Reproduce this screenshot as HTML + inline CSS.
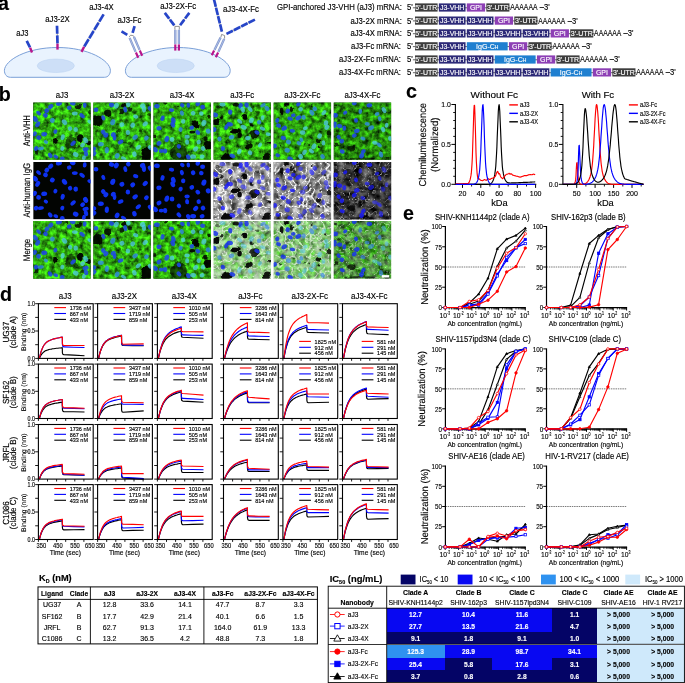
<!DOCTYPE html>
<html><head><meta charset="utf-8"><title>Figure</title>
<style>html,body{margin:0;padding:0;background:#fff}svg{display:block}text{font-family:"Liberation Sans",Arial,sans-serif;fill:#000;stroke:#000;stroke-width:.14px}.b{fill:var(--b);opacity:var(--ob)}.m{fill:var(--m);opacity:var(--om)}.c{fill:var(--c);opacity:var(--oc)}.nA{--b:#1030f0;--m:#1030f0;--c:#1030f0;--ob:1;--om:1;--oc:1}.nB{--b:#1818ff;--m:#2020ff;--c:#2828ff;--ob:.8;--om:.65;--oc:.55}.nC{--b:#1c48e8;--m:#3088e8;--c:#50cce8;--ob:.88;--om:.8;--oc:.75}.nD{--b:#1434ea;--m:#3a80ee;--c:#5ac8ee;--ob:.85;--om:.65;--oc:.55}</style></head>
<body>
<svg width="685" height="683" viewBox="0 0 685 683">
<defs><filter id="g0" x="0" y="0" width="100%" height="100%" color-interpolation-filters="sRGB"><feTurbulence type="fractalNoise" baseFrequency="0.2" numOctaves="3" seed="3"/><feColorMatrix type="matrix" values="0.419 0 0 0 -0.018  1.350 0 0 0 0.005  0.121 0 0 0 0.000  0 0 0 0 1"/></filter>
<filter id="g1" x="0" y="0" width="100%" height="100%" color-interpolation-filters="sRGB"><feTurbulence type="fractalNoise" baseFrequency="0.2" numOctaves="3" seed="10"/><feColorMatrix type="matrix" values="0.419 0 0 0 -0.025  1.350 0 0 0 -0.015  0.121 0 0 0 -0.001  0 0 0 0 1"/></filter>
<filter id="g2" x="0" y="0" width="100%" height="100%" color-interpolation-filters="sRGB"><feTurbulence type="fractalNoise" baseFrequency="0.2" numOctaves="3" seed="17"/><feColorMatrix type="matrix" values="0.419 0 0 0 -0.018  1.350 0 0 0 0.005  0.121 0 0 0 0.000  0 0 0 0 1"/></filter>
<filter id="g3" x="0" y="0" width="100%" height="100%" color-interpolation-filters="sRGB"><feTurbulence type="fractalNoise" baseFrequency="0.2" numOctaves="3" seed="24"/><feColorMatrix type="matrix" values="0.450 0 0 0 -0.040  1.450 0 0 0 -0.065  0.131 0 0 0 -0.006  0 0 0 0 1"/></filter>
<filter id="g4" x="0" y="0" width="100%" height="100%" color-interpolation-filters="sRGB"><feTurbulence type="fractalNoise" baseFrequency="0.2" numOctaves="3" seed="31"/><feColorMatrix type="matrix" values="0.403 0 0 0 -0.023  1.300 0 0 0 -0.010  0.117 0 0 0 -0.001  0 0 0 0 1"/></filter>
<filter id="g5" x="0" y="0" width="100%" height="100%" color-interpolation-filters="sRGB"><feTurbulence type="fractalNoise" baseFrequency="0.2" numOctaves="3" seed="38"/><feColorMatrix type="matrix" values="0.388 0 0 0 -0.043  1.250 0 0 0 -0.075  0.112 0 0 0 -0.007  0 0 0 0 1"/></filter>
<filter id="w3" x="0" y="0" width="100%" height="100%" color-interpolation-filters="sRGB"><feTurbulence type="fractalNoise" baseFrequency="0.13" numOctaves="3" seed="17" result="n1"/><feColorMatrix in="n1" type="matrix" values="1.300 0 0 0 -0.070  1.300 0 0 0 -0.070  1.300 0 0 0 -0.070  0 0 0 0 1" result="g1"/><feTurbulence type="turbulence" baseFrequency="0.13" numOctaves="2" seed="26" result="n2"/><feColorMatrix in="n2" type="matrix" values="-3.200 0 0 0 1.100  -3.200 0 0 0 1.100  -3.200 0 0 0 1.100  0 0 0 0 1" result="g2"/><feBlend in="g1" in2="g2" mode="lighten"/></filter>
<filter id="w4" x="0" y="0" width="100%" height="100%" color-interpolation-filters="sRGB"><feTurbulence type="fractalNoise" baseFrequency="0.13" numOctaves="3" seed="22" result="n1"/><feColorMatrix in="n1" type="matrix" values="1.100 0 0 0 -0.070  1.100 0 0 0 -0.070  1.100 0 0 0 -0.070  0 0 0 0 1" result="g1"/><feTurbulence type="turbulence" baseFrequency="0.14" numOctaves="2" seed="31" result="n2"/><feColorMatrix in="n2" type="matrix" values="-3.200 0 0 0 1.100  -3.200 0 0 0 1.100  -3.200 0 0 0 1.100  0 0 0 0 1" result="g2"/><feBlend in="g1" in2="g2" mode="lighten"/></filter>
<filter id="w5" x="0" y="0" width="100%" height="100%" color-interpolation-filters="sRGB"><feTurbulence type="fractalNoise" baseFrequency="0.13" numOctaves="3" seed="27" result="n1"/><feColorMatrix in="n1" type="matrix" values="0.800 0 0 0 -0.200  0.800 0 0 0 -0.200  0.800 0 0 0 -0.200  0 0 0 0 1" result="g1"/><feTurbulence type="turbulence" baseFrequency="0.16" numOctaves="2" seed="36" result="n2"/><feColorMatrix in="n2" type="matrix" values="-3.000 0 0 0 0.600  -3.000 0 0 0 0.600  -3.000 0 0 0 0.600  0 0 0 0 1" result="g2"/><feBlend in="g1" in2="g2" mode="lighten"/></filter>
<filter id="bl1" x="-10%" y="-10%" width="120%" height="120%"><feTurbulence type="fractalNoise" baseFrequency="0.09" numOctaves="2" seed="4" result="t"/><feDisplacementMap in="SourceGraphic" in2="t" scale="5" xChannelSelector="R" yChannelSelector="G"/><feGaussianBlur stdDeviation="0.6"/></filter>
<filter id="bl0" x="-10%" y="-10%" width="120%" height="120%"><feGaussianBlur stdDeviation="0.5"/></filter>
<clipPath id="cp00"><rect x="33.20" y="102.40" width="57.5" height="57.40"/></clipPath>
<clipPath id="cp01"><rect x="33.20" y="162.00" width="57.5" height="57.40"/></clipPath>
<clipPath id="cp02"><rect x="33.20" y="221.00" width="57.5" height="57.80"/></clipPath>
<clipPath id="cp10"><rect x="93.30" y="102.40" width="57.5" height="57.40"/></clipPath>
<clipPath id="cp11"><rect x="93.30" y="162.00" width="57.5" height="57.40"/></clipPath>
<clipPath id="cp12"><rect x="93.30" y="221.00" width="57.5" height="57.80"/></clipPath>
<clipPath id="cp20"><rect x="153.40" y="102.40" width="57.5" height="57.40"/></clipPath>
<clipPath id="cp21"><rect x="153.40" y="162.00" width="57.5" height="57.40"/></clipPath>
<clipPath id="cp22"><rect x="153.40" y="221.00" width="57.5" height="57.80"/></clipPath>
<clipPath id="cp30"><rect x="213.50" y="102.40" width="57.5" height="57.40"/></clipPath>
<clipPath id="cp31"><rect x="213.50" y="162.00" width="57.5" height="57.40"/></clipPath>
<clipPath id="cp32"><rect x="213.50" y="221.00" width="57.5" height="57.80"/></clipPath>
<clipPath id="cp40"><rect x="273.60" y="102.40" width="57.5" height="57.40"/></clipPath>
<clipPath id="cp41"><rect x="273.60" y="162.00" width="57.5" height="57.40"/></clipPath>
<clipPath id="cp42"><rect x="273.60" y="221.00" width="57.5" height="57.80"/></clipPath>
<clipPath id="cp50"><rect x="333.70" y="102.40" width="57.5" height="57.40"/></clipPath>
<clipPath id="cp51"><rect x="333.70" y="162.00" width="57.5" height="57.40"/></clipPath>
<clipPath id="cp52"><rect x="333.70" y="221.00" width="57.5" height="57.80"/></clipPath><g id="n0" filter="url(#bl0)"><ellipse cx="17.5" cy="4.2" rx="2.9" ry="2.2" class="b" transform="rotate(143 17.5 4.2)"/><ellipse cx="25.7" cy="1.2" rx="3.1" ry="2.2" class="b" transform="rotate(166 25.7 1.2)"/><ellipse cx="36.0" cy="5.5" rx="2.3" ry="2.1" class="b" transform="rotate(170 36.0 5.5)"/><ellipse cx="39.5" cy="0.8" rx="2.9" ry="2.3" class="b" transform="rotate(20 39.5 0.8)"/><ellipse cx="51.5" cy="2.9" rx="2.7" ry="1.9" class="b" transform="rotate(98 51.5 2.9)"/><ellipse cx="5.4" cy="10.7" rx="2.8" ry="1.8" class="b" transform="rotate(39 5.4 10.7)"/><ellipse cx="13.6" cy="8.1" rx="2.6" ry="2.3" class="b" transform="rotate(138 13.6 8.1)"/><ellipse cx="12.3" cy="12.9" rx="2.4" ry="2.3" class="b" transform="rotate(25 12.3 12.9)"/><ellipse cx="41.6" cy="11.1" rx="2.9" ry="1.9" class="c" transform="rotate(0 41.6 11.1)"/><ellipse cx="48.9" cy="13.3" rx="3.1" ry="1.9" class="b" transform="rotate(39 48.9 13.3)"/><ellipse cx="2.0" cy="16.7" rx="3.2" ry="2.3" class="b" transform="rotate(52 2.0 16.7)"/><ellipse cx="4.5" cy="21.9" rx="3.2" ry="2.1" class="b" transform="rotate(122 4.5 21.9)"/><ellipse cx="19.2" cy="18.0" rx="2.5" ry="2.4" class="m" transform="rotate(124 19.2 18.0)"/><ellipse cx="31.3" cy="19.8" rx="3.2" ry="2.3" class="c" transform="rotate(54 31.3 19.8)"/><ellipse cx="56.7" cy="19.3" rx="2.6" ry="1.9" class="c" transform="rotate(26 56.7 19.3)"/><ellipse cx="22.2" cy="29.2" rx="2.4" ry="2.0" class="b" transform="rotate(109 22.2 29.2)"/><ellipse cx="36.9" cy="26.2" rx="2.3" ry="2.2" class="c" transform="rotate(61 36.9 26.2)"/><ellipse cx="42.5" cy="27.1" rx="2.6" ry="2.3" class="c" transform="rotate(87 42.5 27.1)"/><ellipse cx="1.5" cy="31.4" rx="2.6" ry="2.1" class="b" transform="rotate(127 1.5 31.4)"/><ellipse cx="5.4" cy="35.3" rx="2.4" ry="2.4" class="b" transform="rotate(4 5.4 35.3)"/><ellipse cx="11.0" cy="31.8" rx="3.0" ry="2.3" class="b" transform="rotate(3 11.0 31.8)"/><ellipse cx="29.5" cy="34.8" rx="3.0" ry="2.0" class="c" transform="rotate(104 29.5 34.8)"/><ellipse cx="12.7" cy="39.6" rx="2.3" ry="1.8" class="m" transform="rotate(33 12.7 39.6)"/><ellipse cx="39.9" cy="40.9" rx="3.2" ry="1.9" class="b" transform="rotate(136 39.9 40.9)"/><ellipse cx="52.4" cy="37.9" rx="3.1" ry="2.4" class="c" transform="rotate(62 52.4 37.9)"/><ellipse cx="49.4" cy="42.6" rx="2.6" ry="2.1" class="c" transform="rotate(140 49.4 42.6)"/><ellipse cx="2.8" cy="46.1" rx="2.4" ry="2.2" class="b" transform="rotate(144 2.8 46.1)"/><ellipse cx="7.6" cy="46.1" rx="3.1" ry="1.8" class="m" transform="rotate(170 7.6 46.1)"/><ellipse cx="29.1" cy="46.1" rx="2.4" ry="2.0" class="c" transform="rotate(110 29.1 46.1)"/><ellipse cx="52.4" cy="46.9" rx="3.1" ry="2.0" class="b" transform="rotate(166 52.4 46.9)"/><ellipse cx="17.0" cy="52.9" rx="2.8" ry="2.0" class="b" transform="rotate(57 17.0 52.9)"/><ellipse cx="22.6" cy="54.2" rx="2.5" ry="1.8" class="b" transform="rotate(27 22.6 54.2)"/><ellipse cx="42.5" cy="52.1" rx="2.9" ry="2.4" class="c" transform="rotate(29 42.5 52.1)"/><ellipse cx="29.1" cy="56.4" rx="2.3" ry="2.4" class="b" transform="rotate(96 29.1 56.4)"/><ellipse cx="50.7" cy="55.5" rx="2.7" ry="1.9" class="c" transform="rotate(107 50.7 55.5)"/><ellipse cx="52.8" cy="51.2" rx="3.0" ry="2.1" class="b" transform="rotate(76 52.8 51.2)"/></g>
<g id="d0" filter="url(#bl1)"><ellipse cx="21.8" cy="39.2" rx="2.9" ry="3.3" opacity="0.95"/><ellipse cx="48.1" cy="35.7" rx="3.3" ry="3.9" opacity="0.95"/><ellipse cx="37.7" cy="40.0" rx="6.2" ry="7.2" opacity="0.55"/><ellipse cx="45.5" cy="4.2" rx="2.9" ry="2.6" opacity="0.8"/><ellipse cx="34.3" cy="1.7" rx="1.9" ry="1.6" opacity="0.7"/><ellipse cx="55.8" cy="40.0" rx="2.3" ry="2.9" opacity="0.9"/><ellipse cx="2.4" cy="50.4" rx="1.9" ry="1.9" opacity="0.7"/><ellipse cx="56.7" cy="9.8" rx="1.7" ry="2.3" opacity="0.7"/><ellipse cx="11.0" cy="21.9" rx="2.6" ry="1.9" opacity="0.3"/><ellipse cx="48.1" cy="51.2" rx="2.1" ry="2.1" opacity="0.5"/></g>
<g id="n1" filter="url(#bl0)"><ellipse cx="2.7" cy="7.3" rx="2.4" ry="2.3" class="b" transform="rotate(6 2.7 7.3)"/><ellipse cx="18.2" cy="2.5" rx="2.7" ry="2.3" class="b" transform="rotate(24 18.2 2.5)"/><ellipse cx="23.0" cy="3.4" rx="3.0" ry="2.4" class="c" transform="rotate(113 23.0 3.4)"/><ellipse cx="32.0" cy="7.1" rx="3.0" ry="1.9" class="b" transform="rotate(78 32.0 7.1)"/><ellipse cx="35.0" cy="2.1" rx="2.4" ry="2.3" class="c" transform="rotate(53 35.0 2.1)"/><ellipse cx="49.3" cy="3.4" rx="2.7" ry="2.4" class="c" transform="rotate(153 49.3 3.4)"/><ellipse cx="50.6" cy="6.8" rx="3.2" ry="2.1" class="c" transform="rotate(88 50.6 6.8)"/><ellipse cx="57.0" cy="6.4" rx="3.0" ry="2.1" class="b" transform="rotate(52 57.0 6.4)"/><ellipse cx="10.0" cy="15.4" rx="2.7" ry="1.9" class="b" transform="rotate(68 10.0 15.4)"/><ellipse cx="19.5" cy="19.8" rx="3.2" ry="2.4" class="m" transform="rotate(113 19.5 19.8)"/><ellipse cx="42.4" cy="14.2" rx="2.7" ry="2.0" class="c" transform="rotate(16 42.4 14.2)"/><ellipse cx="28.6" cy="22.3" rx="2.5" ry="2.3" class="c" transform="rotate(156 28.6 22.3)"/><ellipse cx="39.4" cy="22.8" rx="2.6" ry="2.3" class="c" transform="rotate(139 39.4 22.8)"/><ellipse cx="51.9" cy="21.5" rx="2.9" ry="2.2" class="c" transform="rotate(137 51.9 21.5)"/><ellipse cx="10.0" cy="29.7" rx="2.6" ry="2.2" class="b" transform="rotate(51 10.0 29.7)"/><ellipse cx="12.6" cy="32.7" rx="2.7" ry="2.3" class="b" transform="rotate(124 12.6 32.7)"/><ellipse cx="20.0" cy="32.3" rx="2.6" ry="2.4" class="b" transform="rotate(117 20.0 32.3)"/><ellipse cx="21.3" cy="35.3" rx="2.8" ry="1.8" class="b" transform="rotate(98 21.3 35.3)"/><ellipse cx="34.6" cy="30.1" rx="2.5" ry="2.2" class="c" transform="rotate(83 34.6 30.1)"/><ellipse cx="41.9" cy="34.8" rx="3.0" ry="2.2" class="m" transform="rotate(144 41.9 34.8)"/><ellipse cx="53.1" cy="35.7" rx="2.6" ry="2.2" class="m" transform="rotate(133 53.1 35.7)"/><ellipse cx="27.3" cy="39.6" rx="3.0" ry="2.0" class="b" transform="rotate(152 27.3 39.6)"/><ellipse cx="7.5" cy="41.7" rx="3.1" ry="2.2" class="m" transform="rotate(176 7.5 41.7)"/><ellipse cx="13.5" cy="47.8" rx="3.2" ry="2.1" class="m" transform="rotate(95 13.5 47.8)"/><ellipse cx="0.6" cy="46.5" rx="2.4" ry="2.3" class="b" transform="rotate(169 0.6 46.5)"/><ellipse cx="0.6" cy="51.2" rx="2.7" ry="2.2" class="b" transform="rotate(130 0.6 51.2)"/><ellipse cx="45.0" cy="44.8" rx="3.0" ry="1.9" class="c" transform="rotate(140 45.0 44.8)"/><ellipse cx="41.1" cy="51.7" rx="2.8" ry="2.2" class="c" transform="rotate(76 41.1 51.7)"/><ellipse cx="23.8" cy="53.4" rx="2.9" ry="2.3" class="m" transform="rotate(115 23.8 53.4)"/><ellipse cx="30.3" cy="56.0" rx="2.9" ry="1.8" class="c" transform="rotate(29 30.3 56.0)"/><ellipse cx="57.0" cy="45.2" rx="2.7" ry="2.2" class="c" transform="rotate(39 57.0 45.2)"/></g>
<g id="d1" filter="url(#bl1)"><ellipse cx="4.0" cy="19.3" rx="5.2" ry="6.2" opacity="0.92"/><ellipse cx="14.4" cy="10.7" rx="3.6" ry="3.3" opacity="0.85"/><ellipse cx="28.1" cy="9.0" rx="2.9" ry="2.7" opacity="0.8"/><ellipse cx="29.9" cy="2.5" rx="3.1" ry="2.5" opacity="0.9"/><ellipse cx="53.1" cy="51.2" rx="5.7" ry="6.7" opacity="0.95"/><ellipse cx="37.6" cy="6.4" rx="2.3" ry="1.9" opacity="0.7"/><ellipse cx="55.7" cy="12.4" rx="1.9" ry="1.9" opacity="0.6"/><ellipse cx="25.6" cy="27.9" rx="2.1" ry="1.7" opacity="0.5"/><ellipse cx="46.7" cy="27.9" rx="1.9" ry="1.7" opacity="0.5"/><ellipse cx="35.9" cy="40.9" rx="1.9" ry="1.7" opacity="0.5"/></g>
<g id="n2" filter="url(#bl0)"><ellipse cx="3.5" cy="3.8" rx="2.9" ry="2.2" class="b" transform="rotate(8 3.5 3.8)"/><ellipse cx="18.1" cy="7.7" rx="2.7" ry="1.9" class="b" transform="rotate(10 18.1 7.7)"/><ellipse cx="28.9" cy="2.9" rx="2.4" ry="2.0" class="b" transform="rotate(33 28.9 2.9)"/><ellipse cx="34.9" cy="2.9" rx="2.5" ry="1.8" class="b" transform="rotate(84 34.9 2.9)"/><ellipse cx="44.4" cy="1.2" rx="2.6" ry="2.2" class="b" transform="rotate(106 44.4 1.2)"/><ellipse cx="49.2" cy="4.7" rx="2.5" ry="2.3" class="b" transform="rotate(0 49.2 4.7)"/><ellipse cx="28.5" cy="10.7" rx="2.7" ry="2.0" class="m" transform="rotate(74 28.5 10.7)"/><ellipse cx="39.7" cy="10.7" rx="2.4" ry="2.3" class="c" transform="rotate(67 39.7 10.7)"/><ellipse cx="47.9" cy="11.1" rx="2.3" ry="2.2" class="c" transform="rotate(17 47.9 11.1)"/><ellipse cx="9.1" cy="15.9" rx="2.8" ry="2.0" class="b" transform="rotate(105 9.1 15.9)"/><ellipse cx="19.9" cy="18.0" rx="3.2" ry="2.3" class="b" transform="rotate(75 19.9 18.0)"/><ellipse cx="19.4" cy="22.3" rx="3.0" ry="2.2" class="b" transform="rotate(66 19.4 22.3)"/><ellipse cx="29.8" cy="18.9" rx="2.4" ry="2.2" class="c" transform="rotate(101 29.8 18.9)"/><ellipse cx="50.5" cy="20.6" rx="3.2" ry="2.4" class="c" transform="rotate(110 50.5 20.6)"/><ellipse cx="5.6" cy="25.8" rx="2.6" ry="2.3" class="b" transform="rotate(0 5.6 25.8)"/><ellipse cx="27.2" cy="27.1" rx="2.4" ry="2.1" class="m" transform="rotate(111 27.2 27.1)"/><ellipse cx="38.4" cy="25.4" rx="2.4" ry="2.2" class="b" transform="rotate(160 38.4 25.4)"/><ellipse cx="44.4" cy="30.1" rx="2.6" ry="2.1" class="b" transform="rotate(41 44.4 30.1)"/><ellipse cx="54.8" cy="28.8" rx="2.6" ry="2.4" class="m" transform="rotate(68 54.8 28.8)"/><ellipse cx="13.4" cy="36.6" rx="3.2" ry="2.3" class="b" transform="rotate(107 13.4 36.6)"/><ellipse cx="18.6" cy="37.0" rx="2.5" ry="2.4" class="c" transform="rotate(89 18.6 37.0)"/><ellipse cx="33.7" cy="34.4" rx="2.7" ry="2.0" class="c" transform="rotate(177 33.7 34.4)"/><ellipse cx="33.7" cy="39.6" rx="2.7" ry="2.0" class="c" transform="rotate(86 33.7 39.6)"/><ellipse cx="45.3" cy="39.6" rx="2.4" ry="2.2" class="c" transform="rotate(80 45.3 39.6)"/><ellipse cx="5.6" cy="40.9" rx="2.6" ry="2.3" class="b" transform="rotate(149 5.6 40.9)"/><ellipse cx="25.5" cy="43.9" rx="2.3" ry="2.1" class="b" transform="rotate(49 25.5 43.9)"/><ellipse cx="1.8" cy="47.3" rx="3.1" ry="2.3" class="b" transform="rotate(44 1.8 47.3)"/><ellipse cx="7.8" cy="48.6" rx="2.5" ry="1.9" class="b" transform="rotate(178 7.8 48.6)"/><ellipse cx="11.7" cy="48.6" rx="2.6" ry="2.2" class="b" transform="rotate(85 11.7 48.6)"/><ellipse cx="42.3" cy="46.5" rx="2.9" ry="2.2" class="c" transform="rotate(134 42.3 46.5)"/><ellipse cx="49.6" cy="46.1" rx="2.4" ry="2.3" class="c" transform="rotate(54 49.6 46.1)"/><ellipse cx="25.5" cy="52.9" rx="2.8" ry="2.0" class="b" transform="rotate(53 25.5 52.9)"/><ellipse cx="34.9" cy="54.7" rx="2.8" ry="2.1" class="b" transform="rotate(65 34.9 54.7)"/><ellipse cx="39.7" cy="54.2" rx="3.0" ry="2.2" class="c" transform="rotate(7 39.7 54.2)"/><ellipse cx="48.7" cy="54.2" rx="2.5" ry="2.1" class="c" transform="rotate(165 48.7 54.2)"/></g>
<g id="d2" filter="url(#bl1)"><ellipse cx="42.3" cy="21.9" rx="2.7" ry="4.1" opacity="0.95"/><ellipse cx="38.4" cy="29.7" rx="2.5" ry="1.7" opacity="0.9"/><ellipse cx="25.5" cy="50.4" rx="9.3" ry="8.8" opacity="0.62"/><ellipse cx="54.8" cy="42.6" rx="3.9" ry="5.2" opacity="0.95"/><ellipse cx="53.0" cy="35.7" rx="2.3" ry="1.9" opacity="0.85"/><ellipse cx="0.5" cy="34.0" rx="1.4" ry="1.9" opacity="0.8"/><ellipse cx="11.7" cy="1.2" rx="1.9" ry="1.2" opacity="0.8"/><ellipse cx="23.7" cy="4.7" rx="1.4" ry="1.4" opacity="0.7"/><ellipse cx="55.6" cy="15.0" rx="1.7" ry="2.3" opacity="0.8"/><ellipse cx="34.1" cy="55.5" rx="3.1" ry="2.6" opacity="0.5"/></g>
<g id="n3" filter="url(#bl0)"><ellipse cx="9.0" cy="2.1" rx="3.1" ry="2.1" class="c" transform="rotate(3 9.0 2.1)"/><ellipse cx="27.1" cy="3.4" rx="3.0" ry="2.1" class="b" transform="rotate(104 27.1 3.4)"/><ellipse cx="33.1" cy="2.5" rx="2.9" ry="2.2" class="b" transform="rotate(87 33.1 2.5)"/><ellipse cx="29.2" cy="7.3" rx="3.1" ry="2.0" class="c" transform="rotate(71 29.2 7.3)"/><ellipse cx="36.6" cy="6.8" rx="3.1" ry="1.9" class="c" transform="rotate(53 36.6 6.8)"/><ellipse cx="49.5" cy="2.9" rx="3.0" ry="1.8" class="m" transform="rotate(151 49.5 2.9)"/><ellipse cx="53.4" cy="6.0" rx="2.9" ry="2.1" class="m" transform="rotate(52 53.4 6.0)"/><ellipse cx="1.7" cy="12.4" rx="3.0" ry="2.3" class="b" transform="rotate(26 1.7 12.4)"/><ellipse cx="16.7" cy="9.8" rx="2.7" ry="2.1" class="b" transform="rotate(90 16.7 9.8)"/><ellipse cx="49.1" cy="15.4" rx="2.6" ry="1.9" class="c" transform="rotate(105 49.1 15.4)"/><ellipse cx="26.2" cy="18.9" rx="3.0" ry="1.8" class="c" transform="rotate(41 26.2 18.9)"/><ellipse cx="37.9" cy="18.0" rx="3.0" ry="2.3" class="c" transform="rotate(119 37.9 18.0)"/><ellipse cx="45.6" cy="19.8" rx="2.3" ry="2.2" class="m" transform="rotate(176 45.6 19.8)"/><ellipse cx="16.3" cy="21.9" rx="3.2" ry="2.2" class="b" transform="rotate(9 16.3 21.9)"/><ellipse cx="12.9" cy="24.5" rx="3.1" ry="1.9" class="b" transform="rotate(116 12.9 24.5)"/><ellipse cx="30.1" cy="24.9" rx="3.2" ry="2.2" class="c" transform="rotate(24 30.1 24.9)"/><ellipse cx="0.4" cy="27.1" rx="2.6" ry="2.4" class="b" transform="rotate(27 0.4 27.1)"/><ellipse cx="43.5" cy="30.1" rx="2.8" ry="2.0" class="b" transform="rotate(29 43.5 30.1)"/><ellipse cx="49.1" cy="26.2" rx="2.9" ry="1.8" class="c" transform="rotate(19 49.1 26.2)"/><ellipse cx="54.7" cy="31.8" rx="2.6" ry="1.8" class="c" transform="rotate(10 54.7 31.8)"/><ellipse cx="18.0" cy="34.8" rx="2.8" ry="2.2" class="m" transform="rotate(158 18.0 34.8)"/><ellipse cx="6.0" cy="36.6" rx="2.4" ry="2.1" class="m" transform="rotate(57 6.0 36.6)"/><ellipse cx="34.4" cy="35.7" rx="2.8" ry="2.1" class="c" transform="rotate(169 34.4 35.7)"/><ellipse cx="46.5" cy="42.6" rx="2.6" ry="1.8" class="c" transform="rotate(126 46.5 42.6)"/><ellipse cx="9.4" cy="46.1" rx="2.4" ry="2.2" class="b" transform="rotate(91 9.4 46.1)"/><ellipse cx="25.8" cy="49.1" rx="3.1" ry="2.1" class="c" transform="rotate(112 25.8 49.1)"/><ellipse cx="36.6" cy="50.4" rx="2.5" ry="2.1" class="c" transform="rotate(46 36.6 50.4)"/><ellipse cx="18.9" cy="53.4" rx="3.0" ry="2.1" class="b" transform="rotate(24 18.9 53.4)"/></g>
<g id="d3" filter="url(#bl1)"><ellipse cx="31.0" cy="14.6" rx="3.1" ry="2.9" opacity="0.97"/><ellipse cx="2.9" cy="20.2" rx="3.9" ry="3.7" opacity="0.95"/><ellipse cx="21.5" cy="27.9" rx="5.7" ry="2.3" opacity="0.97"/><ellipse cx="27.1" cy="33.1" rx="2.3" ry="3.5" opacity="0.95"/><ellipse cx="40.9" cy="31.4" rx="5.2" ry="4.1" opacity="0.8"/><ellipse cx="8.1" cy="14.6" rx="1.9" ry="1.9" opacity="0.8"/><ellipse cx="35.7" cy="44.3" rx="3.5" ry="2.7" opacity="0.9"/><ellipse cx="13.3" cy="54.7" rx="5.0" ry="3.5" opacity="0.95"/><ellipse cx="56.4" cy="40.0" rx="1.7" ry="1.4" opacity="0.85"/><ellipse cx="52.9" cy="54.7" rx="3.5" ry="3.1" opacity="0.9"/><ellipse cx="21.9" cy="2.9" rx="2.9" ry="2.5" opacity="0.85"/><ellipse cx="38.7" cy="22.3" rx="1.4" ry="1.7" opacity="0.85"/><ellipse cx="4.7" cy="4.7" rx="2.1" ry="1.7" opacity="0.5"/><ellipse cx="44.3" cy="9.8" rx="1.9" ry="1.4" opacity="0.5"/></g>
<g id="n4" filter="url(#bl0)"><ellipse cx="24.8" cy="1.7" rx="2.5" ry="2.0" class="b" transform="rotate(133 24.8 1.7)"/><ellipse cx="14.1" cy="8.6" rx="2.5" ry="2.2" class="b" transform="rotate(118 14.1 8.6)"/><ellipse cx="27.0" cy="6.8" rx="2.4" ry="2.2" class="c" transform="rotate(16 27.0 6.8)"/><ellipse cx="41.2" cy="6.4" rx="2.4" ry="2.2" class="m" transform="rotate(43 41.2 6.4)"/><ellipse cx="38.2" cy="10.3" rx="3.1" ry="2.1" class="m" transform="rotate(58 38.2 10.3)"/><ellipse cx="50.3" cy="10.3" rx="3.0" ry="1.8" class="c" transform="rotate(131 50.3 10.3)"/><ellipse cx="19.7" cy="12.9" rx="2.3" ry="1.9" class="b" transform="rotate(171 19.7 12.9)"/><ellipse cx="16.6" cy="16.3" rx="2.9" ry="1.9" class="b" transform="rotate(21 16.6 16.3)"/><ellipse cx="24.8" cy="15.4" rx="3.2" ry="2.2" class="b" transform="rotate(148 24.8 15.4)"/><ellipse cx="30.0" cy="15.0" rx="2.4" ry="2.2" class="m" transform="rotate(64 30.0 15.0)"/><ellipse cx="3.7" cy="18.0" rx="2.5" ry="2.0" class="b" transform="rotate(110 3.7 18.0)"/><ellipse cx="5.0" cy="23.2" rx="2.6" ry="2.0" class="b" transform="rotate(25 5.0 23.2)"/><ellipse cx="10.6" cy="25.8" rx="3.0" ry="2.2" class="b" transform="rotate(145 10.6 25.8)"/><ellipse cx="52.4" cy="20.6" rx="2.7" ry="2.3" class="c" transform="rotate(93 52.4 20.6)"/><ellipse cx="53.3" cy="24.9" rx="2.8" ry="2.1" class="c" transform="rotate(133 53.3 24.9)"/><ellipse cx="18.8" cy="28.4" rx="2.7" ry="1.9" class="b" transform="rotate(6 18.8 28.4)"/><ellipse cx="31.7" cy="25.8" rx="2.5" ry="1.8" class="c" transform="rotate(160 31.7 25.8)"/><ellipse cx="29.1" cy="30.1" rx="2.7" ry="2.3" class="c" transform="rotate(0 29.1 30.1)"/><ellipse cx="46.0" cy="33.6" rx="2.7" ry="2.3" class="c" transform="rotate(112 46.0 33.6)"/><ellipse cx="9.7" cy="35.7" rx="2.7" ry="2.1" class="b" transform="rotate(18 9.7 35.7)"/><ellipse cx="27.8" cy="37.4" rx="2.4" ry="1.9" class="m" transform="rotate(67 27.8 37.4)"/><ellipse cx="14.9" cy="39.6" rx="2.6" ry="2.3" class="m" transform="rotate(27 14.9 39.6)"/><ellipse cx="25.3" cy="40.9" rx="2.5" ry="2.0" class="m" transform="rotate(29 25.3 40.9)"/><ellipse cx="49.8" cy="40.4" rx="2.6" ry="1.9" class="c" transform="rotate(87 49.8 40.4)"/><ellipse cx="1.1" cy="43.5" rx="2.3" ry="2.4" class="b" transform="rotate(66 1.1 43.5)"/><ellipse cx="40.3" cy="43.9" rx="3.1" ry="2.2" class="c" transform="rotate(121 40.3 43.9)"/><ellipse cx="13.6" cy="47.8" rx="2.7" ry="2.4" class="m" transform="rotate(21 13.6 47.8)"/><ellipse cx="30.9" cy="49.9" rx="2.9" ry="2.0" class="c" transform="rotate(121 30.9 49.9)"/><ellipse cx="37.8" cy="48.6" rx="3.0" ry="1.9" class="c" transform="rotate(36 37.8 48.6)"/><ellipse cx="4.1" cy="52.9" rx="2.3" ry="1.9" class="b" transform="rotate(14 4.1 52.9)"/><ellipse cx="27.0" cy="54.2" rx="2.7" ry="2.4" class="c" transform="rotate(66 27.0 54.2)"/><ellipse cx="49.0" cy="54.2" rx="2.6" ry="2.1" class="m" transform="rotate(51 49.0 54.2)"/><ellipse cx="16.6" cy="56.4" rx="3.0" ry="2.2" class="b" transform="rotate(29 16.6 56.4)"/></g>
<g id="d4" filter="url(#bl1)"><ellipse cx="12.3" cy="2.1" rx="2.9" ry="2.1" opacity="0.95"/><ellipse cx="8.0" cy="9.0" rx="1.9" ry="3.7" opacity="0.9"/><ellipse cx="17.9" cy="7.3" rx="1.7" ry="2.3" opacity="0.85"/><ellipse cx="46.0" cy="38.3" rx="2.7" ry="2.3" opacity="0.85"/><ellipse cx="55.4" cy="30.5" rx="2.3" ry="2.7" opacity="0.8"/><ellipse cx="51.1" cy="14.2" rx="1.4" ry="1.2" opacity="0.8"/><ellipse cx="45.5" cy="44.3" rx="1.4" ry="1.2" opacity="0.85"/><ellipse cx="39.1" cy="2.9" rx="1.0" ry="1.0" opacity="0.8"/><ellipse cx="6.3" cy="44.3" rx="1.0" ry="1.0" opacity="0.7"/><ellipse cx="35.6" cy="42.6" rx="1.0" ry="1.0" opacity="0.7"/><ellipse cx="30.4" cy="41.7" rx="1.0" ry="0.8" opacity="0.7"/><ellipse cx="46.8" cy="28.8" rx="1.0" ry="1.0" opacity="0.7"/></g>
<g id="n5" filter="url(#bl0)"><ellipse cx="20.6" cy="0.8" rx="2.5" ry="2.2" class="b" transform="rotate(169 20.6 0.8)"/><ellipse cx="35.6" cy="2.9" rx="2.9" ry="2.1" class="b" transform="rotate(176 35.6 2.9)"/><ellipse cx="11.5" cy="10.3" rx="2.3" ry="1.8" class="b" transform="rotate(140 11.5 10.3)"/><ellipse cx="26.6" cy="9.0" rx="2.7" ry="1.8" class="m" transform="rotate(99 26.6 9.0)"/><ellipse cx="50.3" cy="7.7" rx="3.2" ry="2.1" class="c" transform="rotate(63 50.3 7.7)"/><ellipse cx="43.4" cy="11.6" rx="2.4" ry="1.8" class="m" transform="rotate(162 43.4 11.6)"/><ellipse cx="1.6" cy="12.9" rx="2.7" ry="2.4" class="b" transform="rotate(10 1.6 12.9)"/><ellipse cx="46.0" cy="16.3" rx="2.5" ry="1.8" class="m" transform="rotate(72 46.0 16.3)"/><ellipse cx="22.3" cy="18.0" rx="2.4" ry="2.0" class="b" transform="rotate(73 22.3 18.0)"/><ellipse cx="33.5" cy="21.5" rx="2.6" ry="1.8" class="m" transform="rotate(7 33.5 21.5)"/><ellipse cx="1.2" cy="22.3" rx="3.2" ry="1.9" class="b" transform="rotate(92 1.2 22.3)"/><ellipse cx="5.9" cy="23.6" rx="2.7" ry="2.1" class="b" transform="rotate(15 5.9 23.6)"/><ellipse cx="10.6" cy="25.8" rx="2.6" ry="1.9" class="b" transform="rotate(98 10.6 25.8)"/><ellipse cx="37.4" cy="25.4" rx="3.1" ry="2.2" class="m" transform="rotate(154 37.4 25.4)"/><ellipse cx="52.9" cy="22.8" rx="2.5" ry="1.8" class="c" transform="rotate(97 52.9 22.8)"/><ellipse cx="49.4" cy="27.1" rx="2.7" ry="2.1" class="c" transform="rotate(68 49.4 27.1)"/><ellipse cx="23.1" cy="28.4" rx="2.9" ry="2.2" class="b" transform="rotate(164 23.1 28.4)"/><ellipse cx="20.6" cy="33.1" rx="2.6" ry="2.1" class="b" transform="rotate(149 20.6 33.1)"/><ellipse cx="5.0" cy="34.8" rx="2.5" ry="1.9" class="b" transform="rotate(56 5.0 34.8)"/><ellipse cx="8.1" cy="38.7" rx="2.4" ry="2.3" class="b" transform="rotate(147 8.1 38.7)"/><ellipse cx="29.2" cy="36.1" rx="2.6" ry="1.9" class="m" transform="rotate(15 29.2 36.1)"/><ellipse cx="56.3" cy="36.1" rx="2.5" ry="1.9" class="c" transform="rotate(77 56.3 36.1)"/><ellipse cx="41.2" cy="40.4" rx="2.8" ry="1.9" class="c" transform="rotate(11 41.2 40.4)"/><ellipse cx="45.6" cy="42.6" rx="2.9" ry="1.8" class="m" transform="rotate(36 45.6 42.6)"/><ellipse cx="8.5" cy="49.1" rx="2.6" ry="2.0" class="b" transform="rotate(18 8.5 49.1)"/><ellipse cx="29.6" cy="49.1" rx="2.7" ry="2.0" class="b" transform="rotate(135 29.6 49.1)"/><ellipse cx="27.9" cy="53.4" rx="2.8" ry="2.3" class="b" transform="rotate(118 27.9 53.4)"/><ellipse cx="47.3" cy="52.1" rx="3.0" ry="2.1" class="m" transform="rotate(80 47.3 52.1)"/></g>
<g id="d5" filter="url(#bl1)"><ellipse cx="17.5" cy="45.2" rx="4.1" ry="2.9" opacity="0.7"/><ellipse cx="2.5" cy="42.6" rx="2.3" ry="2.3" opacity="0.75"/><ellipse cx="2.9" cy="2.9" rx="1.7" ry="1.0" opacity="0.7"/><ellipse cx="26.2" cy="56.4" rx="15.5" ry="1.4" opacity="0.6"/><ellipse cx="5.5" cy="19.3" rx="1.9" ry="1.4" opacity="0.6"/><ellipse cx="52.0" cy="9.8" rx="1.2" ry="1.0" opacity="0.6"/><ellipse cx="46.9" cy="48.6" rx="1.2" ry="1.0" opacity="0.7"/><ellipse cx="53.7" cy="55.5" rx="2.1" ry="1.2" opacity="0.7"/></g></defs>
<rect width="685" height="683" fill="#fff"/>
<text x="-1.90" y="9.50" font-size="19.7" font-weight="bold">a</text>
<path d="M10.4,77.3 C6.8,77.3 4.4,74.5 4.4,70.3 C4.9,60.3 26.4,47.5 57.4,47.5 C88.4,47.5 109.9,60.3 110.4,70.3 C110.4,74.5 108.0,77.3 104.4,77.3 Z" fill="#e9f3fe" stroke="#7ba0d8" stroke-width="1.0"/>
<ellipse cx="55.8" cy="65.8" rx="18.6" ry="6.8" fill="#cddff7" stroke="#b9d0f1" stroke-width="0.5"/>
<path d="M131.4,77.3 C127.8,77.3 125.4,74.5 125.4,70.3 C125.9,60.3 147.4,47.5 177.8,47.5 C208.2,47.5 229.7,60.3 230.2,70.3 C230.2,74.5 227.8,77.3 224.2,77.3 Z" fill="#e9f3fe" stroke="#7ba0d8" stroke-width="1.0"/>
<ellipse cx="175.7" cy="65.8" rx="18.6" ry="6.8" fill="#cddff7" stroke="#b9d0f1" stroke-width="0.5"/>
<line x1="32.00" y1="52.50" x2="30.10" y2="47.60" stroke="#b8168c" stroke-width="2.4" stroke-linecap="butt"/>
<line x1="30.00" y1="47.40" x2="26.70" y2="40.80" stroke="#2645c8" stroke-width="2.7" stroke-linecap="butt"/>
<line x1="57.50" y1="49.60" x2="57.50" y2="43.60" stroke="#b8168c" stroke-width="2.4" stroke-linecap="butt"/>
<line x1="57.50" y1="43.40" x2="57.00" y2="25.80" stroke="#8c8468" stroke-width="0.7" stroke-linecap="butt"/>
<line x1="57.50" y1="43.40" x2="57.27" y2="35.40" stroke="#2645c8" stroke-width="2.7" stroke-linecap="butt"/>
<line x1="57.23" y1="33.80" x2="57.00" y2="25.80" stroke="#2645c8" stroke-width="2.7" stroke-linecap="butt"/>
<line x1="81.50" y1="51.90" x2="84.10" y2="46.80" stroke="#b8168c" stroke-width="2.4" stroke-linecap="butt"/>
<line x1="84.30" y1="46.50" x2="103.60" y2="14.40" stroke="#8c8468" stroke-width="0.7" stroke-linecap="butt"/>
<line x1="84.30" y1="46.50" x2="88.62" y2="39.31" stroke="#2645c8" stroke-width="2.7" stroke-linecap="butt"/>
<line x1="89.29" y1="38.20" x2="93.62" y2="31.01" stroke="#2645c8" stroke-width="2.7" stroke-linecap="butt"/>
<line x1="94.28" y1="29.89" x2="98.61" y2="22.70" stroke="#2645c8" stroke-width="2.7" stroke-linecap="butt"/>
<line x1="99.28" y1="21.59" x2="103.60" y2="14.40" stroke="#2645c8" stroke-width="2.7" stroke-linecap="butt"/>
<line x1="129.60" y1="37.90" x2="135.60" y2="51.90" stroke="#8196cc" stroke-width="2.3" stroke-linecap="butt"/>
<line x1="129.60" y1="37.90" x2="135.60" y2="51.90" stroke="#a9bbe4" stroke-width="1.0" stroke-linecap="butt"/>
<line x1="133.90" y1="36.80" x2="139.60" y2="49.90" stroke="#8196cc" stroke-width="2.3" stroke-linecap="butt"/>
<line x1="133.90" y1="36.80" x2="139.60" y2="49.90" stroke="#a9bbe4" stroke-width="1.0" stroke-linecap="butt"/>
<line x1="135.90" y1="52.50" x2="138.30" y2="57.80" stroke="#b8168c" stroke-width="2.2" stroke-linecap="butt"/>
<line x1="139.80" y1="50.50" x2="142.20" y2="55.80" stroke="#b8168c" stroke-width="2.2" stroke-linecap="butt"/>
<path d="M129.2,36.9 L130.6,35.2 L132.9,35.6 L134.0,36.4" fill="none" stroke="#777" stroke-width="0.8"/>
<line x1="127.30" y1="34.90" x2="121.50" y2="31.40" stroke="#2645c8" stroke-width="2.7" stroke-linecap="butt"/>
<line x1="132.60" y1="32.90" x2="134.60" y2="26.20" stroke="#2645c8" stroke-width="2.7" stroke-linecap="butt"/>
<line x1="175.30" y1="29.80" x2="175.30" y2="44.10" stroke="#8196cc" stroke-width="2.3" stroke-linecap="butt"/>
<line x1="175.30" y1="29.80" x2="175.30" y2="44.10" stroke="#a9bbe4" stroke-width="1.0" stroke-linecap="butt"/>
<line x1="178.90" y1="29.80" x2="178.90" y2="44.10" stroke="#8196cc" stroke-width="2.3" stroke-linecap="butt"/>
<line x1="178.90" y1="29.80" x2="178.90" y2="44.10" stroke="#a9bbe4" stroke-width="1.0" stroke-linecap="butt"/>
<line x1="175.30" y1="44.40" x2="175.30" y2="50.60" stroke="#b8168c" stroke-width="2.2" stroke-linecap="butt"/>
<line x1="178.90" y1="44.40" x2="178.90" y2="50.60" stroke="#b8168c" stroke-width="2.2" stroke-linecap="butt"/>
<path d="M174.9,29.6 L174.9,26.4 L179.3,26.4 L179.3,29.6" fill="none" stroke="#777" stroke-width="0.8"/>
<line x1="174.30" y1="25.40" x2="164.80" y2="12.90" stroke="#8c8468" stroke-width="0.7" stroke-linecap="butt"/>
<line x1="174.30" y1="25.40" x2="169.94" y2="19.67" stroke="#2645c8" stroke-width="2.7" stroke-linecap="butt"/>
<line x1="169.16" y1="18.63" x2="164.80" y2="12.90" stroke="#2645c8" stroke-width="2.7" stroke-linecap="butt"/>
<line x1="180.10" y1="25.20" x2="189.30" y2="12.90" stroke="#8c8468" stroke-width="0.7" stroke-linecap="butt"/>
<line x1="180.10" y1="25.20" x2="184.31" y2="19.57" stroke="#2645c8" stroke-width="2.7" stroke-linecap="butt"/>
<line x1="185.09" y1="18.53" x2="189.30" y2="12.90" stroke="#2645c8" stroke-width="2.7" stroke-linecap="butt"/>
<line x1="220.60" y1="37.60" x2="214.40" y2="49.90" stroke="#8196cc" stroke-width="2.3" stroke-linecap="butt"/>
<line x1="220.60" y1="37.60" x2="214.40" y2="49.90" stroke="#a9bbe4" stroke-width="1.0" stroke-linecap="butt"/>
<line x1="224.20" y1="38.90" x2="218.40" y2="51.90" stroke="#8196cc" stroke-width="2.3" stroke-linecap="butt"/>
<line x1="224.20" y1="38.90" x2="218.40" y2="51.90" stroke="#a9bbe4" stroke-width="1.0" stroke-linecap="butt"/>
<line x1="214.10" y1="50.50" x2="211.80" y2="55.20" stroke="#b8168c" stroke-width="2.2" stroke-linecap="butt"/>
<line x1="218.10" y1="52.50" x2="215.80" y2="57.20" stroke="#b8168c" stroke-width="2.2" stroke-linecap="butt"/>
<path d="M220.9,37.2 L221.6,34.4 L224.6,35.6 L224.6,38.6" fill="none" stroke="#777" stroke-width="0.8"/>
<line x1="221.90" y1="31.60" x2="214.00" y2="-0.50" stroke="#8c8468" stroke-width="0.7" stroke-linecap="butt"/>
<line x1="221.90" y1="31.60" x2="220.12" y2="24.38" stroke="#2645c8" stroke-width="2.7" stroke-linecap="butt"/>
<line x1="219.86" y1="23.31" x2="218.08" y2="16.08" stroke="#2645c8" stroke-width="2.7" stroke-linecap="butt"/>
<line x1="217.82" y1="15.02" x2="216.04" y2="7.79" stroke="#2645c8" stroke-width="2.7" stroke-linecap="butt"/>
<line x1="215.78" y1="6.72" x2="214.00" y2="-0.50" stroke="#2645c8" stroke-width="2.7" stroke-linecap="butt"/>
<line x1="226.50" y1="33.90" x2="254.90" y2="19.60" stroke="#8c8468" stroke-width="0.7" stroke-linecap="butt"/>
<line x1="226.50" y1="33.90" x2="232.86" y2="30.70" stroke="#2645c8" stroke-width="2.7" stroke-linecap="butt"/>
<line x1="233.85" y1="30.20" x2="240.21" y2="27.00" stroke="#2645c8" stroke-width="2.7" stroke-linecap="butt"/>
<line x1="241.19" y1="26.50" x2="247.55" y2="23.30" stroke="#2645c8" stroke-width="2.7" stroke-linecap="butt"/>
<line x1="248.54" y1="22.80" x2="254.90" y2="19.60" stroke="#2645c8" stroke-width="2.7" stroke-linecap="butt"/>
<text x="16.30" y="35.67" font-size="8.3" textLength="12.10" lengthAdjust="spacingAndGlyphs">aJ3</text>
<text x="45.20" y="21.77" font-size="8.3" textLength="24.60" lengthAdjust="spacingAndGlyphs">aJ3-2X</text>
<text x="89.20" y="10.47" font-size="8.3" textLength="24.40" lengthAdjust="spacingAndGlyphs">aJ3-4X</text>
<text x="117.50" y="23.07" font-size="8.3" textLength="23.90" lengthAdjust="spacingAndGlyphs">aJ3-Fc</text>
<text x="160.30" y="9.27" font-size="8.3" textLength="35.90" lengthAdjust="spacingAndGlyphs">aJ3-2X-Fc</text>
<text x="223.00" y="12.47" font-size="8.3" textLength="36.00" lengthAdjust="spacingAndGlyphs">aJ3-4X-Fc</text>
<text x="277.00" y="10.47" font-size="8.3" textLength="124.80" lengthAdjust="spacingAndGlyphs">GPI-anchored J3-VHH (aJ3) mRNA:</text>
<text x="406.90" y="10.47" font-size="8.3" textLength="5.80" lengthAdjust="spacingAndGlyphs">5'</text>
<line x1="412.90" y1="7.80" x2="510.45" y2="7.80" stroke="#222" stroke-width="0.7"/>
<rect x="415.00" y="3.40" width="22.60" height="8.20" fill="#3d3d3d"/>
<text x="426.30" y="10.22" font-size="7.6" textLength="21.92" lengthAdjust="spacingAndGlyphs" fill="#fff" text-anchor="middle" style="fill:#fff;stroke:#fff">5'-UTR</text>
<rect x="438.85" y="3.40" width="26.70" height="8.20" fill="#2d2a78"/>
<text x="452.20" y="10.22" font-size="7.6" textLength="24.48" lengthAdjust="spacingAndGlyphs" fill="#fff" text-anchor="middle" style="fill:#fff;stroke:#fff">J3-VHH</text>
<rect x="466.80" y="3.40" width="18.30" height="8.20" fill="#8d3fb5"/>
<text x="475.95" y="10.22" font-size="7.6" textLength="12.04" lengthAdjust="spacingAndGlyphs" fill="#fff" text-anchor="middle" style="fill:#fff;stroke:#fff">GPI</text>
<rect x="486.35" y="3.40" width="23.10" height="8.20" fill="#3d3d3d"/>
<text x="497.90" y="10.22" font-size="7.6" textLength="21.92" lengthAdjust="spacingAndGlyphs" fill="#fff" text-anchor="middle" style="fill:#fff;stroke:#fff">3'-UTR</text>
<text x="510.25" y="10.47" font-size="8.3" textLength="27.20" lengthAdjust="spacingAndGlyphs">AAAAAA</text>
<text x="539.75" y="10.47" font-size="8.3" textLength="9.90" lengthAdjust="spacingAndGlyphs">–3'</text>
<text x="350.40" y="23.57" font-size="8.3" textLength="51.40" lengthAdjust="spacingAndGlyphs">aJ3-2X mRNA:</text>
<text x="406.90" y="23.57" font-size="8.3" textLength="5.80" lengthAdjust="spacingAndGlyphs">5'</text>
<line x1="412.90" y1="20.90" x2="538.40" y2="20.90" stroke="#222" stroke-width="0.7"/>
<rect x="415.00" y="16.50" width="22.60" height="8.20" fill="#3d3d3d"/>
<text x="426.30" y="23.32" font-size="7.6" textLength="21.92" lengthAdjust="spacingAndGlyphs" fill="#fff" text-anchor="middle" style="fill:#fff;stroke:#fff">5'-UTR</text>
<rect x="438.85" y="16.50" width="26.70" height="8.20" fill="#2d2a78"/>
<text x="452.20" y="23.32" font-size="7.6" textLength="24.48" lengthAdjust="spacingAndGlyphs" fill="#fff" text-anchor="middle" style="fill:#fff;stroke:#fff">J3-VHH</text>
<rect x="466.80" y="16.50" width="26.70" height="8.20" fill="#2d2a78"/>
<text x="480.15" y="23.32" font-size="7.6" textLength="24.48" lengthAdjust="spacingAndGlyphs" fill="#fff" text-anchor="middle" style="fill:#fff;stroke:#fff">J3-VHH</text>
<rect x="494.75" y="16.50" width="18.30" height="8.20" fill="#8d3fb5"/>
<text x="503.90" y="23.32" font-size="7.6" textLength="12.04" lengthAdjust="spacingAndGlyphs" fill="#fff" text-anchor="middle" style="fill:#fff;stroke:#fff">GPI</text>
<rect x="514.30" y="16.50" width="23.10" height="8.20" fill="#3d3d3d"/>
<text x="525.85" y="23.32" font-size="7.6" textLength="21.92" lengthAdjust="spacingAndGlyphs" fill="#fff" text-anchor="middle" style="fill:#fff;stroke:#fff">3'-UTR</text>
<text x="538.20" y="23.57" font-size="8.3" textLength="27.20" lengthAdjust="spacingAndGlyphs">AAAAAA</text>
<text x="567.70" y="23.57" font-size="8.3" textLength="9.90" lengthAdjust="spacingAndGlyphs">–3'</text>
<text x="350.40" y="36.37" font-size="8.3" textLength="51.40" lengthAdjust="spacingAndGlyphs">aJ3-4X mRNA:</text>
<text x="406.90" y="36.37" font-size="8.3" textLength="5.80" lengthAdjust="spacingAndGlyphs">5'</text>
<line x1="412.90" y1="33.70" x2="594.30" y2="33.70" stroke="#222" stroke-width="0.7"/>
<rect x="415.00" y="29.30" width="22.60" height="8.20" fill="#3d3d3d"/>
<text x="426.30" y="36.12" font-size="7.6" textLength="21.92" lengthAdjust="spacingAndGlyphs" fill="#fff" text-anchor="middle" style="fill:#fff;stroke:#fff">5'-UTR</text>
<rect x="438.85" y="29.30" width="26.70" height="8.20" fill="#2d2a78"/>
<text x="452.20" y="36.12" font-size="7.6" textLength="24.48" lengthAdjust="spacingAndGlyphs" fill="#fff" text-anchor="middle" style="fill:#fff;stroke:#fff">J3-VHH</text>
<rect x="466.80" y="29.30" width="26.70" height="8.20" fill="#2d2a78"/>
<text x="480.15" y="36.12" font-size="7.6" textLength="24.48" lengthAdjust="spacingAndGlyphs" fill="#fff" text-anchor="middle" style="fill:#fff;stroke:#fff">J3-VHH</text>
<rect x="494.75" y="29.30" width="26.70" height="8.20" fill="#2d2a78"/>
<text x="508.10" y="36.12" font-size="7.6" textLength="24.48" lengthAdjust="spacingAndGlyphs" fill="#fff" text-anchor="middle" style="fill:#fff;stroke:#fff">J3-VHH</text>
<rect x="522.70" y="29.30" width="26.70" height="8.20" fill="#2d2a78"/>
<text x="536.05" y="36.12" font-size="7.6" textLength="24.48" lengthAdjust="spacingAndGlyphs" fill="#fff" text-anchor="middle" style="fill:#fff;stroke:#fff">J3-VHH</text>
<rect x="550.65" y="29.30" width="18.30" height="8.20" fill="#8d3fb5"/>
<text x="559.80" y="36.12" font-size="7.6" textLength="12.04" lengthAdjust="spacingAndGlyphs" fill="#fff" text-anchor="middle" style="fill:#fff;stroke:#fff">GPI</text>
<rect x="570.20" y="29.30" width="23.10" height="8.20" fill="#3d3d3d"/>
<text x="581.75" y="36.12" font-size="7.6" textLength="21.92" lengthAdjust="spacingAndGlyphs" fill="#fff" text-anchor="middle" style="fill:#fff;stroke:#fff">3'-UTR</text>
<text x="594.10" y="36.37" font-size="8.3" textLength="27.20" lengthAdjust="spacingAndGlyphs">AAAAAA</text>
<text x="623.60" y="36.37" font-size="8.3" textLength="9.90" lengthAdjust="spacingAndGlyphs">–3'</text>
<text x="350.90" y="49.27" font-size="8.3" textLength="50.00" lengthAdjust="spacingAndGlyphs">aJ3-Fc mRNA:</text>
<text x="406.90" y="49.27" font-size="8.3" textLength="5.80" lengthAdjust="spacingAndGlyphs">5'</text>
<line x1="412.90" y1="46.60" x2="552.60" y2="46.60" stroke="#222" stroke-width="0.7"/>
<rect x="415.00" y="42.20" width="22.60" height="8.20" fill="#3d3d3d"/>
<text x="426.30" y="49.02" font-size="7.6" textLength="21.92" lengthAdjust="spacingAndGlyphs" fill="#fff" text-anchor="middle" style="fill:#fff;stroke:#fff">5'-UTR</text>
<rect x="438.85" y="42.20" width="26.70" height="8.20" fill="#2d2a78"/>
<text x="452.20" y="49.02" font-size="7.6" textLength="24.48" lengthAdjust="spacingAndGlyphs" fill="#fff" text-anchor="middle" style="fill:#fff;stroke:#fff">J3-VHH</text>
<rect x="466.80" y="42.20" width="40.90" height="8.20" fill="#1f7fd0"/>
<text x="487.25" y="48.90" font-size="7.6" text-anchor="middle" style="fill:#fff;stroke:#fff" textLength="22.5" lengthAdjust="spacingAndGlyphs">IgG-C<tspan font-size="5.4">H</tspan></text>
<rect x="508.95" y="42.20" width="18.30" height="8.20" fill="#8d3fb5"/>
<text x="518.10" y="49.02" font-size="7.6" textLength="12.04" lengthAdjust="spacingAndGlyphs" fill="#fff" text-anchor="middle" style="fill:#fff;stroke:#fff">GPI</text>
<rect x="528.50" y="42.20" width="23.10" height="8.20" fill="#3d3d3d"/>
<text x="540.05" y="49.02" font-size="7.6" textLength="21.92" lengthAdjust="spacingAndGlyphs" fill="#fff" text-anchor="middle" style="fill:#fff;stroke:#fff">3'-UTR</text>
<text x="552.40" y="49.27" font-size="8.3" textLength="27.20" lengthAdjust="spacingAndGlyphs">AAAAAA</text>
<text x="581.90" y="49.27" font-size="8.3" textLength="9.90" lengthAdjust="spacingAndGlyphs">–3'</text>
<text x="339.10" y="62.47" font-size="8.3" textLength="61.80" lengthAdjust="spacingAndGlyphs">aJ3-2X-Fc mRNA:</text>
<text x="406.90" y="62.47" font-size="8.3" textLength="5.80" lengthAdjust="spacingAndGlyphs">5'</text>
<line x1="412.90" y1="59.80" x2="580.55" y2="59.80" stroke="#222" stroke-width="0.7"/>
<rect x="415.00" y="55.40" width="22.60" height="8.20" fill="#3d3d3d"/>
<text x="426.30" y="62.22" font-size="7.6" textLength="21.92" lengthAdjust="spacingAndGlyphs" fill="#fff" text-anchor="middle" style="fill:#fff;stroke:#fff">5'-UTR</text>
<rect x="438.85" y="55.40" width="26.70" height="8.20" fill="#2d2a78"/>
<text x="452.20" y="62.22" font-size="7.6" textLength="24.48" lengthAdjust="spacingAndGlyphs" fill="#fff" text-anchor="middle" style="fill:#fff;stroke:#fff">J3-VHH</text>
<rect x="466.80" y="55.40" width="26.70" height="8.20" fill="#2d2a78"/>
<text x="480.15" y="62.22" font-size="7.6" textLength="24.48" lengthAdjust="spacingAndGlyphs" fill="#fff" text-anchor="middle" style="fill:#fff;stroke:#fff">J3-VHH</text>
<rect x="494.75" y="55.40" width="40.90" height="8.20" fill="#1f7fd0"/>
<text x="515.20" y="62.10" font-size="7.6" text-anchor="middle" style="fill:#fff;stroke:#fff" textLength="22.5" lengthAdjust="spacingAndGlyphs">IgG-C<tspan font-size="5.4">H</tspan></text>
<rect x="536.90" y="55.40" width="18.30" height="8.20" fill="#8d3fb5"/>
<text x="546.05" y="62.22" font-size="7.6" textLength="12.04" lengthAdjust="spacingAndGlyphs" fill="#fff" text-anchor="middle" style="fill:#fff;stroke:#fff">GPI</text>
<rect x="556.45" y="55.40" width="23.10" height="8.20" fill="#3d3d3d"/>
<text x="568.00" y="62.22" font-size="7.6" textLength="21.92" lengthAdjust="spacingAndGlyphs" fill="#fff" text-anchor="middle" style="fill:#fff;stroke:#fff">3'-UTR</text>
<text x="580.35" y="62.47" font-size="8.3" textLength="27.20" lengthAdjust="spacingAndGlyphs">AAAAAA</text>
<text x="609.85" y="62.47" font-size="8.3" textLength="9.90" lengthAdjust="spacingAndGlyphs">–3'</text>
<text x="339.10" y="75.37" font-size="8.3" textLength="61.80" lengthAdjust="spacingAndGlyphs">aJ3-4X-Fc mRNA:</text>
<text x="406.90" y="75.37" font-size="8.3" textLength="5.80" lengthAdjust="spacingAndGlyphs">5'</text>
<line x1="412.90" y1="72.70" x2="636.45" y2="72.70" stroke="#222" stroke-width="0.7"/>
<rect x="415.00" y="68.30" width="22.60" height="8.20" fill="#3d3d3d"/>
<text x="426.30" y="75.12" font-size="7.6" textLength="21.92" lengthAdjust="spacingAndGlyphs" fill="#fff" text-anchor="middle" style="fill:#fff;stroke:#fff">5'-UTR</text>
<rect x="438.85" y="68.30" width="26.70" height="8.20" fill="#2d2a78"/>
<text x="452.20" y="75.12" font-size="7.6" textLength="24.48" lengthAdjust="spacingAndGlyphs" fill="#fff" text-anchor="middle" style="fill:#fff;stroke:#fff">J3-VHH</text>
<rect x="466.80" y="68.30" width="26.70" height="8.20" fill="#2d2a78"/>
<text x="480.15" y="75.12" font-size="7.6" textLength="24.48" lengthAdjust="spacingAndGlyphs" fill="#fff" text-anchor="middle" style="fill:#fff;stroke:#fff">J3-VHH</text>
<rect x="494.75" y="68.30" width="26.70" height="8.20" fill="#2d2a78"/>
<text x="508.10" y="75.12" font-size="7.6" textLength="24.48" lengthAdjust="spacingAndGlyphs" fill="#fff" text-anchor="middle" style="fill:#fff;stroke:#fff">J3-VHH</text>
<rect x="522.70" y="68.30" width="26.70" height="8.20" fill="#2d2a78"/>
<text x="536.05" y="75.12" font-size="7.6" textLength="24.48" lengthAdjust="spacingAndGlyphs" fill="#fff" text-anchor="middle" style="fill:#fff;stroke:#fff">J3-VHH</text>
<rect x="550.65" y="68.30" width="40.90" height="8.20" fill="#1f7fd0"/>
<text x="571.10" y="75.00" font-size="7.6" text-anchor="middle" style="fill:#fff;stroke:#fff" textLength="22.5" lengthAdjust="spacingAndGlyphs">IgG-C<tspan font-size="5.4">H</tspan></text>
<rect x="592.80" y="68.30" width="18.30" height="8.20" fill="#8d3fb5"/>
<text x="601.95" y="75.12" font-size="7.6" textLength="12.04" lengthAdjust="spacingAndGlyphs" fill="#fff" text-anchor="middle" style="fill:#fff;stroke:#fff">GPI</text>
<rect x="612.35" y="68.30" width="23.10" height="8.20" fill="#3d3d3d"/>
<text x="623.90" y="75.12" font-size="7.6" textLength="21.92" lengthAdjust="spacingAndGlyphs" fill="#fff" text-anchor="middle" style="fill:#fff;stroke:#fff">3'-UTR</text>
<text x="636.25" y="75.37" font-size="8.3" textLength="27.20" lengthAdjust="spacingAndGlyphs">AAAAAA</text>
<text x="665.75" y="75.37" font-size="8.3" textLength="9.90" lengthAdjust="spacingAndGlyphs">–3'</text>
<text x="-1.20" y="100.70" font-size="19.7" font-weight="bold">b</text>
<text x="61.95" y="98.17" font-size="8.3" textLength="12.58" lengthAdjust="spacingAndGlyphs" text-anchor="middle">aJ3</text>
<text x="122.05" y="98.17" font-size="8.3" textLength="24.72" lengthAdjust="spacingAndGlyphs" text-anchor="middle">aJ3-2X</text>
<text x="182.15" y="98.17" font-size="8.3" textLength="24.72" lengthAdjust="spacingAndGlyphs" text-anchor="middle">aJ3-4X</text>
<text x="242.25" y="98.17" font-size="8.3" textLength="23.84" lengthAdjust="spacingAndGlyphs" text-anchor="middle">aJ3-Fc</text>
<text x="302.35" y="98.17" font-size="8.3" textLength="35.98" lengthAdjust="spacingAndGlyphs" text-anchor="middle">aJ3-2X-Fc</text>
<text x="362.45" y="98.17" font-size="8.3" textLength="35.98" lengthAdjust="spacingAndGlyphs" text-anchor="middle">aJ3-4X-Fc</text>
<text text-rendering="geometricPrecision" transform="translate(26.40,130.60) rotate(-90)" x="0" y="3.44" font-size="9.6" textLength="31.20" lengthAdjust="spacingAndGlyphs" text-anchor="middle">Anti-VHH</text>
<text text-rendering="geometricPrecision" transform="translate(26.40,190.20) rotate(-90)" x="0" y="3.44" font-size="9.6" textLength="54.80" lengthAdjust="spacingAndGlyphs" text-anchor="middle">Anti-human IgG</text>
<text text-rendering="geometricPrecision" transform="translate(26.40,250.00) rotate(-90)" x="0" y="3.44" font-size="9.6" textLength="22.31" lengthAdjust="spacingAndGlyphs" text-anchor="middle">Merge</text>
<g clip-path="url(#cp00)">
<rect x="33.20" y="102.40" width="57.50" height="57.40" fill="#020402"/>
<rect x="33.20" y="102.40" width="57.5" height="57.40" filter="url(#g0)" opacity="1"/>
<use href="#d0" x="33.20" y="102.40"/>
<use href="#n0" x="33.20" y="102.40" class="nC"/>
</g>
<g clip-path="url(#cp01)">
<rect x="33.20" y="162.00" width="57.50" height="57.40" fill="#020402"/>
<use href="#n0" x="33.20" y="162.00" class="nA"/>
</g>
<g clip-path="url(#cp02)">
<rect x="33.20" y="221.00" width="57.50" height="57.80" fill="#020402"/>
<rect x="33.20" y="221.00" width="57.5" height="57.80" filter="url(#g0)" opacity="1"/>
<use href="#d0" x="33.20" y="221.00"/>
<use href="#n0" x="33.20" y="221.00" class="nC"/>
</g>
<g clip-path="url(#cp10)">
<rect x="93.30" y="102.40" width="57.50" height="57.40" fill="#020402"/>
<rect x="93.30" y="102.40" width="57.5" height="57.40" filter="url(#g1)" opacity="1"/>
<use href="#d1" x="93.30" y="102.40"/>
<use href="#n1" x="93.30" y="102.40" class="nC"/>
</g>
<g clip-path="url(#cp11)">
<rect x="93.30" y="162.00" width="57.50" height="57.40" fill="#020402"/>
<use href="#n1" x="93.30" y="162.00" class="nA"/>
</g>
<g clip-path="url(#cp12)">
<rect x="93.30" y="221.00" width="57.50" height="57.80" fill="#020402"/>
<rect x="93.30" y="221.00" width="57.5" height="57.80" filter="url(#g1)" opacity="1"/>
<use href="#d1" x="93.30" y="221.00"/>
<use href="#n1" x="93.30" y="221.00" class="nC"/>
</g>
<g clip-path="url(#cp20)">
<rect x="153.40" y="102.40" width="57.50" height="57.40" fill="#020402"/>
<rect x="153.40" y="102.40" width="57.5" height="57.40" filter="url(#g2)" opacity="1"/>
<use href="#d2" x="153.40" y="102.40"/>
<use href="#n2" x="153.40" y="102.40" class="nC"/>
</g>
<g clip-path="url(#cp21)">
<rect x="153.40" y="162.00" width="57.50" height="57.40" fill="#020402"/>
<use href="#n2" x="153.40" y="162.00" class="nA"/>
</g>
<g clip-path="url(#cp22)">
<rect x="153.40" y="221.00" width="57.50" height="57.80" fill="#020402"/>
<rect x="153.40" y="221.00" width="57.5" height="57.80" filter="url(#g2)" opacity="1"/>
<use href="#d2" x="153.40" y="221.00"/>
<use href="#n2" x="153.40" y="221.00" class="nC"/>
</g>
<g clip-path="url(#cp30)">
<rect x="213.50" y="102.40" width="57.50" height="57.40" fill="#020402"/>
<rect x="213.50" y="102.40" width="57.5" height="57.40" filter="url(#g3)" opacity="1"/>
<use href="#d3" x="213.50" y="102.40"/>
<use href="#n3" x="213.50" y="102.40" class="nC"/>
</g>
<g clip-path="url(#cp31)">
<rect x="213.50" y="162.00" width="57.50" height="57.40" fill="#020402"/>
<rect x="213.50" y="162.00" width="57.5" height="57.40" filter="url(#w3)" opacity="1"/>
<use href="#d3" x="213.50" y="162.00"/>
<use href="#n3" x="213.50" y="162.00" class="nB"/>
</g>
<g clip-path="url(#cp32)">
<rect x="213.50" y="221.00" width="57.50" height="57.80" fill="#020402"/>
<rect x="213.50" y="221.00" width="57.5" height="57.80" filter="url(#g3)" opacity="0.85"/>
<rect x="213.50" y="221.00" width="57.5" height="57.80" filter="url(#w3)" opacity="0.8" style="mix-blend-mode:screen"/>
<use href="#d3" x="213.50" y="221.00"/>
<use href="#n3" x="213.50" y="221.00" class="nD"/>
</g>
<g clip-path="url(#cp40)">
<rect x="273.60" y="102.40" width="57.50" height="57.40" fill="#020402"/>
<rect x="273.60" y="102.40" width="57.5" height="57.40" filter="url(#g4)" opacity="1"/>
<use href="#d4" x="273.60" y="102.40"/>
<use href="#n4" x="273.60" y="102.40" class="nC"/>
</g>
<g clip-path="url(#cp41)">
<rect x="273.60" y="162.00" width="57.50" height="57.40" fill="#020402"/>
<rect x="273.60" y="162.00" width="57.5" height="57.40" filter="url(#w4)" opacity="1"/>
<use href="#d4" x="273.60" y="162.00"/>
<use href="#n4" x="273.60" y="162.00" class="nB"/>
</g>
<g clip-path="url(#cp42)">
<rect x="273.60" y="221.00" width="57.50" height="57.80" fill="#020402"/>
<rect x="273.60" y="221.00" width="57.5" height="57.80" filter="url(#g4)" opacity="0.9"/>
<rect x="273.60" y="221.00" width="57.5" height="57.80" filter="url(#w4)" opacity="0.78" style="mix-blend-mode:screen"/>
<use href="#d4" x="273.60" y="221.00"/>
<use href="#n4" x="273.60" y="221.00" class="nD"/>
</g>
<g clip-path="url(#cp50)">
<rect x="333.70" y="102.40" width="57.50" height="57.40" fill="#020402"/>
<rect x="333.70" y="102.40" width="57.5" height="57.40" filter="url(#g5)" opacity="1"/>
<use href="#d5" x="333.70" y="102.40"/>
<use href="#n5" x="333.70" y="102.40" class="nC"/>
</g>
<g clip-path="url(#cp51)">
<rect x="333.70" y="162.00" width="57.50" height="57.40" fill="#020402"/>
<rect x="333.70" y="162.00" width="57.5" height="57.40" filter="url(#w5)" opacity="1"/>
<use href="#d5" x="333.70" y="162.00"/>
<use href="#n5" x="333.70" y="162.00" class="nB"/>
</g>
<g clip-path="url(#cp52)">
<rect x="333.70" y="221.00" width="57.50" height="57.80" fill="#020402"/>
<rect x="333.70" y="221.00" width="57.5" height="57.80" filter="url(#g5)" opacity="0.9"/>
<rect x="333.70" y="221.00" width="57.5" height="57.80" filter="url(#w5)" opacity="0.9" style="mix-blend-mode:screen"/>
<use href="#d5" x="333.70" y="221.00"/>
<use href="#n5" x="333.70" y="221.00" class="nD"/>
</g>
<rect x="381.90" y="275.10" width="7.20" height="2.40" fill="#fff"/>
<text x="405.90" y="98.00" font-size="19.7" font-weight="bold">c</text>
<line x1="455.40" y1="104.00" x2="455.40" y2="184.80" stroke="#000" stroke-width="1.1"/>
<line x1="454.90" y1="184.30" x2="536.30" y2="184.30" stroke="#000" stroke-width="1.1"/>
<path d="M451.4,184.3L455.4,184.3M451.4,144.4L455.4,144.4M451.4,104.5L455.4,104.5M462.5,184.3L462.5,187.9M480.8,184.3L480.8,187.9M499.1,184.3L499.1,187.9M517.3,184.3L517.3,187.9M535.6,184.3L535.6,187.9" stroke="#000" stroke-width="1.0" fill="none"/>
<path d="M453.2,176.3L455.4,176.3M453.2,168.3L455.4,168.3M453.2,160.4L455.4,160.4M453.2,152.4L455.4,152.4M453.2,136.4L455.4,136.4M453.2,128.4L455.4,128.4M453.2,120.5L455.4,120.5M453.2,112.5L455.4,112.5M471.6,184.3L471.6,186.5M489.9,184.3L489.9,186.5M508.2,184.3L508.2,186.5M526.5,184.3L526.5,186.5" stroke="#000" stroke-width="0.9" fill="none"/>
<polyline points="455.6,184.3 455.9,184.3 456.3,184.3 456.7,184.3 457.0,184.3 457.4,184.3 457.7,184.3 458.1,184.3 458.5,184.3 458.8,184.3 459.2,184.3 459.6,184.3 459.9,184.3 460.3,184.3 460.7,184.3 461.0,184.3 461.4,184.3 461.8,184.3 462.1,184.3 462.5,184.3 462.9,184.3 463.2,184.3 463.6,184.3 464.0,184.3 464.3,184.3 464.7,184.3 465.1,184.3 465.4,184.3 465.8,184.3 466.2,184.3 466.5,184.3 466.9,184.3 467.3,184.3 467.6,184.3 468.0,184.3 468.3,184.3 468.7,184.3 469.1,184.3 469.4,184.3 469.8,184.3 470.2,184.3 470.5,184.3 470.9,184.3 471.3,184.3 471.6,184.3 472.0,184.3 472.4,184.3 472.7,184.3 473.1,184.3 473.5,184.3 473.8,184.3 474.2,184.3 474.6,184.3 474.9,184.3 475.3,184.3 475.7,184.3 476.0,184.3 476.4,184.3 476.8,184.3 477.1,184.3 477.5,184.3 477.9,184.3 478.2,184.3 478.6,184.3 478.9,184.3 479.3,184.3 479.7,184.3 480.0,184.3 480.4,184.3 480.8,184.3 481.1,184.3 481.5,184.3 481.9,184.3 482.2,184.3 482.6,184.3 483.0,184.3 483.3,184.3 483.7,184.3 484.1,184.3 484.4,184.3 484.8,184.3 485.2,184.3 485.5,184.3 485.9,184.3 486.3,184.3 486.6,184.3 487.0,184.3 487.4,184.3 487.7,184.3 488.1,184.2 488.5,184.2 488.8,184.2 489.2,184.1 489.5,184.1 489.9,184.0 490.3,183.8 490.6,183.6 491.0,183.4 491.4,183.1 491.7,182.7 492.1,182.3 492.5,181.7 492.8,181.0 493.2,180.2 493.6,179.2 493.9,178.1 494.3,176.7 494.7,174.9 495.0,172.7 495.4,169.8 495.8,166.0 496.1,161.0 496.5,154.6 496.9,146.8 497.2,137.8 497.6,128.3 498.0,119.2 498.3,111.5 498.7,106.3 499.1,104.5 499.4,106.3 499.8,111.5 500.1,119.2 500.5,128.3 500.9,137.8 501.2,146.8 501.6,154.6 502.0,161.0 502.3,166.0 502.7,169.8 503.1,171.7 503.4,173.9 503.8,175.6 504.2,177.0 504.5,178.2 504.9,179.2 505.3,180.0 505.6,180.6 506.0,181.2 506.4,181.6 506.7,182.0 507.1,182.3 507.5,182.5 507.8,182.6 508.2,182.8 508.6,182.8 508.9,182.9 509.3,182.9 509.7,183.0 510.0,183.0 510.4,183.0 510.7,183.0 511.1,183.0 511.5,182.9 511.8,182.9 512.2,182.9 512.6,182.9 512.9,182.9 513.3,182.9 513.7,182.9 514.0,182.8 514.4,182.8 514.8,182.8 515.1,182.8 515.5,182.8 515.9,182.8 516.2,182.8 516.6,182.7 517.0,182.7 517.3,182.7 517.7,182.7 518.1,182.7 518.4,182.7 518.8,182.6 519.2,182.6 519.5,182.6 519.9,182.6 520.3,182.6 520.6,182.6 521.0,182.5 521.3,182.5 521.7,182.5 522.1,182.5 522.4,182.5 522.8,182.5 523.2,182.4 523.5,182.4 523.9,182.4 524.3,182.4 524.6,182.4 525.0,182.4 525.4,182.4 525.7,182.3 526.1,182.3 526.5,182.3 526.8,182.3 527.2,182.3 527.6,182.3 527.9,182.2 528.3,182.2 528.7,182.2 529.0,182.2 529.4,182.2 529.8,182.2 530.1,182.1 530.5,182.1 530.9,182.1 531.2,182.1 531.6,182.1 531.9,182.1 532.3,182.0 532.7,182.0 533.0,182.0 533.4,182.0 533.8,182.0 534.1,182.0 534.5,182.0 534.9,181.9 535.2,181.9" fill="none" stroke="#000000" stroke-width="1.15" stroke-linejoin="round"/>
<polyline points="455.6,183.9 455.9,183.9 456.3,183.9 456.7,183.9 457.0,183.8 457.4,183.8 457.7,183.8 458.1,183.8 458.5,183.8 458.8,183.8 459.2,183.8 459.6,183.8 459.9,183.7 460.3,183.7 460.7,183.7 461.0,183.7 461.4,183.7 461.8,183.7 462.1,183.7 462.5,183.7 462.9,183.7 463.2,183.6 463.6,183.6 464.0,183.6 464.3,183.6 464.7,183.6 465.1,183.6 465.4,183.6 465.8,183.6 466.2,183.6 466.5,183.5 466.9,183.5 467.3,183.5 467.6,183.5 468.0,183.5 468.3,183.4 468.7,182.9 469.1,182.4 469.4,181.6 469.8,180.6 470.2,179.4 470.5,177.9 470.9,175.9 471.3,173.2 471.6,169.4 472.0,164.0 472.4,156.4 472.7,146.3 473.1,134.2 473.5,121.8 473.8,111.3 474.2,105.3 474.6,105.5 474.9,113.2 475.3,125.9 475.7,140.1 476.0,152.7 476.4,162.3 476.8,168.9 477.1,173.3 477.5,176.3 477.9,178.4 478.2,179.0 478.6,178.9 478.9,178.7 479.3,179.0 479.7,179.4 480.0,179.7 480.4,180.0 480.8,180.3 481.1,180.4 481.5,180.5 481.9,180.5 482.2,180.6 482.6,180.7 483.0,180.5 483.3,180.2 483.7,180.0 484.1,179.8 484.4,179.5 484.8,179.7 485.2,179.8 485.5,180.0 485.9,180.2 486.3,180.3 486.6,180.0 487.0,179.7 487.4,179.4 487.7,179.0 488.1,178.7 488.5,178.9 488.8,179.0 489.2,179.2 489.5,179.4 489.9,179.5 490.3,179.3 490.6,179.0 491.0,178.8 491.4,178.6 491.7,178.3 492.1,178.2 492.5,178.2 492.8,178.1 493.2,178.0 493.6,177.9 493.9,177.6 494.3,177.3 494.7,177.0 495.0,176.6 495.4,176.3 495.8,175.3 496.1,174.2 496.5,173.1 496.9,172.2 497.2,171.7 497.6,171.3 498.0,172.0 498.3,173.1 498.7,173.9 499.1,173.7 499.4,173.6 499.8,174.2 500.1,175.2 500.5,176.2 500.9,177.1 501.2,177.4 501.6,177.8 502.0,178.1 502.3,178.4 502.7,178.7 503.1,178.2 503.4,177.8 503.8,177.3 504.2,176.8 504.5,176.3 504.9,175.9 505.3,175.5 505.6,175.1 506.0,174.7 506.4,174.3 506.7,174.2 507.1,174.2 507.5,174.1 507.8,174.0 508.2,173.9 508.6,173.6 508.9,173.3 509.3,173.4 509.7,173.8 510.0,174.3 510.4,174.0 510.7,173.7 511.1,173.7 511.5,174.0 511.8,174.3 512.2,174.6 512.6,175.0 512.9,175.2 513.3,175.3 513.7,175.4 514.0,175.5 514.4,175.6 514.8,175.7 515.1,175.8 515.5,175.9 515.9,176.0 516.2,176.1 516.6,176.2 517.0,176.2 517.3,176.3 517.7,176.4 518.1,176.5 518.4,176.6 518.8,176.7 519.2,176.9 519.5,177.0 519.9,177.1 520.3,177.1 520.6,177.0 521.0,176.9 521.3,176.7 521.7,176.6 522.1,176.5 522.4,176.4 522.8,176.3 523.2,176.2 523.5,176.0 523.9,175.8 524.3,175.7 524.6,175.5 525.0,175.6 525.4,175.6 525.7,175.6 526.1,175.6 526.5,175.7 526.8,175.5 527.2,175.4 527.6,175.2 527.9,175.0 528.3,174.9 528.7,174.8 529.0,174.8 529.4,174.7 529.8,174.6 530.1,174.6 530.5,174.6 530.9,174.6 531.2,174.7 531.6,174.7 531.9,174.7 532.3,174.6 532.7,174.5 533.0,174.3 533.4,174.2 533.8,174.1 534.1,174.2 534.5,174.4 534.9,174.6 535.2,174.7" fill="none" stroke="#ff0000" stroke-width="1.15" stroke-linejoin="round"/>
<polyline points="455.6,184.3 455.9,184.3 456.3,184.3 456.7,184.3 457.0,184.3 457.4,184.3 457.7,184.3 458.1,184.3 458.5,184.3 458.8,184.3 459.2,184.3 459.6,184.3 459.9,184.3 460.3,184.3 460.7,184.3 461.0,184.3 461.4,184.3 461.8,184.3 462.1,184.3 462.5,184.3 462.9,184.3 463.2,184.3 463.6,184.3 464.0,184.3 464.3,184.3 464.7,184.3 465.1,184.3 465.4,184.3 465.8,184.3 466.2,184.3 466.5,184.3 466.9,184.3 467.3,184.3 467.6,184.3 468.0,184.3 468.3,184.3 468.7,184.3 469.1,184.3 469.4,184.3 469.8,184.3 470.2,184.3 470.5,184.3 470.9,184.3 471.3,184.3 471.6,184.3 472.0,184.3 472.4,184.3 472.7,184.3 473.1,184.3 473.5,184.2 473.8,184.2 474.2,184.1 474.6,184.0 474.9,183.9 475.3,183.8 475.7,183.5 476.0,183.2 476.4,182.8 476.8,182.3 477.1,181.7 477.5,180.9 477.9,179.9 478.2,178.7 478.6,177.2 478.9,175.3 479.3,172.9 479.7,169.6 480.0,165.1 480.4,159.1 480.8,151.2 481.1,141.6 481.5,130.9 481.9,120.3 482.2,111.4 482.6,105.8 483.0,104.6 483.3,108.1 483.7,115.5 484.1,125.5 484.4,136.3 484.8,146.6 485.2,155.4 485.5,162.3 485.9,167.6 486.3,171.4 486.6,174.2 487.0,176.3 487.4,178.0 487.7,179.3 488.1,180.4 488.5,181.3 488.8,182.0 489.2,182.6 489.5,183.0 489.9,183.4 490.3,183.7 490.6,183.8 491.0,184.0 491.4,184.1 491.7,184.2 492.1,184.2 492.5,184.2 492.8,184.3 493.2,184.3 493.6,184.3 493.9,184.3 494.3,184.3 494.7,184.3 495.0,184.3 495.4,184.3 495.8,184.3 496.1,184.3 496.5,184.3 496.9,184.3 497.2,184.3 497.6,184.3 498.0,184.3 498.3,184.3 498.7,184.3 499.1,184.3 499.4,184.3 499.8,184.3 500.1,184.3 500.5,184.3 500.9,184.3 501.2,184.3 501.6,184.3 502.0,184.3 502.3,184.3 502.7,184.3 503.1,184.3 503.4,184.3 503.8,184.3 504.2,184.3 504.5,184.3 504.9,184.3 505.3,184.3 505.6,184.3 506.0,184.3 506.4,184.3 506.7,184.3 507.1,184.3 507.5,184.3 507.8,184.3 508.2,184.3 508.6,184.3 508.9,184.3 509.3,184.3 509.7,184.3 510.0,184.3 510.4,184.3 510.7,184.3 511.1,184.3 511.5,184.3 511.8,184.3 512.2,184.3 512.6,184.3 512.9,184.3 513.3,184.3 513.7,184.3 514.0,184.3 514.4,184.3 514.8,184.3 515.1,184.3 515.5,184.3 515.9,184.3 516.2,184.3 516.6,184.3 517.0,184.3 517.3,184.3 517.7,184.3 518.1,184.3 518.4,184.3 518.8,184.3 519.2,184.3 519.5,184.3 519.9,184.3 520.3,184.3 520.6,184.3 521.0,184.3 521.3,184.3 521.7,184.3 522.1,184.3 522.4,184.3 522.8,184.3 523.2,184.3 523.5,184.3 523.9,184.3 524.3,184.3 524.6,184.3 525.0,184.3 525.4,184.3 525.7,184.3 526.1,184.3 526.5,184.3 526.8,184.3 527.2,184.3 527.6,184.3 527.9,184.3 528.3,184.3 528.7,184.3 529.0,184.3 529.4,184.3 529.8,184.3 530.1,184.3 530.5,184.3 530.9,184.3 531.2,184.3 531.6,184.3 531.9,184.3 532.3,184.3 532.7,184.3 533.0,184.3 533.4,184.3 533.8,184.3 534.1,184.3 534.5,184.3 534.9,184.3 535.2,184.3" fill="none" stroke="#0000ff" stroke-width="1.15" stroke-linejoin="round"/>
<text x="494.30" y="98.04" font-size="9.6" textLength="47.50" lengthAdjust="spacingAndGlyphs" text-anchor="middle">Without Fc</text>
<text text-rendering="geometricPrecision" transform="translate(422.90,144.80) rotate(-90)" x="0" y="3.58" font-size="10.0" textLength="83.50" lengthAdjust="spacingAndGlyphs" text-anchor="middle">Chemiluminescence</text>
<text text-rendering="geometricPrecision" transform="translate(434.70,144.80) rotate(-90)" x="0" y="3.58" font-size="10.0" textLength="54.20" lengthAdjust="spacingAndGlyphs" text-anchor="middle">(Normalized)</text>
<text x="450.90" y="187.26" font-size="8.0" textLength="9.56" lengthAdjust="spacingAndGlyphs" text-anchor="end">0.0</text>
<text x="450.90" y="147.36" font-size="8.0" textLength="9.56" lengthAdjust="spacingAndGlyphs" text-anchor="end">0.5</text>
<text x="450.90" y="107.46" font-size="8.0" textLength="9.56" lengthAdjust="spacingAndGlyphs" text-anchor="end">1.0</text>
<text x="462.50" y="195.76" font-size="8.0" textLength="7.83" lengthAdjust="spacingAndGlyphs" text-anchor="middle">20</text>
<text x="480.78" y="195.76" font-size="8.0" textLength="7.83" lengthAdjust="spacingAndGlyphs" text-anchor="middle">40</text>
<text x="499.05" y="195.76" font-size="8.0" textLength="7.83" lengthAdjust="spacingAndGlyphs" text-anchor="middle">60</text>
<text x="517.33" y="195.76" font-size="8.0" textLength="7.83" lengthAdjust="spacingAndGlyphs" text-anchor="middle">80</text>
<text x="535.60" y="195.76" font-size="8.0" textLength="11.74" lengthAdjust="spacingAndGlyphs" text-anchor="middle">100</text>
<text x="499.40" y="205.64" font-size="9.6" textLength="16.50" lengthAdjust="spacingAndGlyphs" text-anchor="middle">kDa</text>
<line x1="509.30" y1="104.90" x2="517.90" y2="104.90" stroke="#ff0000" stroke-width="1.4"/>
<text x="520.00" y="107.26" font-size="6.3" textLength="9.40" lengthAdjust="spacingAndGlyphs">aJ3</text>
<line x1="509.30" y1="113.35" x2="517.90" y2="113.35" stroke="#0000ff" stroke-width="1.4"/>
<text x="520.00" y="115.71" font-size="6.3" textLength="18.00" lengthAdjust="spacingAndGlyphs">aJ3-2X</text>
<line x1="509.30" y1="121.80" x2="517.90" y2="121.80" stroke="#000000" stroke-width="1.4"/>
<text x="520.00" y="124.16" font-size="6.3" textLength="18.00" lengthAdjust="spacingAndGlyphs">aJ3-4X</text>
<line x1="562.90" y1="104.00" x2="562.90" y2="184.80" stroke="#000" stroke-width="1.1"/>
<line x1="562.40" y1="184.30" x2="643.90" y2="184.30" stroke="#000" stroke-width="1.1"/>
<path d="M558.9,184.3L562.9,184.3M558.9,144.4L562.9,144.4M558.9,104.5L562.9,104.5M576.7,184.3L576.7,187.9M595.1,184.3L595.1,187.9M613.6,184.3L613.6,187.9M632.0,184.3L632.0,187.9" stroke="#000" stroke-width="1.0" fill="none"/>
<path d="M560.7,176.3L562.9,176.3M560.7,168.3L562.9,168.3M560.7,160.4L562.9,160.4M560.7,152.4L562.9,152.4M560.7,136.4L562.9,136.4M560.7,128.4L562.9,128.4M560.7,120.5L562.9,120.5M560.7,112.5L562.9,112.5M567.5,184.3L567.5,186.5M585.9,184.3L585.9,186.5M604.4,184.3L604.4,186.5M622.8,184.3L622.8,186.5M641.2,184.3L641.2,186.5" stroke="#000" stroke-width="0.9" fill="none"/>
<polyline points="563.1,184.3 563.4,184.3 563.8,184.3 564.2,184.3 564.5,184.3 564.9,184.3 565.3,184.3 565.6,184.3 566.0,184.3 566.4,184.3 566.7,184.3 567.1,184.3 567.5,184.3 567.9,184.3 568.2,184.3 568.6,184.3 569.0,184.3 569.3,184.3 569.7,184.3 570.1,184.3 570.4,184.3 570.8,184.3 571.2,184.3 571.5,184.3 571.9,184.3 572.3,184.3 572.6,184.3 573.0,184.3 573.4,184.2 573.8,184.1 574.1,183.9 574.5,183.6 574.9,182.9 575.2,181.9 575.6,179.9 576.0,175.7 576.3,169.0 576.7,162.9 577.1,162.6 577.4,167.1 577.8,173.1 578.2,177.8 578.5,180.5 578.9,182.0 579.3,182.8 579.6,183.4 580.0,183.8 580.4,184.0 580.8,184.1 581.1,184.2 581.5,184.2 581.9,184.2 582.2,184.2 582.6,184.2 583.0,184.1 583.3,184.1 583.7,184.0 584.1,184.0 584.4,183.9 584.8,183.7 585.2,183.6 585.5,183.4 585.9,183.2 586.3,183.0 586.7,182.7 587.0,182.4 587.4,182.0 587.8,181.5 588.1,181.0 588.5,180.4 588.9,179.7 589.2,178.9 589.6,178.1 590.0,177.0 590.3,175.9 590.7,174.5 591.1,172.8 591.4,170.8 591.8,168.3 592.2,165.2 592.6,161.5 592.9,157.1 593.3,151.8 593.7,145.9 594.0,139.3 594.4,132.3 594.8,125.3 595.1,118.7 595.5,112.9 595.9,108.4 596.2,105.5 596.6,104.5 597.0,105.4 597.3,107.9 597.7,111.9 598.1,117.0 598.5,123.0 598.8,129.5 599.2,136.1 599.6,142.4 599.9,148.3 600.3,153.7 600.7,158.3 601.0,162.3 601.4,165.7 601.8,168.5 602.1,170.8 602.5,172.7 602.9,174.3 603.2,175.6 603.6,176.8 604.0,177.7 604.4,178.6 604.7,179.4 605.1,180.0 605.5,180.6 605.8,181.2 606.2,181.6 606.6,182.0 606.9,182.4 607.3,182.7 607.7,183.0 608.0,183.2 608.4,183.4 608.8,183.6 609.1,183.7 609.5,183.8 609.9,183.9 610.3,184.0 610.6,184.1 611.0,184.1 611.4,184.2 611.7,184.2 612.1,184.2 612.5,184.2 612.8,184.2 613.2,184.3 613.6,184.3 613.9,184.3 614.3,184.3 614.7,184.3 615.0,184.3 615.4,184.3 615.8,184.3 616.2,184.3 616.5,184.3 616.9,184.3 617.3,184.3 617.6,184.3 618.0,184.3 618.4,184.3 618.7,184.3 619.1,184.3 619.5,184.3 619.8,184.3 620.2,184.3 620.6,184.3 620.9,184.3 621.3,184.3 621.7,184.3 622.1,184.3 622.4,184.3 622.8,184.3 623.2,184.3 623.5,184.3 623.9,184.3 624.3,184.3 624.6,184.3 625.0,184.3 625.4,184.3 625.7,184.3 626.1,184.3 626.5,184.3 626.8,184.3 627.2,184.3 627.6,184.3 627.9,184.3 628.3,184.3 628.7,184.3 629.1,184.3 629.4,184.3 629.8,184.3 630.2,184.3 630.5,184.3 630.9,184.3 631.3,184.3 631.6,184.3 632.0,184.3 632.4,184.3 632.7,184.3 633.1,184.3 633.5,184.3 633.8,184.3 634.2,184.3 634.6,184.3 635.0,184.3 635.3,184.3 635.7,184.3 636.1,184.3 636.4,184.3 636.8,184.3 637.2,184.3 637.5,184.3 637.9,184.3 638.3,184.3 638.6,184.3 639.0,184.3 639.4,184.3 639.7,184.3 640.1,184.3 640.5,184.3 640.9,184.3 641.2,184.3 641.6,184.3 642.0,184.3 642.3,184.3 642.7,184.3 643.1,184.3 643.4,184.3" fill="none" stroke="#ff0000" stroke-width="1.15" stroke-linejoin="round"/>
<polyline points="563.1,184.3 563.4,184.3 563.8,184.3 564.2,184.3 564.5,184.3 564.9,184.3 565.3,184.3 565.6,184.3 566.0,184.3 566.4,184.3 566.7,184.3 567.1,184.3 567.5,184.3 567.9,184.3 568.2,184.3 568.6,184.3 569.0,184.3 569.3,184.3 569.7,184.3 570.1,184.3 570.4,184.3 570.8,184.3 571.2,184.3 571.5,184.3 571.9,184.3 572.3,184.3 572.6,184.3 573.0,184.3 573.4,184.3 573.8,184.3 574.1,184.3 574.5,184.3 574.9,184.3 575.2,184.2 575.6,184.1 576.0,183.8 576.3,183.4 576.7,182.6 577.1,181.3 577.4,179.2 577.8,175.2 578.2,167.4 578.5,155.7 578.9,145.9 579.3,145.3 579.6,151.5 580.0,160.6 580.4,169.0 580.8,174.8 581.1,178.2 581.5,180.3 581.9,181.6 582.2,182.5 582.6,183.2 583.0,183.6 583.3,183.9 583.7,184.1 584.1,184.2 584.4,184.2 584.8,184.2 585.2,184.2 585.5,184.2 585.9,184.2 586.3,184.2 586.7,184.1 587.0,184.1 587.4,184.1 587.8,184.0 588.1,183.9 588.5,183.9 588.9,183.8 589.2,183.7 589.6,183.6 590.0,183.4 590.3,183.3 590.7,183.1 591.1,182.9 591.4,182.6 591.8,182.4 592.2,182.1 592.6,181.7 592.9,181.4 593.3,181.0 593.7,180.5 594.0,180.0 594.4,179.4 594.8,178.8 595.1,178.1 595.5,177.3 595.9,176.5 596.2,175.5 596.6,174.4 597.0,173.1 597.3,171.6 597.7,169.9 598.1,167.8 598.5,165.4 598.8,162.6 599.2,159.4 599.6,155.7 599.9,151.5 600.3,146.9 600.7,141.9 601.0,136.6 601.4,131.1 601.8,125.7 602.1,120.5 602.5,115.7 602.9,111.5 603.2,108.2 603.6,105.8 604.0,104.7 604.4,104.6 604.7,105.6 605.1,107.5 605.5,110.2 605.8,113.7 606.2,117.8 606.6,122.3 606.9,127.1 607.3,132.0 607.7,136.9 608.0,141.6 608.4,146.2 608.8,150.4 609.1,154.3 609.5,157.8 609.9,160.9 610.3,163.7 610.6,166.1 611.0,168.2 611.4,170.0 611.7,171.5 612.1,172.9 612.5,174.1 612.8,175.1 613.2,176.1 613.6,176.9 613.9,177.6 614.3,178.3 614.7,178.9 615.0,179.5 615.4,180.0 615.8,180.4 616.2,180.8 616.5,181.2 616.9,181.6 617.3,181.9 617.6,182.2 618.0,182.4 618.4,182.7 618.7,182.9 619.1,183.1 619.5,183.2 619.8,183.4 620.2,183.5 620.6,183.6 620.9,183.7 621.3,183.8 621.7,183.9 622.1,184.0 622.4,184.0 622.8,184.1 623.2,184.1 623.5,184.1 623.9,184.2 624.3,184.2 624.6,184.2 625.0,184.2 625.4,184.2 625.7,184.2 626.1,184.3 626.5,184.3 626.8,184.3 627.2,184.3 627.6,184.3 627.9,184.3 628.3,184.3 628.7,184.3 629.1,184.3 629.4,184.3 629.8,184.3 630.2,184.3 630.5,184.3 630.9,184.3 631.3,184.3 631.6,184.3 632.0,184.3 632.4,184.3 632.7,184.3 633.1,184.3 633.5,184.3 633.8,184.3 634.2,184.3 634.6,184.3 635.0,184.3 635.3,184.3 635.7,184.3 636.1,184.3 636.4,184.3 636.8,184.3 637.2,184.3 637.5,184.3 637.9,184.3 638.3,184.3 638.6,184.3 639.0,184.3 639.4,184.3 639.7,184.3 640.1,184.3 640.5,184.3 640.9,184.3 641.2,184.3 641.6,184.3 642.0,184.3 642.3,184.3 642.7,184.3 643.1,184.3 643.4,184.3" fill="none" stroke="#0000ff" stroke-width="1.15" stroke-linejoin="round"/>
<polyline points="563.1,184.3 563.4,184.3 563.8,184.3 564.2,184.3 564.5,184.3 564.9,184.3 565.3,184.3 565.6,184.3 566.0,184.3 566.4,184.3 566.7,184.3 567.1,184.3 567.5,184.3 567.9,184.3 568.2,184.3 568.6,184.3 569.0,184.3 569.3,184.3 569.7,184.3 570.1,184.3 570.4,184.3 570.8,184.3 571.2,184.3 571.5,184.3 571.9,184.3 572.3,184.3 572.6,184.3 573.0,184.3 573.4,184.3 573.8,184.2 574.1,184.2 574.5,184.2 574.9,184.1 575.2,184.1 575.6,184.0 576.0,183.8 576.3,183.7 576.7,183.5 577.1,183.2 577.4,182.9 577.8,182.5 578.2,182.0 578.5,181.4 578.9,180.7 579.3,179.8 579.6,178.8 580.0,177.6 580.4,176.2 580.8,174.4 581.1,172.1 581.5,169.1 581.9,165.3 582.2,160.3 582.6,154.1 583.0,146.7 583.3,138.3 583.7,129.6 584.1,121.4 584.4,114.6 584.8,110.1 585.2,108.5 585.5,109.2 585.9,111.2 586.3,114.3 586.7,118.5 587.0,123.4 587.4,128.9 587.8,134.5 588.1,140.1 588.5,145.5 588.9,150.6 589.2,155.2 589.6,159.2 590.0,162.7 590.3,165.8 590.7,168.3 591.1,170.4 591.4,172.2 591.8,173.7 592.2,175.0 592.6,176.1 592.9,177.1 593.3,177.9 593.7,178.6 594.0,179.2 594.4,179.8 594.8,180.3 595.1,180.7 595.5,181.1 595.9,181.4 596.2,181.6 596.6,181.8 597.0,182.0 597.3,182.1 597.7,182.2 598.1,182.2 598.5,182.2 598.8,182.1 599.2,182.0 599.6,181.9 599.9,181.7 600.3,181.5 600.7,181.3 601.0,181.0 601.4,180.7 601.8,180.3 602.1,180.0 602.5,179.5 602.9,179.1 603.2,178.6 603.6,178.0 604.0,177.4 604.4,176.7 604.7,176.0 605.1,175.2 605.5,174.3 605.8,173.2 606.2,172.1 606.6,170.8 606.9,169.3 607.3,167.6 607.7,165.7 608.0,163.5 608.4,161.1 608.8,158.3 609.1,155.3 609.5,152.0 609.9,148.3 610.3,144.4 610.6,140.3 611.0,136.1 611.4,131.7 611.7,127.3 612.1,123.0 612.5,119.0 612.8,115.2 613.2,111.9 613.6,109.1 613.9,106.9 614.3,105.4 614.7,104.6 615.0,104.6 615.4,105.7 615.8,107.8 616.2,110.8 616.5,114.6 616.9,119.0 617.3,123.9 617.6,129.0 618.0,134.2 618.4,139.3 618.7,144.2 619.1,148.8 619.5,153.0 619.8,156.8 620.2,160.2 620.6,163.2 620.9,165.8 621.3,168.0 621.7,169.9 622.1,171.6 622.4,173.0 622.8,174.2 623.2,175.3 623.5,176.3 623.9,177.1 624.3,177.9 624.6,178.5 625.0,178.8 625.4,179.0 625.7,179.1 626.1,179.2 626.5,179.3 626.8,179.4 627.2,179.6 627.6,179.7 627.9,179.8 628.3,179.9 628.7,180.0 629.1,180.2 629.4,180.3 629.8,180.4 630.2,180.5 630.5,180.6 630.9,180.7 631.3,180.9 631.6,181.0 632.0,181.1 632.4,181.2 632.7,181.3 633.1,181.4 633.5,181.5 633.8,181.6 634.2,181.7 634.6,181.8 635.0,181.9 635.3,182.0 635.7,182.1 636.1,182.2 636.4,182.3 636.8,182.4 637.2,182.5 637.5,182.7 637.9,182.8 638.3,182.9 638.6,183.0 639.0,183.1 639.4,183.2 639.7,183.3 640.1,183.4 640.5,183.5 640.9,183.6 641.2,183.7 641.6,183.8 642.0,183.9 642.3,184.0 642.7,184.1 643.1,184.2 643.4,184.3" fill="none" stroke="#000000" stroke-width="1.15" stroke-linejoin="round"/>
<text x="597.90" y="98.04" font-size="9.6" textLength="32.50" lengthAdjust="spacingAndGlyphs" text-anchor="middle">With Fc</text>
<text x="558.40" y="187.26" font-size="8.0" textLength="9.56" lengthAdjust="spacingAndGlyphs" text-anchor="end">0.0</text>
<text x="558.40" y="147.36" font-size="8.0" textLength="9.56" lengthAdjust="spacingAndGlyphs" text-anchor="end">0.5</text>
<text x="558.40" y="107.46" font-size="8.0" textLength="9.56" lengthAdjust="spacingAndGlyphs" text-anchor="end">1.0</text>
<text x="576.70" y="195.76" font-size="8.0" textLength="7.83" lengthAdjust="spacingAndGlyphs" text-anchor="middle">50</text>
<text x="595.13" y="195.76" font-size="8.0" textLength="11.74" lengthAdjust="spacingAndGlyphs" text-anchor="middle">100</text>
<text x="613.57" y="195.76" font-size="8.0" textLength="11.74" lengthAdjust="spacingAndGlyphs" text-anchor="middle">150</text>
<text x="632.01" y="195.76" font-size="8.0" textLength="11.74" lengthAdjust="spacingAndGlyphs" text-anchor="middle">200</text>
<text x="605.50" y="205.64" font-size="9.6" textLength="16.50" lengthAdjust="spacingAndGlyphs" text-anchor="middle">kDa</text>
<line x1="628.90" y1="104.90" x2="637.90" y2="104.90" stroke="#ff0000" stroke-width="1.4"/>
<text x="639.90" y="107.26" font-size="6.3" textLength="17.20" lengthAdjust="spacingAndGlyphs">aJ3-Fc</text>
<line x1="628.90" y1="113.35" x2="637.90" y2="113.35" stroke="#0000ff" stroke-width="1.4"/>
<text x="639.90" y="115.71" font-size="6.3" textLength="25.60" lengthAdjust="spacingAndGlyphs">aJ3-2X-Fc</text>
<line x1="628.90" y1="121.80" x2="637.90" y2="121.80" stroke="#000000" stroke-width="1.4"/>
<text x="639.90" y="124.16" font-size="6.3" textLength="25.60" lengthAdjust="spacingAndGlyphs">aJ3-4X-Fc</text>
<text x="0.00" y="301.20" font-size="19.7" font-weight="bold">d</text>
<text x="65.20" y="298.55" font-size="8.8" textLength="12.77" lengthAdjust="spacingAndGlyphs" text-anchor="middle">aJ3</text>
<text x="124.40" y="298.55" font-size="8.8" textLength="25.09" lengthAdjust="spacingAndGlyphs" text-anchor="middle">aJ3-2X</text>
<text x="184.20" y="298.55" font-size="8.8" textLength="25.09" lengthAdjust="spacingAndGlyphs" text-anchor="middle">aJ3-4X</text>
<text x="250.30" y="298.55" font-size="8.8" textLength="24.20" lengthAdjust="spacingAndGlyphs" text-anchor="middle">aJ3-Fc</text>
<text x="309.70" y="298.55" font-size="8.8" textLength="36.53" lengthAdjust="spacingAndGlyphs" text-anchor="middle">aJ3-2X-Fc</text>
<text x="369.30" y="298.55" font-size="8.8" textLength="36.53" lengthAdjust="spacingAndGlyphs" text-anchor="middle">aJ3-4X-Fc</text>
<text text-rendering="geometricPrecision" transform="translate(5.90,332.05) rotate(-90)" x="0" y="3.15" font-size="8.8" textLength="20.92" lengthAdjust="spacingAndGlyphs" text-anchor="middle">UG37</text>
<text text-rendering="geometricPrecision" transform="translate(13.10,332.05) rotate(-90)" x="0" y="3.15" font-size="8.8" textLength="32.20" lengthAdjust="spacingAndGlyphs" text-anchor="middle">(clade A)</text>
<text text-rendering="geometricPrecision" transform="translate(23.50,331.85) rotate(-90)" x="0" y="2.43" font-size="6.8" textLength="38.20" lengthAdjust="spacingAndGlyphs" text-anchor="middle">Binding (nm)</text>
<text x="35.00" y="360.76" font-size="6.6" textLength="7.43" lengthAdjust="spacingAndGlyphs" text-anchor="end">0.0</text>
<text x="35.00" y="333.41" font-size="6.6" textLength="7.43" lengthAdjust="spacingAndGlyphs" text-anchor="end">0.5</text>
<text x="35.00" y="306.06" font-size="6.6" textLength="7.43" lengthAdjust="spacingAndGlyphs" text-anchor="end">1.0</text>
<polyline points="39.4,358.4 39.5,358.1 39.8,357.4 40.2,356.6 40.7,355.7 41.2,354.8 41.9,353.9 42.6,353.1 43.3,352.4 44.1,351.7 45.0,351.1 45.9,350.6 46.9,350.2 48.0,349.9 49.0,349.5 50.2,349.3 51.4,349.1 52.6,348.8 53.8,348.7 55.1,348.5 56.5,348.3 57.9,348.2 59.3,348.0 60.8,347.9 62.3,347.7 62.4,352.9 62.8,354.2 63.8,354.6 73.6,355.1 84.5,355.7" fill="none" stroke="#000000" stroke-width="1.15" stroke-linejoin="round"/>
<polyline points="39.4,358.4 39.5,357.7 39.8,356.4 40.2,354.8 40.7,353.0 41.2,351.2 41.9,349.5 42.6,347.8 43.3,346.3 44.1,345.0 45.0,343.9 45.9,342.9 46.9,342.0 48.0,341.3 49.0,340.7 50.2,340.2 51.4,339.7 52.6,339.3 53.8,338.9 55.1,338.6 56.5,338.3 57.9,338.0 59.3,337.7 60.8,337.4 62.3,337.1 62.4,344.5 62.8,346.3 63.8,346.9 73.6,347.2 84.5,347.5" fill="none" stroke="#0000ff" stroke-width="1.15" stroke-linejoin="round"/>
<polyline points="39.4,358.4 39.5,357.7 39.8,356.4 40.2,354.8 40.7,353.0 41.2,351.2 41.9,349.5 42.6,347.8 43.3,346.3 44.1,345.0 45.0,343.9 45.9,342.9 46.9,342.0 48.0,341.3 49.0,340.7 50.2,340.2 51.4,339.7 52.6,339.3 53.8,338.9 55.1,338.6 56.5,338.3 57.9,338.0 59.3,337.7 60.8,337.4 62.3,337.1 62.4,343.4 62.8,345.0 63.8,345.5 73.6,345.5 84.5,345.5" fill="none" stroke="#ff0000" stroke-width="1.15" stroke-linejoin="round"/>
<rect x="38.40" y="303.70" width="54.80" height="54.70" fill="none" stroke="#000" stroke-width="1.1"/>
<path d="M35.2,358.4L38.4,358.4M35.2,344.7L38.4,344.7M35.2,331.0L38.4,331.0M35.2,317.4L38.4,317.4M35.2,303.7L38.4,303.7M38.4,358.4L38.4,360.8M47.5,358.4L47.5,360.8M56.6,358.4L56.6,360.8M65.7,358.4L65.7,360.8M74.8,358.4L74.8,360.8M83.9,358.4L83.9,360.8" stroke="#000" stroke-width="0.9" fill="none"/>
<line x1="54.30" y1="307.60" x2="66.00" y2="307.60" stroke="#ff0000" stroke-width="1.1"/>
<text x="69.70" y="309.88" font-size="6.1" textLength="21.36" lengthAdjust="spacingAndGlyphs">1736 nM</text>
<line x1="54.30" y1="313.50" x2="66.00" y2="313.50" stroke="#0000ff" stroke-width="1.1"/>
<text x="69.70" y="315.78" font-size="6.1" textLength="18.31" lengthAdjust="spacingAndGlyphs">867 nM</text>
<line x1="54.30" y1="319.40" x2="66.00" y2="319.40" stroke="#000000" stroke-width="1.1"/>
<text x="69.70" y="321.68" font-size="6.1" textLength="18.31" lengthAdjust="spacingAndGlyphs">433 nM</text>
<polyline points="98.6,358.4 98.7,357.7 99.0,356.5 99.4,354.9 99.9,353.1 100.4,351.3 101.1,349.6 101.8,347.9 102.5,346.3 103.3,344.9 104.2,343.7 105.1,342.6 106.1,341.6 107.2,340.8 108.2,340.1 109.4,339.5 110.6,339.0 111.8,338.5 113.0,338.1 114.3,337.7 115.7,337.3 117.1,337.0 118.5,336.6 120.0,336.3 121.5,336.0 121.6,343.2 122.0,345.0 123.0,345.5 132.8,345.7 143.7,345.8" fill="none" stroke="#000000" stroke-width="1.15" stroke-linejoin="round"/>
<polyline points="98.6,358.4 98.7,357.7 99.0,356.4 99.4,354.8 99.9,352.9 100.4,351.1 101.1,349.2 101.8,347.5 102.5,345.9 103.3,344.4 104.2,343.1 105.1,342.0 106.1,341.0 107.2,340.2 108.2,339.4 109.4,338.8 110.6,338.2 111.8,337.8 113.0,337.3 114.3,336.9 115.7,336.5 117.1,336.2 118.5,335.8 120.0,335.5 121.5,335.2 121.6,342.5 122.0,344.4 123.0,345.0 132.8,345.1 143.7,345.3" fill="none" stroke="#0000ff" stroke-width="1.15" stroke-linejoin="round"/>
<polyline points="98.6,358.4 98.7,357.7 99.0,356.4 99.4,354.8 99.9,353.0 100.4,351.2 101.1,349.3 101.8,347.6 102.5,346.0 103.3,344.6 104.2,343.3 105.1,342.2 106.1,341.2 107.2,340.4 108.2,339.7 109.4,339.0 110.6,338.5 111.8,338.0 113.0,337.6 114.3,337.2 115.7,336.8 117.1,336.4 118.5,336.1 120.0,335.8 121.5,335.4 121.6,342.0 122.0,343.7 123.0,344.2 132.8,344.0 143.7,343.9" fill="none" stroke="#ff0000" stroke-width="1.15" stroke-linejoin="round"/>
<rect x="97.60" y="303.70" width="54.80" height="54.70" fill="none" stroke="#000" stroke-width="1.1"/>
<path d="M94.4,358.4L97.6,358.4M94.4,344.7L97.6,344.7M94.4,331.0L97.6,331.0M94.4,317.4L97.6,317.4M94.4,303.7L97.6,303.7M97.6,358.4L97.6,360.8M106.7,358.4L106.7,360.8M115.8,358.4L115.8,360.8M124.9,358.4L124.9,360.8M134.0,358.4L134.0,360.8M143.1,358.4L143.1,360.8" stroke="#000" stroke-width="0.9" fill="none"/>
<line x1="113.50" y1="307.60" x2="125.20" y2="307.60" stroke="#ff0000" stroke-width="1.1"/>
<text x="128.90" y="309.88" font-size="6.1" textLength="21.36" lengthAdjust="spacingAndGlyphs">3437 nM</text>
<line x1="113.50" y1="313.50" x2="125.20" y2="313.50" stroke="#0000ff" stroke-width="1.1"/>
<text x="128.90" y="315.78" font-size="6.1" textLength="21.36" lengthAdjust="spacingAndGlyphs">1719 nM</text>
<line x1="113.50" y1="319.40" x2="125.20" y2="319.40" stroke="#000000" stroke-width="1.1"/>
<text x="128.90" y="321.68" font-size="6.1" textLength="18.31" lengthAdjust="spacingAndGlyphs">859 nM</text>
<polyline points="158.4,358.4 158.5,357.7 158.8,356.4 159.2,354.8 159.7,352.9 160.2,351.0 160.9,349.0 161.6,347.1 162.3,345.2 163.1,343.5 164.0,342.0 164.9,340.5 165.9,339.2 167.0,338.1 168.0,337.1 169.2,336.2 170.4,335.4 171.6,334.7 172.8,334.0 174.1,333.4 175.5,332.9 176.9,332.4 178.3,331.9 179.8,331.5 181.3,331.0 181.4,335.8 181.8,337.0 182.8,337.3 192.6,337.8 203.5,338.2" fill="none" stroke="#000000" stroke-width="1.15" stroke-linejoin="round"/>
<polyline points="158.4,358.4 158.5,357.6 158.8,356.2 159.2,354.3 159.7,352.1 160.2,349.9 160.9,347.6 161.6,345.4 162.3,343.3 163.1,341.3 164.0,339.5 164.9,337.8 165.9,336.4 167.0,335.1 168.0,333.9 169.2,332.8 170.4,331.9 171.6,331.1 172.8,330.4 174.1,329.7 175.5,329.1 176.9,328.5 178.3,328.0 179.8,327.4 181.3,326.9 181.4,332.9 181.8,334.4 182.8,334.9 192.6,335.2 203.5,335.4" fill="none" stroke="#0000ff" stroke-width="1.15" stroke-linejoin="round"/>
<polyline points="158.4,358.4 158.5,357.7 158.8,356.3 159.2,354.4 159.7,352.4 160.2,350.2 160.9,348.1 161.6,346.0 162.3,343.9 163.1,342.0 164.0,340.3 164.9,338.7 165.9,337.3 167.0,336.1 168.0,335.0 169.2,334.0 170.4,333.1 171.6,332.3 172.8,331.6 174.1,330.9 175.5,330.4 176.9,329.8 178.3,329.3 179.8,328.8 181.3,328.3 181.4,330.8 181.8,331.4 182.8,331.6 192.6,331.7 203.5,331.9" fill="none" stroke="#ff0000" stroke-width="1.15" stroke-linejoin="round"/>
<rect x="157.40" y="303.70" width="54.80" height="54.70" fill="none" stroke="#000" stroke-width="1.1"/>
<path d="M154.2,358.4L157.4,358.4M154.2,344.7L157.4,344.7M154.2,331.0L157.4,331.0M154.2,317.4L157.4,317.4M154.2,303.7L157.4,303.7M157.4,358.4L157.4,360.8M166.5,358.4L166.5,360.8M175.6,358.4L175.6,360.8M184.7,358.4L184.7,360.8M193.8,358.4L193.8,360.8M202.9,358.4L202.9,360.8" stroke="#000" stroke-width="0.9" fill="none"/>
<line x1="173.30" y1="307.60" x2="185.00" y2="307.60" stroke="#ff0000" stroke-width="1.1"/>
<text x="188.70" y="309.88" font-size="6.1" textLength="21.36" lengthAdjust="spacingAndGlyphs">1010 nM</text>
<line x1="173.30" y1="313.50" x2="185.00" y2="313.50" stroke="#0000ff" stroke-width="1.1"/>
<text x="188.70" y="315.78" font-size="6.1" textLength="18.31" lengthAdjust="spacingAndGlyphs">505 nM</text>
<line x1="173.30" y1="319.40" x2="185.00" y2="319.40" stroke="#000000" stroke-width="1.1"/>
<text x="188.70" y="321.68" font-size="6.1" textLength="18.31" lengthAdjust="spacingAndGlyphs">253 nM</text>
<polyline points="224.5,358.4 224.6,357.9 224.9,356.8 225.3,355.5 225.8,353.9 226.3,352.2 227.0,350.5 227.7,348.8 228.4,347.1 229.2,345.4 230.1,343.8 231.0,342.3 232.0,341.0 233.1,339.7 234.1,338.5 235.3,337.4 236.5,336.5 237.7,335.6 238.9,334.8 240.2,334.0 241.6,333.3 243.0,332.7 244.4,332.1 245.9,331.6 247.4,331.0 247.5,337.2 247.9,338.8 248.9,339.3 258.7,339.5 269.6,339.8" fill="none" stroke="#000000" stroke-width="1.15" stroke-linejoin="round"/>
<polyline points="224.5,358.4 224.6,357.8 224.9,356.6 225.3,355.0 225.8,353.3 226.3,351.3 227.0,349.3 227.7,347.3 228.4,345.4 229.2,343.4 230.1,341.6 231.0,339.9 232.0,338.3 233.1,336.9 234.1,335.5 235.3,334.3 236.5,333.2 237.7,332.2 238.9,331.2 240.2,330.4 241.6,329.6 243.0,328.9 244.4,328.2 245.9,327.6 247.4,326.9 247.5,333.7 247.9,335.4 248.9,336.0 258.7,336.2 269.6,336.5" fill="none" stroke="#0000ff" stroke-width="1.15" stroke-linejoin="round"/>
<polyline points="224.5,358.4 224.6,357.7 224.9,356.4 225.3,354.6 225.8,352.6 226.3,350.4 227.0,348.1 227.7,345.9 228.4,343.7 229.2,341.5 230.1,339.4 231.0,337.5 232.0,335.7 233.1,334.1 234.1,332.6 235.3,331.2 236.5,329.9 237.7,328.7 238.9,327.7 240.2,326.7 241.6,325.8 243.0,325.0 244.4,324.2 245.9,323.5 247.4,322.8 247.5,329.8 247.9,331.6 248.9,332.1 258.7,332.4 269.6,332.7" fill="none" stroke="#ff0000" stroke-width="1.15" stroke-linejoin="round"/>
<rect x="223.50" y="303.70" width="54.80" height="54.70" fill="none" stroke="#000" stroke-width="1.1"/>
<path d="M220.3,358.4L223.5,358.4M220.3,344.7L223.5,344.7M220.3,331.0L223.5,331.0M220.3,317.4L223.5,317.4M220.3,303.7L223.5,303.7M223.5,358.4L223.5,360.8M232.6,358.4L232.6,360.8M241.7,358.4L241.7,360.8M250.8,358.4L250.8,360.8M259.9,358.4L259.9,360.8M269.0,358.4L269.0,360.8" stroke="#000" stroke-width="0.9" fill="none"/>
<line x1="239.80" y1="307.60" x2="251.50" y2="307.60" stroke="#ff0000" stroke-width="1.1"/>
<text x="255.20" y="309.88" font-size="6.1" textLength="21.36" lengthAdjust="spacingAndGlyphs">3286 nM</text>
<line x1="239.80" y1="313.50" x2="251.50" y2="313.50" stroke="#0000ff" stroke-width="1.1"/>
<text x="255.20" y="315.78" font-size="6.1" textLength="21.36" lengthAdjust="spacingAndGlyphs">1643 nM</text>
<line x1="239.80" y1="319.40" x2="251.50" y2="319.40" stroke="#000000" stroke-width="1.1"/>
<text x="255.20" y="321.68" font-size="6.1" textLength="18.31" lengthAdjust="spacingAndGlyphs">814 nM</text>
<polyline points="283.9,358.4 284.0,357.6 284.3,355.9 284.7,353.9 285.2,351.6 285.7,349.2 286.4,346.8 287.1,344.5 287.8,342.4 288.6,340.4 289.5,338.7 290.4,337.1 291.4,335.7 292.5,334.5 293.5,333.4 294.7,332.5 295.9,331.7 297.1,331.0 298.3,330.3 299.6,329.7 301.0,329.2 302.4,328.7 303.8,328.2 305.3,327.7 306.8,327.2 306.9,331.1 307.3,332.1 308.3,332.4 318.1,332.7 329.0,333.0" fill="none" stroke="#000000" stroke-width="1.15" stroke-linejoin="round"/>
<polyline points="283.9,358.4 284.0,357.5 284.3,355.8 284.7,353.6 285.2,351.2 285.7,348.6 286.4,346.1 287.1,343.7 287.8,341.4 288.6,339.3 289.5,337.5 290.4,335.8 291.4,334.3 292.5,333.0 293.5,331.9 294.7,330.9 295.9,330.0 297.1,329.3 298.3,328.6 299.6,327.9 301.0,327.4 302.4,326.8 303.8,326.3 305.3,325.8 306.8,325.3 306.9,328.4 307.3,329.2 308.3,329.4 318.1,329.7 329.0,330.0" fill="none" stroke="#0000ff" stroke-width="1.15" stroke-linejoin="round"/>
<polyline points="283.9,358.4 284.0,357.2 284.3,354.9 284.7,352.0 285.2,348.8 285.7,345.5 286.4,342.1 287.1,338.9 287.8,335.9 288.6,333.2 289.5,330.7 290.4,328.5 291.4,326.5 292.5,324.8 293.5,323.3 294.7,322.0 295.9,320.9 297.1,319.9 298.3,319.0 299.6,318.1 301.0,317.4 302.4,316.6 303.8,316.0 305.3,315.3 306.8,314.6 306.9,320.6 307.3,322.1 308.3,322.6 318.1,322.8 329.0,323.1" fill="none" stroke="#ff0000" stroke-width="1.15" stroke-linejoin="round"/>
<rect x="282.90" y="303.70" width="54.80" height="54.70" fill="none" stroke="#000" stroke-width="1.1"/>
<path d="M279.7,358.4L282.9,358.4M279.7,344.7L282.9,344.7M279.7,331.0L282.9,331.0M279.7,317.4L282.9,317.4M279.7,303.7L282.9,303.7M282.9,358.4L282.9,360.8M292.0,358.4L292.0,360.8M301.1,358.4L301.1,360.8M310.2,358.4L310.2,360.8M319.3,358.4L319.3,360.8M328.4,358.4L328.4,360.8" stroke="#000" stroke-width="0.9" fill="none"/>
<line x1="299.20" y1="341.40" x2="310.90" y2="341.40" stroke="#ff0000" stroke-width="1.1"/>
<text x="314.60" y="343.68" font-size="6.1" textLength="21.36" lengthAdjust="spacingAndGlyphs">1825 nM</text>
<line x1="299.20" y1="347.30" x2="310.90" y2="347.30" stroke="#0000ff" stroke-width="1.1"/>
<text x="314.60" y="349.58" font-size="6.1" textLength="18.31" lengthAdjust="spacingAndGlyphs">912 nM</text>
<line x1="299.20" y1="353.20" x2="310.90" y2="353.20" stroke="#000000" stroke-width="1.1"/>
<text x="314.60" y="355.48" font-size="6.1" textLength="18.31" lengthAdjust="spacingAndGlyphs">456 nM</text>
<polyline points="343.5,358.4 343.6,357.6 343.9,356.1 344.3,354.1 344.8,351.8 345.3,349.4 346.0,347.0 346.7,344.7 347.4,342.4 348.2,340.3 349.1,338.3 350.0,336.6 351.0,334.9 352.1,333.5 353.1,332.2 354.3,331.1 355.5,330.0 356.7,329.1 357.9,328.3 359.2,327.5 360.6,326.8 362.0,326.2 363.4,325.6 364.9,325.0 366.4,324.5 366.5,331.5 366.9,333.2 367.9,333.8 377.7,334.2 388.6,334.6" fill="none" stroke="#000000" stroke-width="1.15" stroke-linejoin="round"/>
<polyline points="343.5,358.4 343.6,357.5 343.9,355.8 344.3,353.7 344.8,351.2 345.3,348.6 346.0,346.0 346.7,343.5 347.4,341.0 348.2,338.7 349.1,336.6 350.0,334.6 351.0,332.9 352.1,331.3 353.1,329.9 354.3,328.6 355.5,327.5 356.7,326.5 357.9,325.6 359.2,324.8 360.6,324.1 362.0,323.4 363.4,322.7 364.9,322.1 366.4,321.5 366.5,327.4 366.9,328.9 367.9,329.4 377.7,329.8 388.6,330.2" fill="none" stroke="#0000ff" stroke-width="1.15" stroke-linejoin="round"/>
<polyline points="343.5,358.4 343.6,357.5 343.9,355.9 344.3,353.7 344.8,351.3 345.3,348.7 346.0,346.1 346.7,343.6 347.4,341.1 348.2,338.8 349.1,336.7 350.0,334.8 351.0,333.1 352.1,331.5 353.1,330.1 354.3,328.8 355.5,327.7 356.7,326.8 357.9,325.9 359.2,325.0 360.6,324.3 362.0,323.6 363.4,323.0 364.9,322.3 366.4,321.8 366.5,325.6 366.9,326.6 367.9,326.9 377.7,327.2 388.6,327.5" fill="none" stroke="#ff0000" stroke-width="1.15" stroke-linejoin="round"/>
<rect x="342.50" y="303.70" width="54.80" height="54.70" fill="none" stroke="#000" stroke-width="1.1"/>
<path d="M339.3,358.4L342.5,358.4M339.3,344.7L342.5,344.7M339.3,331.0L342.5,331.0M339.3,317.4L342.5,317.4M339.3,303.7L342.5,303.7M342.5,358.4L342.5,360.8M351.6,358.4L351.6,360.8M360.7,358.4L360.7,360.8M369.8,358.4L369.8,360.8M378.9,358.4L378.9,360.8M388.0,358.4L388.0,360.8" stroke="#000" stroke-width="0.9" fill="none"/>
<line x1="361.70" y1="341.40" x2="373.40" y2="341.40" stroke="#ff0000" stroke-width="1.1"/>
<text x="377.10" y="343.68" font-size="6.1" textLength="18.31" lengthAdjust="spacingAndGlyphs">581 nM</text>
<line x1="361.70" y1="347.30" x2="373.40" y2="347.30" stroke="#0000ff" stroke-width="1.1"/>
<text x="377.10" y="349.58" font-size="6.1" textLength="18.31" lengthAdjust="spacingAndGlyphs">291 nM</text>
<line x1="361.70" y1="353.20" x2="373.40" y2="353.20" stroke="#000000" stroke-width="1.1"/>
<text x="377.10" y="355.48" font-size="6.1" textLength="18.31" lengthAdjust="spacingAndGlyphs">145 nM</text>
<text text-rendering="geometricPrecision" transform="translate(5.90,392.30) rotate(-90)" x="0" y="3.15" font-size="8.8" textLength="23.59" lengthAdjust="spacingAndGlyphs" text-anchor="middle">SF162</text>
<text text-rendering="geometricPrecision" transform="translate(13.10,392.30) rotate(-90)" x="0" y="3.15" font-size="8.8" textLength="32.20" lengthAdjust="spacingAndGlyphs" text-anchor="middle">(clade B)</text>
<text text-rendering="geometricPrecision" transform="translate(23.50,392.10) rotate(-90)" x="0" y="2.43" font-size="6.8" textLength="38.20" lengthAdjust="spacingAndGlyphs" text-anchor="middle">Binding (nm)</text>
<text x="35.00" y="420.86" font-size="6.6" textLength="7.43" lengthAdjust="spacingAndGlyphs" text-anchor="end">0.0</text>
<text x="35.00" y="393.66" font-size="6.6" textLength="7.43" lengthAdjust="spacingAndGlyphs" text-anchor="end">0.5</text>
<text x="35.00" y="366.46" font-size="6.6" textLength="7.43" lengthAdjust="spacingAndGlyphs" text-anchor="end">1.0</text>
<polyline points="39.4,418.5 39.5,418.0 39.8,417.0 40.2,415.7 40.7,414.4 41.2,413.0 41.9,411.7 42.6,410.4 43.3,409.3 44.1,408.3 45.0,407.4 45.9,406.6 46.9,406.0 48.0,405.4 49.0,405.0 50.2,404.6 51.4,404.2 52.6,403.9 53.8,403.6 55.1,403.3 56.5,403.1 57.9,402.9 59.3,402.6 60.8,402.4 62.3,402.2 62.4,409.3 62.8,411.1 63.8,411.7 73.6,411.8 84.5,412.0" fill="none" stroke="#000000" stroke-width="1.15" stroke-linejoin="round"/>
<polyline points="39.4,418.5 39.5,417.9 39.8,416.7 40.2,415.3 40.7,413.7 41.2,412.1 41.9,410.5 42.6,409.1 43.3,407.7 44.1,406.6 45.0,405.5 45.9,404.6 46.9,403.9 48.0,403.2 49.0,402.7 50.2,402.2 51.4,401.8 52.6,401.5 53.8,401.1 55.1,400.8 56.5,400.5 57.9,400.3 59.3,400.0 60.8,399.7 62.3,399.5 62.4,406.0 62.8,407.6 63.8,408.2 73.6,408.4 84.5,408.7" fill="none" stroke="#0000ff" stroke-width="1.15" stroke-linejoin="round"/>
<polyline points="39.4,418.5 39.5,417.9 39.8,416.7 40.2,415.3 40.7,413.7 41.2,412.1 41.9,410.5 42.6,409.1 43.3,407.7 44.1,406.6 45.0,405.5 45.9,404.6 46.9,403.9 48.0,403.2 49.0,402.7 50.2,402.2 51.4,401.8 52.6,401.5 53.8,401.1 55.1,400.8 56.5,400.5 57.9,400.3 59.3,400.0 60.8,399.7 62.3,399.5 62.4,405.6 62.8,407.1 63.8,407.6 73.6,407.9 84.5,408.2" fill="none" stroke="#ff0000" stroke-width="1.15" stroke-linejoin="round"/>
<rect x="38.40" y="364.10" width="54.80" height="54.40" fill="none" stroke="#000" stroke-width="1.1"/>
<path d="M35.2,418.5L38.4,418.5M35.2,404.9L38.4,404.9M35.2,391.3L38.4,391.3M35.2,377.7L38.4,377.7M35.2,364.1L38.4,364.1M38.4,418.5L38.4,420.9M47.5,418.5L47.5,420.9M56.6,418.5L56.6,420.9M65.7,418.5L65.7,420.9M74.8,418.5L74.8,420.9M83.9,418.5L83.9,420.9" stroke="#000" stroke-width="0.9" fill="none"/>
<line x1="54.30" y1="368.00" x2="66.00" y2="368.00" stroke="#ff0000" stroke-width="1.1"/>
<text x="69.70" y="370.28" font-size="6.1" textLength="21.36" lengthAdjust="spacingAndGlyphs">1736 nM</text>
<line x1="54.30" y1="373.90" x2="66.00" y2="373.90" stroke="#0000ff" stroke-width="1.1"/>
<text x="69.70" y="376.18" font-size="6.1" textLength="18.31" lengthAdjust="spacingAndGlyphs">867 nM</text>
<line x1="54.30" y1="379.80" x2="66.00" y2="379.80" stroke="#000000" stroke-width="1.1"/>
<text x="69.70" y="382.08" font-size="6.1" textLength="18.31" lengthAdjust="spacingAndGlyphs">433 nM</text>
<polyline points="98.6,418.5 98.7,418.1 99.0,417.2 99.4,416.2 99.9,415.1 100.4,413.9 101.1,412.7 101.8,411.6 102.5,410.6 103.3,409.7 104.2,408.9 105.1,408.1 106.1,407.5 107.2,407.0 108.2,406.5 109.4,406.1 110.6,405.8 111.8,405.5 113.0,405.2 114.3,404.9 115.7,404.7 117.1,404.5 118.5,404.2 120.0,404.0 121.5,403.8 121.6,410.1 122.0,411.7 123.0,412.2 132.8,411.6 143.7,410.9" fill="none" stroke="#000000" stroke-width="1.15" stroke-linejoin="round"/>
<polyline points="98.6,418.5 98.7,417.9 99.0,416.8 99.4,415.4 99.9,413.9 100.4,412.3 101.1,410.8 101.8,409.3 102.5,408.0 103.3,406.7 104.2,405.6 105.1,404.7 106.1,403.9 107.2,403.1 108.2,402.5 109.4,402.0 110.6,401.5 111.8,401.1 113.0,400.7 114.3,400.4 115.7,400.1 117.1,399.8 118.5,399.5 120.0,399.2 121.5,398.9 121.6,402.8 122.0,403.8 123.0,404.1 132.8,404.2 143.7,404.4" fill="none" stroke="#0000ff" stroke-width="1.15" stroke-linejoin="round"/>
<polyline points="98.6,418.5 98.7,417.8 99.0,416.5 99.4,414.9 99.9,413.1 100.4,411.3 101.1,409.5 101.8,407.8 102.5,406.2 103.3,404.8 104.2,403.5 105.1,402.4 106.1,401.4 107.2,400.6 108.2,399.9 109.4,399.2 110.6,398.7 111.8,398.2 113.0,397.8 114.3,397.4 115.7,397.0 117.1,396.7 118.5,396.3 120.0,396.0 121.5,395.7 121.6,400.5 122.0,401.8 123.0,402.2 132.8,402.5 143.7,402.7" fill="none" stroke="#ff0000" stroke-width="1.15" stroke-linejoin="round"/>
<rect x="97.60" y="364.10" width="54.80" height="54.40" fill="none" stroke="#000" stroke-width="1.1"/>
<path d="M94.4,418.5L97.6,418.5M94.4,404.9L97.6,404.9M94.4,391.3L97.6,391.3M94.4,377.7L97.6,377.7M94.4,364.1L97.6,364.1M97.6,418.5L97.6,420.9M106.7,418.5L106.7,420.9M115.8,418.5L115.8,420.9M124.9,418.5L124.9,420.9M134.0,418.5L134.0,420.9M143.1,418.5L143.1,420.9" stroke="#000" stroke-width="0.9" fill="none"/>
<line x1="113.50" y1="368.00" x2="125.20" y2="368.00" stroke="#ff0000" stroke-width="1.1"/>
<text x="128.90" y="370.28" font-size="6.1" textLength="21.36" lengthAdjust="spacingAndGlyphs">3437 nM</text>
<line x1="113.50" y1="373.90" x2="125.20" y2="373.90" stroke="#0000ff" stroke-width="1.1"/>
<text x="128.90" y="376.18" font-size="6.1" textLength="21.36" lengthAdjust="spacingAndGlyphs">1719 nM</text>
<line x1="113.50" y1="379.80" x2="125.20" y2="379.80" stroke="#000000" stroke-width="1.1"/>
<text x="128.90" y="382.08" font-size="6.1" textLength="18.31" lengthAdjust="spacingAndGlyphs">859 nM</text>
<polyline points="158.4,418.5 158.5,417.9 158.8,416.6 159.2,415.0 159.7,413.2 160.2,411.3 160.9,409.3 161.6,407.5 162.3,405.7 163.1,404.0 164.0,402.5 164.9,401.1 165.9,399.8 167.0,398.7 168.0,397.7 169.2,396.8 170.4,396.1 171.6,395.4 172.8,394.7 174.1,394.2 175.5,393.6 176.9,393.2 178.3,392.7 179.8,392.3 181.3,391.8 181.4,398.8 181.8,400.5 182.8,401.1 192.6,401.6 203.5,402.2" fill="none" stroke="#000000" stroke-width="1.15" stroke-linejoin="round"/>
<polyline points="158.4,418.5 158.5,417.8 158.8,416.5 159.2,414.8 159.7,413.0 160.2,411.0 160.9,409.0 161.6,407.0 162.3,405.2 163.1,403.4 164.0,401.8 164.9,400.4 165.9,399.1 167.0,397.9 168.0,396.9 169.2,396.0 170.4,395.1 171.6,394.4 172.8,393.8 174.1,393.2 175.5,392.6 176.9,392.1 178.3,391.7 179.8,391.2 181.3,390.8 181.4,396.5 181.8,397.9 182.8,398.4 192.6,398.9 203.5,399.5" fill="none" stroke="#0000ff" stroke-width="1.15" stroke-linejoin="round"/>
<polyline points="158.4,418.5 158.5,417.8 158.8,416.5 159.2,414.8 159.7,412.9 160.2,410.8 160.9,408.8 161.6,406.8 162.3,404.9 163.1,403.1 164.0,401.5 164.9,400.0 165.9,398.7 167.0,397.5 168.0,396.5 169.2,395.5 170.4,394.7 171.6,394.0 172.8,393.3 174.1,392.7 175.5,392.1 176.9,391.6 178.3,391.1 179.8,390.7 181.3,390.2 181.4,392.7 181.8,393.3 182.8,393.5 192.6,394.3 203.5,395.1" fill="none" stroke="#ff0000" stroke-width="1.15" stroke-linejoin="round"/>
<rect x="157.40" y="364.10" width="54.80" height="54.40" fill="none" stroke="#000" stroke-width="1.1"/>
<path d="M154.2,418.5L157.4,418.5M154.2,404.9L157.4,404.9M154.2,391.3L157.4,391.3M154.2,377.7L157.4,377.7M154.2,364.1L157.4,364.1M157.4,418.5L157.4,420.9M166.5,418.5L166.5,420.9M175.6,418.5L175.6,420.9M184.7,418.5L184.7,420.9M193.8,418.5L193.8,420.9M202.9,418.5L202.9,420.9" stroke="#000" stroke-width="0.9" fill="none"/>
<line x1="173.30" y1="368.00" x2="185.00" y2="368.00" stroke="#ff0000" stroke-width="1.1"/>
<text x="188.70" y="370.28" font-size="6.1" textLength="21.36" lengthAdjust="spacingAndGlyphs">1010 nM</text>
<line x1="173.30" y1="373.90" x2="185.00" y2="373.90" stroke="#0000ff" stroke-width="1.1"/>
<text x="188.70" y="376.18" font-size="6.1" textLength="18.31" lengthAdjust="spacingAndGlyphs">505 nM</text>
<line x1="173.30" y1="379.80" x2="185.00" y2="379.80" stroke="#000000" stroke-width="1.1"/>
<text x="188.70" y="382.08" font-size="6.1" textLength="18.31" lengthAdjust="spacingAndGlyphs">253 nM</text>
<polyline points="224.5,418.5 224.6,418.0 224.9,417.0 225.3,415.8 225.8,414.3 226.3,412.7 227.0,411.1 227.7,409.5 228.4,407.9 229.2,406.3 230.1,404.9 231.0,403.5 232.0,402.2 233.1,401.0 234.1,399.9 235.3,398.9 236.5,398.0 237.7,397.2 238.9,396.4 240.2,395.7 241.6,395.1 243.0,394.5 244.4,393.9 245.9,393.4 247.4,392.9 247.5,400.3 247.9,402.1 248.9,402.7 258.7,402.7 269.6,402.7" fill="none" stroke="#000000" stroke-width="1.15" stroke-linejoin="round"/>
<polyline points="224.5,418.5 224.6,418.0 224.9,417.0 225.3,415.7 225.8,414.1 226.3,412.5 227.0,410.8 227.7,409.1 228.4,407.4 229.2,405.8 230.1,404.3 231.0,402.8 232.0,401.5 233.1,400.3 234.1,399.1 235.3,398.1 236.5,397.1 237.7,396.3 238.9,395.5 240.2,394.7 241.6,394.1 243.0,393.5 244.4,392.9 245.9,392.4 247.4,391.8 247.5,399.6 247.9,401.6 248.9,402.2 258.7,402.2 269.6,402.2" fill="none" stroke="#0000ff" stroke-width="1.15" stroke-linejoin="round"/>
<polyline points="224.5,418.5 224.6,418.0 224.9,416.9 225.3,415.5 225.8,414.0 226.3,412.3 227.0,410.5 227.7,408.7 228.4,407.0 229.2,405.3 230.1,403.7 231.0,402.2 232.0,400.8 233.1,399.5 234.1,398.3 235.3,397.2 236.5,396.3 237.7,395.4 238.9,394.5 240.2,393.8 241.6,393.1 243.0,392.4 244.4,391.8 245.9,391.3 247.4,390.8 247.5,395.7 247.9,396.9 248.9,397.3 258.7,398.1 269.6,398.9" fill="none" stroke="#ff0000" stroke-width="1.15" stroke-linejoin="round"/>
<rect x="223.50" y="364.10" width="54.80" height="54.40" fill="none" stroke="#000" stroke-width="1.1"/>
<path d="M220.3,418.5L223.5,418.5M220.3,404.9L223.5,404.9M220.3,391.3L223.5,391.3M220.3,377.7L223.5,377.7M220.3,364.1L223.5,364.1M223.5,418.5L223.5,420.9M232.6,418.5L232.6,420.9M241.7,418.5L241.7,420.9M250.8,418.5L250.8,420.9M259.9,418.5L259.9,420.9M269.0,418.5L269.0,420.9" stroke="#000" stroke-width="0.9" fill="none"/>
<line x1="239.80" y1="368.00" x2="251.50" y2="368.00" stroke="#ff0000" stroke-width="1.1"/>
<text x="255.20" y="370.28" font-size="6.1" textLength="21.36" lengthAdjust="spacingAndGlyphs">3286 nM</text>
<line x1="239.80" y1="373.90" x2="251.50" y2="373.90" stroke="#0000ff" stroke-width="1.1"/>
<text x="255.20" y="376.18" font-size="6.1" textLength="21.36" lengthAdjust="spacingAndGlyphs">1643 nM</text>
<line x1="239.80" y1="379.80" x2="251.50" y2="379.80" stroke="#000000" stroke-width="1.1"/>
<text x="255.20" y="382.08" font-size="6.1" textLength="18.31" lengthAdjust="spacingAndGlyphs">814 nM</text>
<polyline points="283.9,418.5 284.0,417.8 284.3,416.6 284.7,414.9 285.2,413.1 285.7,411.3 286.4,409.4 287.1,407.6 287.8,405.9 288.6,404.4 289.5,403.0 290.4,401.8 291.4,400.7 292.5,399.7 293.5,398.9 294.7,398.2 295.9,397.5 297.1,397.0 298.3,396.4 299.6,396.0 301.0,395.5 302.4,395.1 303.8,394.8 305.3,394.4 306.8,394.0 306.9,400.5 307.3,402.2 308.3,402.7 318.1,402.5 329.0,402.2" fill="none" stroke="#000000" stroke-width="1.15" stroke-linejoin="round"/>
<polyline points="283.9,418.5 284.0,417.8 284.3,416.3 284.7,414.5 285.2,412.4 285.7,410.3 286.4,408.2 287.1,406.2 287.8,404.3 288.6,402.5 289.5,400.9 290.4,399.5 291.4,398.3 292.5,397.2 293.5,396.3 294.7,395.4 295.9,394.7 297.1,394.1 298.3,393.5 299.6,393.0 301.0,392.5 302.4,392.0 303.8,391.6 305.3,391.2 306.8,390.8 306.9,395.2 307.3,396.4 308.3,396.7 318.1,397.0 329.0,397.3" fill="none" stroke="#0000ff" stroke-width="1.15" stroke-linejoin="round"/>
<polyline points="283.9,418.5 284.0,417.7 284.3,416.1 284.7,414.1 285.2,411.8 285.7,409.5 286.4,407.2 287.1,404.9 287.8,402.9 288.6,400.9 289.5,399.2 290.4,397.7 291.4,396.3 292.5,395.1 293.5,394.1 294.7,393.2 295.9,392.4 297.1,391.7 298.3,391.0 299.6,390.5 301.0,389.9 302.4,389.4 303.8,389.0 305.3,388.5 306.8,388.0 306.9,392.5 307.3,393.7 308.3,394.0 318.1,394.0 329.0,394.0" fill="none" stroke="#ff0000" stroke-width="1.15" stroke-linejoin="round"/>
<rect x="282.90" y="364.10" width="54.80" height="54.40" fill="none" stroke="#000" stroke-width="1.1"/>
<path d="M279.7,418.5L282.9,418.5M279.7,404.9L282.9,404.9M279.7,391.3L282.9,391.3M279.7,377.7L282.9,377.7M279.7,364.1L282.9,364.1M282.9,418.5L282.9,420.9M292.0,418.5L292.0,420.9M301.1,418.5L301.1,420.9M310.2,418.5L310.2,420.9M319.3,418.5L319.3,420.9M328.4,418.5L328.4,420.9" stroke="#000" stroke-width="0.9" fill="none"/>
<line x1="299.20" y1="368.00" x2="310.90" y2="368.00" stroke="#ff0000" stroke-width="1.1"/>
<text x="314.60" y="370.28" font-size="6.1" textLength="21.36" lengthAdjust="spacingAndGlyphs">1825 nM</text>
<line x1="299.20" y1="373.90" x2="310.90" y2="373.90" stroke="#0000ff" stroke-width="1.1"/>
<text x="314.60" y="376.18" font-size="6.1" textLength="18.31" lengthAdjust="spacingAndGlyphs">912 nM</text>
<line x1="299.20" y1="379.80" x2="310.90" y2="379.80" stroke="#000000" stroke-width="1.1"/>
<text x="314.60" y="382.08" font-size="6.1" textLength="18.31" lengthAdjust="spacingAndGlyphs">456 nM</text>
<polyline points="343.5,418.5 343.6,417.8 343.9,416.5 344.3,414.7 344.8,412.8 345.3,410.7 346.0,408.7 346.7,406.6 347.4,404.7 348.2,402.8 349.1,401.1 350.0,399.6 351.0,398.2 352.1,396.9 353.1,395.8 354.3,394.8 355.5,393.9 356.7,393.1 357.9,392.4 359.2,391.8 360.6,391.2 362.0,390.6 363.4,390.1 364.9,389.6 366.4,389.1 366.5,396.7 366.9,398.6 367.9,399.2 377.7,398.9 388.6,398.6" fill="none" stroke="#000000" stroke-width="1.15" stroke-linejoin="round"/>
<polyline points="343.5,418.5 343.6,417.8 343.9,416.4 344.3,414.6 344.8,412.6 345.3,410.5 346.0,408.3 346.7,406.2 347.4,404.1 348.2,402.2 349.1,400.5 350.0,398.9 351.0,397.4 352.1,396.1 353.1,395.0 354.3,393.9 355.5,393.0 356.7,392.2 357.9,391.4 359.2,390.8 360.6,390.2 362.0,389.6 363.4,389.0 364.9,388.5 366.4,388.0 366.5,394.2 366.9,395.7 367.9,396.2 377.7,396.7 388.6,397.3" fill="none" stroke="#0000ff" stroke-width="1.15" stroke-linejoin="round"/>
<polyline points="343.5,418.5 343.6,417.8 343.9,416.5 344.3,414.9 344.8,413.0 345.3,411.0 346.0,409.0 346.7,407.1 347.4,405.2 348.2,403.4 349.1,401.8 350.0,400.3 351.0,398.9 352.1,397.7 353.1,396.7 354.3,395.7 355.5,394.8 356.7,394.1 357.9,393.4 359.2,392.8 360.6,392.2 362.0,391.7 363.4,391.1 364.9,390.7 366.4,390.2 366.5,392.5 366.9,393.0 367.9,393.2 377.7,393.6 388.6,394.0" fill="none" stroke="#ff0000" stroke-width="1.15" stroke-linejoin="round"/>
<rect x="342.50" y="364.10" width="54.80" height="54.40" fill="none" stroke="#000" stroke-width="1.1"/>
<path d="M339.3,418.5L342.5,418.5M339.3,404.9L342.5,404.9M339.3,391.3L342.5,391.3M339.3,377.7L342.5,377.7M339.3,364.1L342.5,364.1M342.5,418.5L342.5,420.9M351.6,418.5L351.6,420.9M360.7,418.5L360.7,420.9M369.8,418.5L369.8,420.9M378.9,418.5L378.9,420.9M388.0,418.5L388.0,420.9" stroke="#000" stroke-width="0.9" fill="none"/>
<line x1="361.70" y1="368.00" x2="373.40" y2="368.00" stroke="#ff0000" stroke-width="1.1"/>
<text x="377.10" y="370.28" font-size="6.1" textLength="18.31" lengthAdjust="spacingAndGlyphs">581 nM</text>
<line x1="361.70" y1="373.90" x2="373.40" y2="373.90" stroke="#0000ff" stroke-width="1.1"/>
<text x="377.10" y="376.18" font-size="6.1" textLength="18.31" lengthAdjust="spacingAndGlyphs">291 nM</text>
<line x1="361.70" y1="379.80" x2="373.40" y2="379.80" stroke="#000000" stroke-width="1.1"/>
<text x="377.10" y="382.08" font-size="6.1" textLength="18.31" lengthAdjust="spacingAndGlyphs">145 nM</text>
<text text-rendering="geometricPrecision" transform="translate(5.90,452.80) rotate(-90)" x="0" y="3.15" font-size="8.8" textLength="19.13" lengthAdjust="spacingAndGlyphs" text-anchor="middle">JRFL</text>
<text text-rendering="geometricPrecision" transform="translate(13.10,452.80) rotate(-90)" x="0" y="3.15" font-size="8.8" textLength="32.20" lengthAdjust="spacingAndGlyphs" text-anchor="middle">(clade B)</text>
<text text-rendering="geometricPrecision" transform="translate(23.50,452.60) rotate(-90)" x="0" y="2.43" font-size="6.8" textLength="38.20" lengthAdjust="spacingAndGlyphs" text-anchor="middle">Binding (nm)</text>
<text x="35.00" y="481.46" font-size="6.6" textLength="7.43" lengthAdjust="spacingAndGlyphs" text-anchor="end">0.0</text>
<text x="35.00" y="454.16" font-size="6.6" textLength="7.43" lengthAdjust="spacingAndGlyphs" text-anchor="end">0.5</text>
<text x="35.00" y="426.86" font-size="6.6" textLength="7.43" lengthAdjust="spacingAndGlyphs" text-anchor="end">1.0</text>
<polyline points="39.4,479.1 39.5,478.7 39.8,477.9 40.2,476.9 40.7,475.8 41.2,474.7 41.9,473.6 42.6,472.6 43.3,471.7 44.1,470.9 45.0,470.2 45.9,469.6 46.9,469.0 48.0,468.6 49.0,468.2 50.2,467.9 51.4,467.6 52.6,467.4 53.8,467.1 55.1,466.9 56.5,466.7 57.9,466.5 59.3,466.4 60.8,466.2 62.3,466.0 62.4,472.5 62.8,474.2 63.8,474.7 73.6,475.0 84.5,475.3" fill="none" stroke="#000000" stroke-width="1.15" stroke-linejoin="round"/>
<polyline points="39.4,479.1 39.5,478.7 39.8,477.8 40.2,476.8 40.7,475.6 41.2,474.5 41.9,473.4 42.6,472.3 43.3,471.4 44.1,470.5 45.0,469.8 45.9,469.2 46.9,468.6 48.0,468.2 49.0,467.8 50.2,467.4 51.4,467.1 52.6,466.9 53.8,466.6 55.1,466.4 56.5,466.2 57.9,466.0 59.3,465.8 60.8,465.6 62.3,465.5 62.4,472.0 62.8,473.7 63.8,474.2 73.6,474.7 84.5,475.3" fill="none" stroke="#0000ff" stroke-width="1.15" stroke-linejoin="round"/>
<polyline points="39.4,479.1 39.5,478.6 39.8,477.7 40.2,476.6 40.7,475.4 41.2,474.1 41.9,472.9 42.6,471.8 43.3,470.8 44.1,469.9 45.0,469.1 45.9,468.4 46.9,467.8 48.0,467.3 49.0,466.9 50.2,466.5 51.4,466.2 52.6,465.9 53.8,465.6 55.1,465.4 56.5,465.2 57.9,465.0 59.3,464.8 60.8,464.6 62.3,464.4 62.4,471.3 62.8,473.1 63.8,473.6 73.6,473.9 84.5,474.2" fill="none" stroke="#ff0000" stroke-width="1.15" stroke-linejoin="round"/>
<rect x="38.40" y="424.50" width="54.80" height="54.60" fill="none" stroke="#000" stroke-width="1.1"/>
<path d="M35.2,479.1L38.4,479.1M35.2,465.5L38.4,465.5M35.2,451.8L38.4,451.8M35.2,438.1L38.4,438.1M35.2,424.5L38.4,424.5M38.4,479.1L38.4,481.5M47.5,479.1L47.5,481.5M56.6,479.1L56.6,481.5M65.7,479.1L65.7,481.5M74.8,479.1L74.8,481.5M83.9,479.1L83.9,481.5" stroke="#000" stroke-width="0.9" fill="none"/>
<line x1="54.30" y1="428.40" x2="66.00" y2="428.40" stroke="#ff0000" stroke-width="1.1"/>
<text x="69.70" y="430.68" font-size="6.1" textLength="21.36" lengthAdjust="spacingAndGlyphs">1736 nM</text>
<line x1="54.30" y1="434.30" x2="66.00" y2="434.30" stroke="#0000ff" stroke-width="1.1"/>
<text x="69.70" y="436.58" font-size="6.1" textLength="18.31" lengthAdjust="spacingAndGlyphs">867 nM</text>
<line x1="54.30" y1="440.20" x2="66.00" y2="440.20" stroke="#000000" stroke-width="1.1"/>
<text x="69.70" y="442.48" font-size="6.1" textLength="18.31" lengthAdjust="spacingAndGlyphs">433 nM</text>
<polyline points="98.6,479.1 98.7,478.8 99.0,478.2 99.4,477.4 99.9,476.5 100.4,475.7 101.1,474.8 101.8,474.0 102.5,473.2 103.3,472.5 104.2,471.9 105.1,471.4 106.1,470.9 107.2,470.5 108.2,470.2 109.4,469.9 110.6,469.6 111.8,469.4 113.0,469.2 114.3,469.0 115.7,468.8 117.1,468.7 118.5,468.5 120.0,468.3 121.5,468.2 121.6,475.6 122.0,477.4 123.0,478.0 132.8,478.6 143.7,479.1" fill="none" stroke="#000000" stroke-width="1.15" stroke-linejoin="round"/>
<polyline points="98.6,479.1 98.7,478.7 99.0,478.1 99.4,477.2 99.9,476.3 100.4,475.3 101.1,474.4 101.8,473.5 102.5,472.6 103.3,471.9 104.2,471.2 105.1,470.6 106.1,470.1 107.2,469.7 108.2,469.3 109.4,469.0 110.6,468.7 111.8,468.4 113.0,468.2 114.3,468.0 115.7,467.8 117.1,467.6 118.5,467.4 120.0,467.3 121.5,467.1 121.6,474.7 122.0,476.6 123.0,477.2 132.8,477.9 143.7,478.6" fill="none" stroke="#0000ff" stroke-width="1.15" stroke-linejoin="round"/>
<polyline points="98.6,479.1 98.7,478.7 99.0,478.0 99.4,477.1 99.9,476.0 100.4,475.0 101.1,473.9 101.8,473.0 102.5,472.0 103.3,471.2 104.2,470.5 105.1,469.9 106.1,469.3 107.2,468.8 108.2,468.4 109.4,468.1 110.6,467.7 111.8,467.5 113.0,467.2 114.3,467.0 115.7,466.8 117.1,466.6 118.5,466.4 120.0,466.2 121.5,466.0 121.6,471.7 122.0,473.2 123.0,473.6 132.8,473.6 143.7,473.6" fill="none" stroke="#ff0000" stroke-width="1.15" stroke-linejoin="round"/>
<rect x="97.60" y="424.50" width="54.80" height="54.60" fill="none" stroke="#000" stroke-width="1.1"/>
<path d="M94.4,479.1L97.6,479.1M94.4,465.5L97.6,465.5M94.4,451.8L97.6,451.8M94.4,438.1L97.6,438.1M94.4,424.5L97.6,424.5M97.6,479.1L97.6,481.5M106.7,479.1L106.7,481.5M115.8,479.1L115.8,481.5M124.9,479.1L124.9,481.5M134.0,479.1L134.0,481.5M143.1,479.1L143.1,481.5" stroke="#000" stroke-width="0.9" fill="none"/>
<line x1="113.50" y1="428.40" x2="125.20" y2="428.40" stroke="#ff0000" stroke-width="1.1"/>
<text x="128.90" y="430.68" font-size="6.1" textLength="21.36" lengthAdjust="spacingAndGlyphs">3437 nM</text>
<line x1="113.50" y1="434.30" x2="125.20" y2="434.30" stroke="#0000ff" stroke-width="1.1"/>
<text x="128.90" y="436.58" font-size="6.1" textLength="21.36" lengthAdjust="spacingAndGlyphs">1719 nM</text>
<line x1="113.50" y1="440.20" x2="125.20" y2="440.20" stroke="#000000" stroke-width="1.1"/>
<text x="128.90" y="442.48" font-size="6.1" textLength="18.31" lengthAdjust="spacingAndGlyphs">859 nM</text>
<polyline points="158.4,479.1 158.5,478.7 158.8,478.0 159.2,477.0 159.7,475.9 160.2,474.8 160.9,473.7 161.6,472.5 162.3,471.5 163.1,470.5 164.0,469.6 164.9,468.8 165.9,468.0 167.0,467.3 168.0,466.8 169.2,466.2 170.4,465.8 171.6,465.4 172.8,465.0 174.1,464.6 175.5,464.3 176.9,464.1 178.3,463.8 179.8,463.5 181.3,463.3 181.4,470.2 181.8,472.0 182.8,472.5 192.6,472.5 203.5,472.5" fill="none" stroke="#000000" stroke-width="1.15" stroke-linejoin="round"/>
<polyline points="158.4,479.1 158.5,478.7 158.8,477.8 159.2,476.7 159.7,475.5 160.2,474.2 160.9,472.9 161.6,471.6 162.3,470.4 163.1,469.3 164.0,468.3 164.9,467.3 165.9,466.5 167.0,465.7 168.0,465.1 169.2,464.5 170.4,463.9 171.6,463.5 172.8,463.0 174.1,462.7 175.5,462.3 176.9,462.0 178.3,461.7 179.8,461.4 181.3,461.1 181.4,467.2 181.8,468.8 182.8,469.3 192.6,469.5 203.5,469.8" fill="none" stroke="#0000ff" stroke-width="1.15" stroke-linejoin="round"/>
<polyline points="158.4,479.1 158.5,478.6 158.8,477.7 159.2,476.6 159.7,475.3 160.2,473.9 160.9,472.5 161.6,471.2 162.3,469.9 163.1,468.7 164.0,467.6 164.9,466.6 165.9,465.7 167.0,464.9 168.0,464.2 169.2,463.6 170.4,463.0 171.6,462.5 172.8,462.1 174.1,461.7 175.5,461.3 176.9,460.9 178.3,460.6 179.8,460.3 181.3,460.0 181.4,464.5 181.8,465.6 182.8,466.0 192.6,466.3 203.5,466.5" fill="none" stroke="#ff0000" stroke-width="1.15" stroke-linejoin="round"/>
<rect x="157.40" y="424.50" width="54.80" height="54.60" fill="none" stroke="#000" stroke-width="1.1"/>
<path d="M154.2,479.1L157.4,479.1M154.2,465.5L157.4,465.5M154.2,451.8L157.4,451.8M154.2,438.1L157.4,438.1M154.2,424.5L157.4,424.5M157.4,479.1L157.4,481.5M166.5,479.1L166.5,481.5M175.6,479.1L175.6,481.5M184.7,479.1L184.7,481.5M193.8,479.1L193.8,481.5M202.9,479.1L202.9,481.5" stroke="#000" stroke-width="0.9" fill="none"/>
<line x1="173.30" y1="428.40" x2="185.00" y2="428.40" stroke="#ff0000" stroke-width="1.1"/>
<text x="188.70" y="430.68" font-size="6.1" textLength="21.36" lengthAdjust="spacingAndGlyphs">1010 nM</text>
<line x1="173.30" y1="434.30" x2="185.00" y2="434.30" stroke="#0000ff" stroke-width="1.1"/>
<text x="188.70" y="436.58" font-size="6.1" textLength="18.31" lengthAdjust="spacingAndGlyphs">505 nM</text>
<line x1="173.30" y1="440.20" x2="185.00" y2="440.20" stroke="#000000" stroke-width="1.1"/>
<text x="188.70" y="442.48" font-size="6.1" textLength="18.31" lengthAdjust="spacingAndGlyphs">253 nM</text>
<polyline points="224.5,479.1 224.6,478.8 224.9,478.1 225.3,477.3 225.8,476.3 226.3,475.3 227.0,474.2 227.7,473.1 228.4,472.1 229.2,471.1 230.1,470.1 231.0,469.2 232.0,468.3 233.1,467.5 234.1,466.8 235.3,466.1 236.5,465.5 237.7,465.0 238.9,464.5 240.2,464.0 241.6,463.6 243.0,463.2 244.4,462.8 245.9,462.5 247.4,462.2 247.5,469.1 247.9,470.9 248.9,471.5 258.7,471.5 269.6,471.5" fill="none" stroke="#000000" stroke-width="1.15" stroke-linejoin="round"/>
<polyline points="224.5,479.1 224.6,478.7 224.9,478.0 225.3,477.1 225.8,476.0 226.3,474.8 227.0,473.6 227.7,472.4 228.4,471.2 229.2,470.0 230.1,468.9 231.0,467.9 232.0,466.9 233.1,466.0 234.1,465.2 235.3,464.5 236.5,463.8 237.7,463.2 238.9,462.6 240.2,462.1 241.6,461.6 243.0,461.2 244.4,460.7 245.9,460.4 247.4,460.0 247.5,467.4 247.9,469.2 248.9,469.8 258.7,469.8 269.6,469.8" fill="none" stroke="#0000ff" stroke-width="1.15" stroke-linejoin="round"/>
<polyline points="224.5,479.1 224.6,478.7 224.9,478.0 225.3,477.0 225.8,475.9 226.3,474.7 227.0,473.4 227.7,472.2 228.4,470.9 229.2,469.8 230.1,468.6 231.0,467.6 232.0,466.6 233.1,465.7 234.1,464.8 235.3,464.0 236.5,463.3 237.7,462.7 238.9,462.1 240.2,461.6 241.6,461.1 243.0,460.6 244.4,460.2 245.9,459.8 247.4,459.4 247.5,466.0 247.9,467.7 248.9,468.2 258.7,468.7 269.6,469.3" fill="none" stroke="#ff0000" stroke-width="1.15" stroke-linejoin="round"/>
<rect x="223.50" y="424.50" width="54.80" height="54.60" fill="none" stroke="#000" stroke-width="1.1"/>
<path d="M220.3,479.1L223.5,479.1M220.3,465.5L223.5,465.5M220.3,451.8L223.5,451.8M220.3,438.1L223.5,438.1M220.3,424.5L223.5,424.5M223.5,479.1L223.5,481.5M232.6,479.1L232.6,481.5M241.7,479.1L241.7,481.5M250.8,479.1L250.8,481.5M259.9,479.1L259.9,481.5M269.0,479.1L269.0,481.5" stroke="#000" stroke-width="0.9" fill="none"/>
<line x1="239.80" y1="428.40" x2="251.50" y2="428.40" stroke="#ff0000" stroke-width="1.1"/>
<text x="255.20" y="430.68" font-size="6.1" textLength="21.36" lengthAdjust="spacingAndGlyphs">3286 nM</text>
<line x1="239.80" y1="434.30" x2="251.50" y2="434.30" stroke="#0000ff" stroke-width="1.1"/>
<text x="255.20" y="436.58" font-size="6.1" textLength="21.36" lengthAdjust="spacingAndGlyphs">1643 nM</text>
<line x1="239.80" y1="440.20" x2="251.50" y2="440.20" stroke="#000000" stroke-width="1.1"/>
<text x="255.20" y="442.48" font-size="6.1" textLength="18.31" lengthAdjust="spacingAndGlyphs">814 nM</text>
<polyline points="283.9,479.1 284.0,478.7 284.3,478.0 284.7,477.0 285.2,476.0 285.7,474.9 286.4,473.8 287.1,472.8 287.8,471.8 288.6,470.9 289.5,470.1 290.4,469.4 291.4,468.8 292.5,468.2 293.5,467.7 294.7,467.3 295.9,466.9 297.1,466.6 298.3,466.3 299.6,466.0 301.0,465.8 302.4,465.6 303.8,465.3 305.3,465.1 306.8,464.9 306.9,469.0 307.3,470.0 308.3,470.4 318.1,470.4 329.0,470.4" fill="none" stroke="#000000" stroke-width="1.15" stroke-linejoin="round"/>
<polyline points="283.9,479.1 284.0,478.7 284.3,477.8 284.7,476.8 285.2,475.6 285.7,474.4 286.4,473.2 287.1,472.1 287.8,471.0 288.6,470.0 289.5,469.1 290.4,468.3 291.4,467.6 292.5,467.0 293.5,466.4 294.7,465.9 295.9,465.5 297.1,465.2 298.3,464.8 299.6,464.5 301.0,464.3 302.4,464.0 303.8,463.7 305.3,463.5 306.8,463.3 306.9,466.5 307.3,467.4 308.3,467.6 318.1,467.6 329.0,467.6" fill="none" stroke="#0000ff" stroke-width="1.15" stroke-linejoin="round"/>
<polyline points="283.9,479.1 284.0,478.6 284.3,477.7 284.7,476.5 285.2,475.2 285.7,473.8 286.4,472.4 287.1,471.1 287.8,469.8 288.6,468.7 289.5,467.7 290.4,466.8 291.4,466.0 292.5,465.3 293.5,464.7 294.7,464.1 295.9,463.7 297.1,463.2 298.3,462.9 299.6,462.5 301.0,462.2 302.4,461.9 303.8,461.6 305.3,461.4 306.8,461.1 306.9,465.2 307.3,466.2 308.3,466.5 318.1,466.8 329.0,467.1" fill="none" stroke="#ff0000" stroke-width="1.15" stroke-linejoin="round"/>
<rect x="282.90" y="424.50" width="54.80" height="54.60" fill="none" stroke="#000" stroke-width="1.1"/>
<path d="M279.7,479.1L282.9,479.1M279.7,465.5L282.9,465.5M279.7,451.8L282.9,451.8M279.7,438.1L282.9,438.1M279.7,424.5L282.9,424.5M282.9,479.1L282.9,481.5M292.0,479.1L292.0,481.5M301.1,479.1L301.1,481.5M310.2,479.1L310.2,481.5M319.3,479.1L319.3,481.5M328.4,479.1L328.4,481.5" stroke="#000" stroke-width="0.9" fill="none"/>
<line x1="299.20" y1="428.40" x2="310.90" y2="428.40" stroke="#ff0000" stroke-width="1.1"/>
<text x="314.60" y="430.68" font-size="6.1" textLength="21.36" lengthAdjust="spacingAndGlyphs">1825 nM</text>
<line x1="299.20" y1="434.30" x2="310.90" y2="434.30" stroke="#0000ff" stroke-width="1.1"/>
<text x="314.60" y="436.58" font-size="6.1" textLength="18.31" lengthAdjust="spacingAndGlyphs">912 nM</text>
<line x1="299.20" y1="440.20" x2="310.90" y2="440.20" stroke="#000000" stroke-width="1.1"/>
<text x="314.60" y="442.48" font-size="6.1" textLength="18.31" lengthAdjust="spacingAndGlyphs">456 nM</text>
<polyline points="343.5,479.1 343.6,478.7 343.9,477.8 344.3,476.7 344.8,475.5 345.3,474.2 346.0,472.9 346.7,471.6 347.4,470.4 348.2,469.2 349.1,468.1 350.0,467.1 351.0,466.3 352.1,465.5 353.1,464.8 354.3,464.1 355.5,463.6 356.7,463.1 357.9,462.6 359.2,462.2 360.6,461.8 362.0,461.5 363.4,461.2 364.9,460.8 366.4,460.5 366.5,466.7 366.9,468.2 367.9,468.7 377.7,468.6 388.6,468.5" fill="none" stroke="#000000" stroke-width="1.15" stroke-linejoin="round"/>
<polyline points="343.5,479.1 343.6,478.7 343.9,477.8 344.3,476.7 344.8,475.4 345.3,474.1 346.0,472.7 346.7,471.4 347.4,470.1 348.2,468.9 349.1,467.8 350.0,466.8 351.0,465.9 352.1,465.1 353.1,464.3 354.3,463.7 355.5,463.1 356.7,462.6 357.9,462.1 359.2,461.7 360.6,461.3 362.0,461.0 363.4,460.6 364.9,460.3 366.4,460.0 366.5,465.5 366.9,466.9 367.9,467.4 377.7,467.5 388.6,467.6" fill="none" stroke="#0000ff" stroke-width="1.15" stroke-linejoin="round"/>
<polyline points="343.5,479.1 343.6,478.6 343.9,477.7 344.3,476.6 344.8,475.3 345.3,473.9 346.0,472.5 346.7,471.1 347.4,469.8 348.2,468.6 349.1,467.5 350.0,466.4 351.0,465.5 352.1,464.7 353.1,463.9 354.3,463.3 355.5,462.7 356.7,462.1 357.9,461.6 359.2,461.2 360.6,460.8 362.0,460.4 363.4,460.1 364.9,459.8 366.4,459.4 366.5,464.8 366.9,466.1 367.9,466.5 377.7,466.8 388.6,467.1" fill="none" stroke="#ff0000" stroke-width="1.15" stroke-linejoin="round"/>
<rect x="342.50" y="424.50" width="54.80" height="54.60" fill="none" stroke="#000" stroke-width="1.1"/>
<path d="M339.3,479.1L342.5,479.1M339.3,465.5L342.5,465.5M339.3,451.8L342.5,451.8M339.3,438.1L342.5,438.1M339.3,424.5L342.5,424.5M342.5,479.1L342.5,481.5M351.6,479.1L351.6,481.5M360.7,479.1L360.7,481.5M369.8,479.1L369.8,481.5M378.9,479.1L378.9,481.5M388.0,479.1L388.0,481.5" stroke="#000" stroke-width="0.9" fill="none"/>
<line x1="361.70" y1="428.40" x2="373.40" y2="428.40" stroke="#ff0000" stroke-width="1.1"/>
<text x="377.10" y="430.68" font-size="6.1" textLength="18.31" lengthAdjust="spacingAndGlyphs">581 nM</text>
<line x1="361.70" y1="434.30" x2="373.40" y2="434.30" stroke="#0000ff" stroke-width="1.1"/>
<text x="377.10" y="436.58" font-size="6.1" textLength="18.31" lengthAdjust="spacingAndGlyphs">291 nM</text>
<line x1="361.70" y1="440.20" x2="373.40" y2="440.20" stroke="#000000" stroke-width="1.1"/>
<text x="377.10" y="442.48" font-size="6.1" textLength="18.31" lengthAdjust="spacingAndGlyphs">145 nM</text>
<text text-rendering="geometricPrecision" transform="translate(5.90,513.05) rotate(-90)" x="0" y="3.15" font-size="8.8" textLength="23.60" lengthAdjust="spacingAndGlyphs" text-anchor="middle">C1086</text>
<text text-rendering="geometricPrecision" transform="translate(13.10,513.05) rotate(-90)" x="0" y="3.15" font-size="8.8" textLength="32.20" lengthAdjust="spacingAndGlyphs" text-anchor="middle">(clade C)</text>
<text text-rendering="geometricPrecision" transform="translate(23.50,512.85) rotate(-90)" x="0" y="2.43" font-size="6.8" textLength="38.20" lengthAdjust="spacingAndGlyphs" text-anchor="middle">Binding (nm)</text>
<text x="35.00" y="541.86" font-size="6.6" textLength="7.43" lengthAdjust="spacingAndGlyphs" text-anchor="end">0.0</text>
<text x="35.00" y="514.41" font-size="6.6" textLength="7.43" lengthAdjust="spacingAndGlyphs" text-anchor="end">0.5</text>
<text x="35.00" y="486.96" font-size="6.6" textLength="7.43" lengthAdjust="spacingAndGlyphs" text-anchor="end">1.0</text>
<polyline points="39.4,539.5 39.5,538.9 39.8,537.8 40.2,536.3 40.7,534.8 41.2,533.2 41.9,531.7 42.6,530.2 43.3,528.9 44.1,527.8 45.0,526.8 45.9,525.9 46.9,525.2 48.0,524.5 49.0,524.0 50.2,523.5 51.4,523.1 52.6,522.8 53.8,522.5 55.1,522.2 56.5,521.9 57.9,521.6 59.3,521.4 60.8,521.1 62.3,520.8 62.4,527.6 62.8,529.3 63.8,529.9 73.6,529.8 84.5,529.6" fill="none" stroke="#000000" stroke-width="1.15" stroke-linejoin="round"/>
<polyline points="39.4,539.5 39.5,538.9 39.8,537.7 40.2,536.2 40.7,534.5 41.2,532.8 41.9,531.2 42.6,529.7 43.3,528.3 44.1,527.1 45.0,526.0 45.9,525.1 46.9,524.3 48.0,523.7 49.0,523.1 50.2,522.6 51.4,522.2 52.6,521.8 53.8,521.5 55.1,521.1 56.5,520.9 57.9,520.6 59.3,520.3 60.8,520.0 62.3,519.7 62.4,524.7 62.8,525.9 63.8,526.3 73.6,526.6 84.5,526.9" fill="none" stroke="#0000ff" stroke-width="1.15" stroke-linejoin="round"/>
<polyline points="39.4,539.5 39.5,538.9 39.8,537.6 40.2,536.1 40.7,534.4 41.2,532.6 41.9,531.0 42.6,529.4 43.3,528.0 44.1,526.8 45.0,525.7 45.9,524.7 46.9,523.9 48.0,523.2 49.0,522.6 50.2,522.1 51.4,521.7 52.6,521.3 53.8,521.0 55.1,520.6 56.5,520.3 57.9,520.0 59.3,519.8 60.8,519.5 62.3,519.2 62.4,524.1 62.8,525.4 63.8,525.8 73.6,526.0 84.5,526.3" fill="none" stroke="#ff0000" stroke-width="1.15" stroke-linejoin="round"/>
<rect x="38.40" y="484.60" width="54.80" height="54.90" fill="none" stroke="#000" stroke-width="1.1"/>
<path d="M35.2,539.5L38.4,539.5M35.2,525.8L38.4,525.8M35.2,512.0L38.4,512.0M35.2,498.3L38.4,498.3M35.2,484.6L38.4,484.6M38.4,539.5L38.4,541.9M47.5,539.5L47.5,541.9M56.6,539.5L56.6,541.9M65.7,539.5L65.7,541.9M74.8,539.5L74.8,541.9M83.9,539.5L83.9,541.9" stroke="#000" stroke-width="0.9" fill="none"/>
<line x1="54.30" y1="488.50" x2="66.00" y2="488.50" stroke="#ff0000" stroke-width="1.1"/>
<text x="69.70" y="490.78" font-size="6.1" textLength="21.36" lengthAdjust="spacingAndGlyphs">1736 nM</text>
<line x1="54.30" y1="494.40" x2="66.00" y2="494.40" stroke="#0000ff" stroke-width="1.1"/>
<text x="69.70" y="496.68" font-size="6.1" textLength="18.31" lengthAdjust="spacingAndGlyphs">867 nM</text>
<line x1="54.30" y1="500.30" x2="66.00" y2="500.30" stroke="#000000" stroke-width="1.1"/>
<text x="69.70" y="502.58" font-size="6.1" textLength="18.31" lengthAdjust="spacingAndGlyphs">433 nM</text>
<polyline points="98.6,539.5 98.7,538.9 99.0,537.8 99.4,536.4 99.9,534.9 100.4,533.3 101.1,531.7 101.8,530.2 102.5,528.9 103.3,527.6 104.2,526.5 105.1,525.6 106.1,524.7 107.2,524.0 108.2,523.4 109.4,522.8 110.6,522.4 111.8,521.9 113.0,521.6 114.3,521.2 115.7,520.9 117.1,520.6 118.5,520.3 120.0,520.0 121.5,519.7 121.6,528.0 122.0,530.1 123.0,530.7 132.8,530.4 143.7,530.2" fill="none" stroke="#000000" stroke-width="1.15" stroke-linejoin="round"/>
<polyline points="98.6,539.5 98.7,538.9 99.0,537.7 99.4,536.2 99.9,534.6 100.4,532.9 101.1,531.3 101.8,529.7 102.5,528.3 103.3,527.0 104.2,525.8 105.1,524.8 106.1,523.9 107.2,523.1 108.2,522.5 109.4,521.9 110.6,521.4 111.8,521.0 113.0,520.6 114.3,520.2 115.7,519.9 117.1,519.6 118.5,519.2 120.0,518.9 121.5,518.6 121.6,525.6 122.0,527.4 123.0,528.0 132.8,527.7 143.7,527.4" fill="none" stroke="#0000ff" stroke-width="1.15" stroke-linejoin="round"/>
<polyline points="98.6,539.5 98.7,538.8 99.0,537.5 99.4,535.9 99.9,534.1 100.4,532.2 101.1,530.4 101.8,528.7 102.5,527.1 103.3,525.7 104.2,524.4 105.1,523.2 106.1,522.3 107.2,521.4 108.2,520.7 109.4,520.1 110.6,519.5 111.8,519.0 113.0,518.6 114.3,518.2 115.7,517.8 117.1,517.5 118.5,517.1 120.0,516.8 121.5,516.4 121.6,522.2 122.0,523.7 123.0,524.1 132.8,524.4 143.7,524.7" fill="none" stroke="#ff0000" stroke-width="1.15" stroke-linejoin="round"/>
<rect x="97.60" y="484.60" width="54.80" height="54.90" fill="none" stroke="#000" stroke-width="1.1"/>
<path d="M94.4,539.5L97.6,539.5M94.4,525.8L97.6,525.8M94.4,512.0L97.6,512.0M94.4,498.3L97.6,498.3M94.4,484.6L97.6,484.6M97.6,539.5L97.6,541.9M106.7,539.5L106.7,541.9M115.8,539.5L115.8,541.9M124.9,539.5L124.9,541.9M134.0,539.5L134.0,541.9M143.1,539.5L143.1,541.9" stroke="#000" stroke-width="0.9" fill="none"/>
<line x1="113.50" y1="488.50" x2="125.20" y2="488.50" stroke="#ff0000" stroke-width="1.1"/>
<text x="128.90" y="490.78" font-size="6.1" textLength="21.36" lengthAdjust="spacingAndGlyphs">3437 nM</text>
<line x1="113.50" y1="494.40" x2="125.20" y2="494.40" stroke="#0000ff" stroke-width="1.1"/>
<text x="128.90" y="496.68" font-size="6.1" textLength="21.36" lengthAdjust="spacingAndGlyphs">1719 nM</text>
<line x1="113.50" y1="500.30" x2="125.20" y2="500.30" stroke="#000000" stroke-width="1.1"/>
<text x="128.90" y="502.58" font-size="6.1" textLength="18.31" lengthAdjust="spacingAndGlyphs">859 nM</text>
<polyline points="158.4,539.5 158.5,538.9 158.8,537.7 159.2,536.1 159.7,534.3 160.2,532.5 160.9,530.6 161.6,528.8 162.3,527.1 163.1,525.5 164.0,524.0 164.9,522.6 165.9,521.4 167.0,520.3 168.0,519.4 169.2,518.5 170.4,517.8 171.6,517.1 172.8,516.5 174.1,516.0 175.5,515.4 176.9,515.0 178.3,514.5 179.8,514.1 181.3,513.7 181.4,521.9 181.8,524.0 182.8,524.7 192.6,524.4 203.5,524.1" fill="none" stroke="#000000" stroke-width="1.15" stroke-linejoin="round"/>
<polyline points="158.4,539.5 158.5,538.8 158.8,537.5 159.2,535.8 159.7,533.9 160.2,531.9 160.9,529.9 161.6,527.9 162.3,526.0 163.1,524.3 164.0,522.7 164.9,521.2 165.9,519.9 167.0,518.7 168.0,517.7 169.2,516.8 170.4,515.9 171.6,515.2 172.8,514.5 174.1,513.9 175.5,513.4 176.9,512.9 178.3,512.4 179.8,511.9 181.3,511.5 181.4,518.5 181.8,520.3 182.8,520.8 192.6,520.6 203.5,520.3" fill="none" stroke="#0000ff" stroke-width="1.15" stroke-linejoin="round"/>
<polyline points="158.4,539.5 158.5,538.8 158.8,537.5 159.2,535.7 159.7,533.8 160.2,531.8 160.9,529.7 161.6,527.7 162.3,525.8 163.1,524.0 164.0,522.3 164.9,520.8 165.9,519.5 167.0,518.3 168.0,517.2 169.2,516.3 170.4,515.5 171.6,514.7 172.8,514.1 174.1,513.4 175.5,512.9 176.9,512.4 178.3,511.9 179.8,511.4 181.3,511.0 181.4,515.1 181.8,516.1 182.8,516.4 192.6,516.4 203.5,516.4" fill="none" stroke="#ff0000" stroke-width="1.15" stroke-linejoin="round"/>
<rect x="157.40" y="484.60" width="54.80" height="54.90" fill="none" stroke="#000" stroke-width="1.1"/>
<path d="M154.2,539.5L157.4,539.5M154.2,525.8L157.4,525.8M154.2,512.0L157.4,512.0M154.2,498.3L157.4,498.3M154.2,484.6L157.4,484.6M157.4,539.5L157.4,541.9M166.5,539.5L166.5,541.9M175.6,539.5L175.6,541.9M184.7,539.5L184.7,541.9M193.8,539.5L193.8,541.9M202.9,539.5L202.9,541.9" stroke="#000" stroke-width="0.9" fill="none"/>
<line x1="173.30" y1="488.50" x2="185.00" y2="488.50" stroke="#ff0000" stroke-width="1.1"/>
<text x="188.70" y="490.78" font-size="6.1" textLength="21.36" lengthAdjust="spacingAndGlyphs">1010 nM</text>
<line x1="173.30" y1="494.40" x2="185.00" y2="494.40" stroke="#0000ff" stroke-width="1.1"/>
<text x="188.70" y="496.68" font-size="6.1" textLength="18.31" lengthAdjust="spacingAndGlyphs">505 nM</text>
<line x1="173.30" y1="500.30" x2="185.00" y2="500.30" stroke="#000000" stroke-width="1.1"/>
<text x="188.70" y="502.58" font-size="6.1" textLength="18.31" lengthAdjust="spacingAndGlyphs">253 nM</text>
<polyline points="224.5,539.5 224.6,538.9 224.9,537.8 225.3,536.3 225.8,534.6 226.3,532.8 227.0,531.0 227.7,529.1 228.4,527.2 229.2,525.4 230.1,523.7 231.0,522.1 232.0,520.6 233.1,519.2 234.1,517.9 235.3,516.8 236.5,515.7 237.7,514.8 238.9,513.9 240.2,513.1 241.6,512.3 243.0,511.7 244.4,511.0 245.9,510.4 247.4,509.9 247.5,517.7 247.9,519.7 248.9,520.3 258.7,520.3 269.6,520.3" fill="none" stroke="#000000" stroke-width="1.15" stroke-linejoin="round"/>
<polyline points="224.5,539.5 224.6,538.9 224.9,537.7 225.3,536.2 225.8,534.4 226.3,532.5 227.0,530.5 227.7,528.5 228.4,526.5 229.2,524.6 230.1,522.8 231.0,521.1 232.0,519.5 233.1,518.1 234.1,516.8 235.3,515.5 236.5,514.4 237.7,513.4 238.9,512.5 240.2,511.6 241.6,510.8 243.0,510.1 244.4,509.4 245.9,508.8 247.4,508.2 247.5,514.6 247.9,516.2 248.9,516.7 258.7,516.9 269.6,517.0" fill="none" stroke="#0000ff" stroke-width="1.15" stroke-linejoin="round"/>
<polyline points="224.5,539.5 224.6,538.9 224.9,537.7 225.3,536.1 225.8,534.3 226.3,532.3 227.0,530.3 227.7,528.3 228.4,526.3 229.2,524.4 230.1,522.5 231.0,520.8 232.0,519.2 233.1,517.7 234.1,516.4 235.3,515.1 236.5,514.0 237.7,512.9 238.9,512.0 240.2,511.1 241.6,510.3 243.0,509.6 244.4,508.9 245.9,508.3 247.4,507.7 247.5,513.8 247.9,515.4 248.9,515.9 258.7,516.2 269.6,516.4" fill="none" stroke="#ff0000" stroke-width="1.15" stroke-linejoin="round"/>
<rect x="223.50" y="484.60" width="54.80" height="54.90" fill="none" stroke="#000" stroke-width="1.1"/>
<path d="M220.3,539.5L223.5,539.5M220.3,525.8L223.5,525.8M220.3,512.0L223.5,512.0M220.3,498.3L223.5,498.3M220.3,484.6L223.5,484.6M223.5,539.5L223.5,541.9M232.6,539.5L232.6,541.9M241.7,539.5L241.7,541.9M250.8,539.5L250.8,541.9M259.9,539.5L259.9,541.9M269.0,539.5L269.0,541.9" stroke="#000" stroke-width="0.9" fill="none"/>
<line x1="239.80" y1="488.50" x2="251.50" y2="488.50" stroke="#ff0000" stroke-width="1.1"/>
<text x="255.20" y="490.78" font-size="6.1" textLength="21.36" lengthAdjust="spacingAndGlyphs">3286 nM</text>
<line x1="239.80" y1="494.40" x2="251.50" y2="494.40" stroke="#0000ff" stroke-width="1.1"/>
<text x="255.20" y="496.68" font-size="6.1" textLength="21.36" lengthAdjust="spacingAndGlyphs">1643 nM</text>
<line x1="239.80" y1="500.30" x2="251.50" y2="500.30" stroke="#000000" stroke-width="1.1"/>
<text x="255.20" y="502.58" font-size="6.1" textLength="18.31" lengthAdjust="spacingAndGlyphs">814 nM</text>
<polyline points="283.9,539.5 284.0,538.7 284.3,537.2 284.7,535.4 285.2,533.2 285.7,531.1 286.4,528.9 287.1,526.8 287.8,524.8 288.6,523.0 289.5,521.4 290.4,520.0 291.4,518.7 292.5,517.6 293.5,516.6 294.7,515.8 295.9,515.0 297.1,514.4 298.3,513.8 299.6,513.2 301.0,512.7 302.4,512.3 303.8,511.8 305.3,511.4 306.8,511.0 306.9,515.5 307.3,516.6 308.3,517.0 318.1,516.7 329.0,516.4" fill="none" stroke="#000000" stroke-width="1.15" stroke-linejoin="round"/>
<polyline points="283.9,539.5 284.0,538.6 284.3,537.0 284.7,534.9 285.2,532.5 285.7,530.1 286.4,527.7 287.1,525.3 287.8,523.2 288.6,521.2 289.5,519.3 290.4,517.7 291.4,516.3 292.5,515.1 293.5,514.0 294.7,513.0 295.9,512.2 297.1,511.5 298.3,510.8 299.6,510.2 301.0,509.6 302.4,509.1 303.8,508.6 305.3,508.1 306.8,507.7 306.9,511.4 307.3,512.3 308.3,512.6 318.1,512.6 329.0,512.6" fill="none" stroke="#0000ff" stroke-width="1.15" stroke-linejoin="round"/>
<polyline points="283.9,539.5 284.0,538.6 284.3,536.8 284.7,534.6 285.2,532.0 285.7,529.4 286.4,526.8 287.1,524.4 287.8,522.0 288.6,519.9 289.5,518.0 290.4,516.2 291.4,514.7 292.5,513.4 293.5,512.2 294.7,511.2 295.9,510.3 297.1,509.5 298.3,508.8 299.6,508.2 301.0,507.6 302.4,507.0 303.8,506.5 305.3,506.0 306.8,505.5 306.9,508.3 307.3,509.1 308.3,509.3 318.1,509.6 329.0,509.9" fill="none" stroke="#ff0000" stroke-width="1.15" stroke-linejoin="round"/>
<rect x="282.90" y="484.60" width="54.80" height="54.90" fill="none" stroke="#000" stroke-width="1.1"/>
<path d="M279.7,539.5L282.9,539.5M279.7,525.8L282.9,525.8M279.7,512.0L282.9,512.0M279.7,498.3L282.9,498.3M279.7,484.6L282.9,484.6M282.9,539.5L282.9,541.9M292.0,539.5L292.0,541.9M301.1,539.5L301.1,541.9M310.2,539.5L310.2,541.9M319.3,539.5L319.3,541.9M328.4,539.5L328.4,541.9" stroke="#000" stroke-width="0.9" fill="none"/>
<line x1="299.20" y1="488.50" x2="310.90" y2="488.50" stroke="#ff0000" stroke-width="1.1"/>
<text x="314.60" y="490.78" font-size="6.1" textLength="21.36" lengthAdjust="spacingAndGlyphs">1825 nM</text>
<line x1="299.20" y1="494.40" x2="310.90" y2="494.40" stroke="#0000ff" stroke-width="1.1"/>
<text x="314.60" y="496.68" font-size="6.1" textLength="18.31" lengthAdjust="spacingAndGlyphs">912 nM</text>
<line x1="299.20" y1="500.30" x2="310.90" y2="500.30" stroke="#000000" stroke-width="1.1"/>
<text x="314.60" y="502.58" font-size="6.1" textLength="18.31" lengthAdjust="spacingAndGlyphs">456 nM</text>
<polyline points="343.5,539.5 343.6,538.8 343.9,537.3 344.3,535.5 344.8,533.4 345.3,531.2 346.0,529.0 346.7,526.8 347.4,524.8 348.2,522.8 349.1,521.0 350.0,519.3 351.0,517.9 352.1,516.5 353.1,515.3 354.3,514.3 355.5,513.3 356.7,512.5 357.9,511.7 359.2,511.0 360.6,510.4 362.0,509.8 363.4,509.2 364.9,508.7 366.4,508.2 366.5,516.4 366.9,518.5 367.9,519.2 377.7,518.9 388.6,518.6" fill="none" stroke="#000000" stroke-width="1.15" stroke-linejoin="round"/>
<polyline points="343.5,539.5 343.6,538.7 343.9,537.1 344.3,535.0 344.8,532.7 345.3,530.2 346.0,527.7 346.7,525.3 347.4,522.9 348.2,520.8 349.1,518.7 350.0,516.9 351.0,515.2 352.1,513.7 353.1,512.4 354.3,511.2 355.5,510.1 356.7,509.2 357.9,508.3 359.2,507.5 360.6,506.8 362.0,506.2 363.4,505.5 364.9,504.9 366.4,504.4 366.5,510.5 366.9,512.1 367.9,512.6 377.7,512.9 388.6,513.1" fill="none" stroke="#0000ff" stroke-width="1.15" stroke-linejoin="round"/>
<polyline points="343.5,539.5 343.6,538.7 343.9,537.0 344.3,534.9 344.8,532.6 345.3,530.1 346.0,527.5 346.7,525.1 347.4,522.7 348.2,520.5 349.1,518.4 350.0,516.5 351.0,514.8 352.1,513.3 353.1,511.9 354.3,510.7 355.5,509.6 356.7,508.7 357.9,507.8 359.2,507.0 360.6,506.3 362.0,505.6 363.4,505.0 364.9,504.4 366.4,503.8 366.5,507.9 366.9,509.0 367.9,509.3 377.7,509.6 388.6,509.9" fill="none" stroke="#ff0000" stroke-width="1.15" stroke-linejoin="round"/>
<rect x="342.50" y="484.60" width="54.80" height="54.90" fill="none" stroke="#000" stroke-width="1.1"/>
<path d="M339.3,539.5L342.5,539.5M339.3,525.8L342.5,525.8M339.3,512.0L342.5,512.0M339.3,498.3L342.5,498.3M339.3,484.6L342.5,484.6M342.5,539.5L342.5,541.9M351.6,539.5L351.6,541.9M360.7,539.5L360.7,541.9M369.8,539.5L369.8,541.9M378.9,539.5L378.9,541.9M388.0,539.5L388.0,541.9" stroke="#000" stroke-width="0.9" fill="none"/>
<line x1="361.70" y1="488.50" x2="373.40" y2="488.50" stroke="#ff0000" stroke-width="1.1"/>
<text x="377.10" y="490.78" font-size="6.1" textLength="18.31" lengthAdjust="spacingAndGlyphs">581 nM</text>
<line x1="361.70" y1="494.40" x2="373.40" y2="494.40" stroke="#0000ff" stroke-width="1.1"/>
<text x="377.10" y="496.68" font-size="6.1" textLength="18.31" lengthAdjust="spacingAndGlyphs">291 nM</text>
<line x1="361.70" y1="500.30" x2="373.40" y2="500.30" stroke="#000000" stroke-width="1.1"/>
<text x="377.10" y="502.58" font-size="6.1" textLength="18.31" lengthAdjust="spacingAndGlyphs">145 nM</text>
<text x="41.30" y="548.08" font-size="7.2" textLength="9.61" lengthAdjust="spacingAndGlyphs" text-anchor="middle">350</text>
<text x="57.80" y="548.08" font-size="7.2" textLength="9.61" lengthAdjust="spacingAndGlyphs" text-anchor="middle">450</text>
<text x="75.00" y="548.08" font-size="7.2" textLength="9.61" lengthAdjust="spacingAndGlyphs" text-anchor="middle">550</text>
<text x="89.90" y="548.08" font-size="7.2" textLength="9.61" lengthAdjust="spacingAndGlyphs" text-anchor="middle">650</text>
<text x="65.30" y="554.88" font-size="7.2" textLength="31.20" lengthAdjust="spacingAndGlyphs" text-anchor="middle">Time (sec)</text>
<text x="100.50" y="548.08" font-size="7.2" textLength="9.61" lengthAdjust="spacingAndGlyphs" text-anchor="middle">350</text>
<text x="117.00" y="548.08" font-size="7.2" textLength="9.61" lengthAdjust="spacingAndGlyphs" text-anchor="middle">450</text>
<text x="134.20" y="548.08" font-size="7.2" textLength="9.61" lengthAdjust="spacingAndGlyphs" text-anchor="middle">550</text>
<text x="149.10" y="548.08" font-size="7.2" textLength="9.61" lengthAdjust="spacingAndGlyphs" text-anchor="middle">650</text>
<text x="124.50" y="554.88" font-size="7.2" textLength="31.20" lengthAdjust="spacingAndGlyphs" text-anchor="middle">Time (sec)</text>
<text x="160.30" y="548.08" font-size="7.2" textLength="9.61" lengthAdjust="spacingAndGlyphs" text-anchor="middle">350</text>
<text x="176.80" y="548.08" font-size="7.2" textLength="9.61" lengthAdjust="spacingAndGlyphs" text-anchor="middle">450</text>
<text x="194.00" y="548.08" font-size="7.2" textLength="9.61" lengthAdjust="spacingAndGlyphs" text-anchor="middle">550</text>
<text x="208.90" y="548.08" font-size="7.2" textLength="9.61" lengthAdjust="spacingAndGlyphs" text-anchor="middle">650</text>
<text x="184.30" y="554.88" font-size="7.2" textLength="31.20" lengthAdjust="spacingAndGlyphs" text-anchor="middle">Time (sec)</text>
<text x="226.40" y="548.08" font-size="7.2" textLength="9.61" lengthAdjust="spacingAndGlyphs" text-anchor="middle">350</text>
<text x="242.90" y="548.08" font-size="7.2" textLength="9.61" lengthAdjust="spacingAndGlyphs" text-anchor="middle">450</text>
<text x="260.10" y="548.08" font-size="7.2" textLength="9.61" lengthAdjust="spacingAndGlyphs" text-anchor="middle">550</text>
<text x="275.00" y="548.08" font-size="7.2" textLength="9.61" lengthAdjust="spacingAndGlyphs" text-anchor="middle">650</text>
<text x="250.40" y="554.88" font-size="7.2" textLength="31.20" lengthAdjust="spacingAndGlyphs" text-anchor="middle">Time (sec)</text>
<text x="285.80" y="548.08" font-size="7.2" textLength="9.61" lengthAdjust="spacingAndGlyphs" text-anchor="middle">350</text>
<text x="302.30" y="548.08" font-size="7.2" textLength="9.61" lengthAdjust="spacingAndGlyphs" text-anchor="middle">450</text>
<text x="319.50" y="548.08" font-size="7.2" textLength="9.61" lengthAdjust="spacingAndGlyphs" text-anchor="middle">550</text>
<text x="334.40" y="548.08" font-size="7.2" textLength="9.61" lengthAdjust="spacingAndGlyphs" text-anchor="middle">650</text>
<text x="309.80" y="554.88" font-size="7.2" textLength="31.20" lengthAdjust="spacingAndGlyphs" text-anchor="middle">Time (sec)</text>
<text x="345.40" y="548.08" font-size="7.2" textLength="9.61" lengthAdjust="spacingAndGlyphs" text-anchor="middle">350</text>
<text x="361.90" y="548.08" font-size="7.2" textLength="9.61" lengthAdjust="spacingAndGlyphs" text-anchor="middle">450</text>
<text x="379.10" y="548.08" font-size="7.2" textLength="9.61" lengthAdjust="spacingAndGlyphs" text-anchor="middle">550</text>
<text x="394.00" y="548.08" font-size="7.2" textLength="9.61" lengthAdjust="spacingAndGlyphs" text-anchor="middle">650</text>
<text x="369.40" y="554.88" font-size="7.2" textLength="31.20" lengthAdjust="spacingAndGlyphs" text-anchor="middle">Time (sec)</text>
<text x="403.10" y="220.40" font-size="19.7" font-weight="bold">e</text>
<line x1="445.40" y1="267.00" x2="525.40" y2="267.00" stroke="#222" stroke-width="0.6" stroke-dasharray="1.5 0.8"/>
<line x1="445.40" y1="226.00" x2="445.40" y2="308.00" stroke="#000" stroke-width="1.2"/>
<line x1="444.90" y1="307.70" x2="525.80" y2="307.70" stroke="#000" stroke-width="1.3"/>
<path d="M442.2,307.5L445.4,307.5M442.2,287.2L445.4,287.2M442.2,267.0L445.4,267.0M442.2,246.8L445.4,246.8M442.2,226.5L445.4,226.5M445.2,307.5L445.2,310.5M458.6,307.5L458.6,310.5M471.9,307.5L471.9,310.5M485.2,307.5L485.2,310.5M498.6,307.5L498.6,310.5M511.9,307.5L511.9,310.5M525.3,307.5L525.3,310.5" stroke="#000" stroke-width="1.0" fill="none"/>
<path d="M449.2,307.5L449.2,309.5M451.6,307.5L451.6,309.5M453.2,307.5L453.2,309.5M454.5,307.5L454.5,309.5M455.6,307.5L455.6,309.5M456.5,307.5L456.5,309.5M457.3,307.5L457.3,309.5M457.9,307.5L457.9,309.5M462.6,307.5L462.6,309.5M464.9,307.5L464.9,309.5M466.6,307.5L466.6,309.5M467.9,307.5L467.9,309.5M468.9,307.5L468.9,309.5M469.8,307.5L469.8,309.5M470.6,307.5L470.6,309.5M471.3,307.5L471.3,309.5M475.9,307.5L475.9,309.5M478.3,307.5L478.3,309.5M479.9,307.5L479.9,309.5M481.2,307.5L481.2,309.5M482.3,307.5L482.3,309.5M483.2,307.5L483.2,309.5M484.0,307.5L484.0,309.5M484.6,307.5L484.6,309.5M489.3,307.5L489.3,309.5M491.6,307.5L491.6,309.5M493.3,307.5L493.3,309.5M494.6,307.5L494.6,309.5M495.6,307.5L495.6,309.5M496.5,307.5L496.5,309.5M497.3,307.5L497.3,309.5M498.0,307.5L498.0,309.5M502.6,307.5L502.6,309.5M505.0,307.5L505.0,309.5M506.6,307.5L506.6,309.5M507.9,307.5L507.9,309.5M509.0,307.5L509.0,309.5M509.9,307.5L509.9,309.5M510.7,307.5L510.7,309.5M511.3,307.5L511.3,309.5M516.0,307.5L516.0,309.5M518.3,307.5L518.3,309.5M520.0,307.5L520.0,309.5M521.3,307.5L521.3,309.5M522.3,307.5L522.3,309.5M523.2,307.5L523.2,309.5M524.0,307.5L524.0,309.5M524.7,307.5L524.7,309.5" stroke="#000" stroke-width="0.75" fill="none"/>
<polyline points="445.2,307.5 460.0,307.5 469.3,303.0 478.6,294.1 488.0,278.3 497.3,248.8 506.6,239.1 516.0,235.4 525.3,228.1" fill="none" stroke="#000000" stroke-width="1.15" stroke-linejoin="round"/>
<path d="M445.2,306.3 L446.3,308.3 L444.1,308.3 Z" fill="#000000" stroke="#000000" stroke-width="0.64"/>
<path d="M460.0,306.3 L461.1,308.3 L458.9,308.3 Z" fill="#000000" stroke="#000000" stroke-width="0.64"/>
<path d="M469.3,301.9 L470.4,303.8 L468.2,303.8 Z" fill="#000000" stroke="#000000" stroke-width="0.64"/>
<path d="M478.6,293.0 L479.7,294.9 L477.5,294.9 Z" fill="#000000" stroke="#000000" stroke-width="0.64"/>
<path d="M488.0,277.2 L489.1,279.1 L486.9,279.1 Z" fill="#000000" stroke="#000000" stroke-width="0.64"/>
<path d="M497.3,247.6 L498.4,249.6 L496.2,249.6 Z" fill="#000000" stroke="#000000" stroke-width="0.64"/>
<path d="M506.6,237.9 L507.7,239.8 L505.5,239.8 Z" fill="#000000" stroke="#000000" stroke-width="0.64"/>
<path d="M516.0,234.3 L517.1,236.2 L514.9,236.2 Z" fill="#000000" stroke="#000000" stroke-width="0.64"/>
<path d="M525.3,227.0 L526.4,228.9 L524.2,228.9 Z" fill="#000000" stroke="#000000" stroke-width="0.64"/>
<polyline points="445.2,307.5 460.0,307.5 469.3,304.3 478.6,301.0 488.0,290.5 497.3,266.2 506.6,248.0 516.0,241.1 525.3,230.1" fill="none" stroke="#000000" stroke-width="1.15" stroke-linejoin="round"/>
<path d="M445.2,306.3 L446.3,308.3 L444.1,308.3 Z" fill="#fff" stroke="#000000" stroke-width="0.64"/>
<path d="M460.0,306.3 L461.1,308.3 L458.9,308.3 Z" fill="#fff" stroke="#000000" stroke-width="0.64"/>
<path d="M469.3,303.1 L470.4,305.1 L468.2,305.1 Z" fill="#fff" stroke="#000000" stroke-width="0.64"/>
<path d="M478.6,299.9 L479.7,301.8 L477.5,301.8 Z" fill="#fff" stroke="#000000" stroke-width="0.64"/>
<path d="M488.0,289.3 L489.1,291.3 L486.9,291.3 Z" fill="#fff" stroke="#000000" stroke-width="0.64"/>
<path d="M497.3,265.0 L498.4,267.0 L496.2,267.0 Z" fill="#fff" stroke="#000000" stroke-width="0.64"/>
<path d="M506.6,246.8 L507.7,248.8 L505.5,248.8 Z" fill="#fff" stroke="#000000" stroke-width="0.64"/>
<path d="M516.0,239.9 L517.1,241.9 L514.9,241.9 Z" fill="#fff" stroke="#000000" stroke-width="0.64"/>
<path d="M525.3,229.0 L526.4,230.9 L524.2,230.9 Z" fill="#fff" stroke="#000000" stroke-width="0.64"/>
<polyline points="445.2,307.5 460.0,307.5 469.3,305.1 478.6,303.9 488.0,292.9 497.3,274.3 506.6,260.5 516.0,248.0 525.3,239.5" fill="none" stroke="#0000ff" stroke-width="1.15" stroke-linejoin="round"/>
<rect x="444.1" y="306.4" width="2.30" height="2.30" fill="#0000ff" stroke="#0000ff" stroke-width="0.75"/>
<rect x="458.8" y="306.4" width="2.30" height="2.30" fill="#0000ff" stroke="#0000ff" stroke-width="0.75"/>
<rect x="468.2" y="303.9" width="2.30" height="2.30" fill="#0000ff" stroke="#0000ff" stroke-width="0.75"/>
<rect x="477.5" y="302.7" width="2.30" height="2.30" fill="#0000ff" stroke="#0000ff" stroke-width="0.75"/>
<rect x="486.8" y="291.8" width="2.30" height="2.30" fill="#0000ff" stroke="#0000ff" stroke-width="0.75"/>
<rect x="496.2" y="273.1" width="2.30" height="2.30" fill="#0000ff" stroke="#0000ff" stroke-width="0.75"/>
<rect x="505.5" y="259.4" width="2.30" height="2.30" fill="#0000ff" stroke="#0000ff" stroke-width="0.75"/>
<rect x="514.8" y="246.8" width="2.30" height="2.30" fill="#0000ff" stroke="#0000ff" stroke-width="0.75"/>
<rect x="524.1" y="238.3" width="2.30" height="2.30" fill="#0000ff" stroke="#0000ff" stroke-width="0.75"/>
<polyline points="445.2,307.5 460.0,307.5 469.3,305.1 478.6,305.5 488.0,294.1 497.3,275.9 506.6,257.3 516.0,247.6 525.3,243.5" fill="none" stroke="#0000ff" stroke-width="1.15" stroke-linejoin="round"/>
<rect x="444.1" y="306.4" width="2.30" height="2.30" fill="#fff" stroke="#0000ff" stroke-width="0.75"/>
<rect x="458.8" y="306.4" width="2.30" height="2.30" fill="#fff" stroke="#0000ff" stroke-width="0.75"/>
<rect x="468.2" y="303.9" width="2.30" height="2.30" fill="#fff" stroke="#0000ff" stroke-width="0.75"/>
<rect x="477.5" y="304.3" width="2.30" height="2.30" fill="#fff" stroke="#0000ff" stroke-width="0.75"/>
<rect x="486.8" y="293.0" width="2.30" height="2.30" fill="#fff" stroke="#0000ff" stroke-width="0.75"/>
<rect x="496.2" y="274.8" width="2.30" height="2.30" fill="#fff" stroke="#0000ff" stroke-width="0.75"/>
<rect x="505.5" y="256.1" width="2.30" height="2.30" fill="#fff" stroke="#0000ff" stroke-width="0.75"/>
<rect x="514.8" y="246.4" width="2.30" height="2.30" fill="#fff" stroke="#0000ff" stroke-width="0.75"/>
<rect x="524.1" y="242.4" width="2.30" height="2.30" fill="#fff" stroke="#0000ff" stroke-width="0.75"/>
<polyline points="445.2,307.5 460.0,307.5 469.3,307.5 478.6,304.3 488.0,300.2 497.3,291.3 506.6,271.9 516.0,266.6 525.3,248.0" fill="none" stroke="#ff0000" stroke-width="1.15" stroke-linejoin="round"/>
<circle cx="445.2" cy="307.5" r="1.25" fill="#ff0000" stroke="#ff0000" stroke-width="0.75"/>
<circle cx="460.0" cy="307.5" r="1.25" fill="#ff0000" stroke="#ff0000" stroke-width="0.75"/>
<circle cx="469.3" cy="307.5" r="1.25" fill="#ff0000" stroke="#ff0000" stroke-width="0.75"/>
<circle cx="478.6" cy="304.3" r="1.25" fill="#ff0000" stroke="#ff0000" stroke-width="0.75"/>
<circle cx="488.0" cy="300.2" r="1.25" fill="#ff0000" stroke="#ff0000" stroke-width="0.75"/>
<circle cx="497.3" cy="291.3" r="1.25" fill="#ff0000" stroke="#ff0000" stroke-width="0.75"/>
<circle cx="506.6" cy="271.9" r="1.25" fill="#ff0000" stroke="#ff0000" stroke-width="0.75"/>
<circle cx="516.0" cy="266.6" r="1.25" fill="#ff0000" stroke="#ff0000" stroke-width="0.75"/>
<circle cx="525.3" cy="248.0" r="1.25" fill="#ff0000" stroke="#ff0000" stroke-width="0.75"/>
<polyline points="445.2,307.5 460.0,307.5 469.3,301.4 478.6,299.8 488.0,290.5 497.3,268.2 506.6,253.2 516.0,247.6 525.3,233.8" fill="none" stroke="#ff0000" stroke-width="1.15" stroke-linejoin="round"/>
<circle cx="445.2" cy="307.5" r="1.25" fill="#fff" stroke="#ff0000" stroke-width="0.75"/>
<circle cx="460.0" cy="307.5" r="1.25" fill="#fff" stroke="#ff0000" stroke-width="0.75"/>
<circle cx="469.3" cy="301.4" r="1.25" fill="#fff" stroke="#ff0000" stroke-width="0.75"/>
<circle cx="478.6" cy="299.8" r="1.25" fill="#fff" stroke="#ff0000" stroke-width="0.75"/>
<circle cx="488.0" cy="290.5" r="1.25" fill="#fff" stroke="#ff0000" stroke-width="0.75"/>
<circle cx="497.3" cy="268.2" r="1.25" fill="#fff" stroke="#ff0000" stroke-width="0.75"/>
<circle cx="506.6" cy="253.2" r="1.25" fill="#fff" stroke="#ff0000" stroke-width="0.75"/>
<circle cx="516.0" cy="247.6" r="1.25" fill="#fff" stroke="#ff0000" stroke-width="0.75"/>
<circle cx="525.3" cy="233.8" r="1.25" fill="#fff" stroke="#ff0000" stroke-width="0.75"/>
<text x="434.90" y="219.51" font-size="8.4" textLength="94.70" lengthAdjust="spacingAndGlyphs">SHIV-KNH1144p2 (clade A)</text>
<text x="442.00" y="310.26" font-size="8.0" textLength="3.47" lengthAdjust="spacingAndGlyphs" text-anchor="end">0</text>
<text x="442.00" y="290.01" font-size="8.0" textLength="6.94" lengthAdjust="spacingAndGlyphs" text-anchor="end">25</text>
<text x="442.00" y="269.76" font-size="8.0" textLength="6.94" lengthAdjust="spacingAndGlyphs" text-anchor="end">50</text>
<text x="442.00" y="249.51" font-size="8.0" textLength="6.94" lengthAdjust="spacingAndGlyphs" text-anchor="end">75</text>
<text x="442.00" y="229.26" font-size="8.0" textLength="10.41" lengthAdjust="spacingAndGlyphs" text-anchor="end">100</text>
<text x="439.6" y="317.7" font-size="8" textLength="7.5" lengthAdjust="spacingAndGlyphs">10</text>
<text x="447.2" y="314.8" font-size="4.5" textLength="2.9" lengthAdjust="spacingAndGlyphs">-3</text>
<text x="452.9" y="317.7" font-size="8" textLength="7.5" lengthAdjust="spacingAndGlyphs">10</text>
<text x="460.6" y="314.8" font-size="4.5" textLength="2.9" lengthAdjust="spacingAndGlyphs">-2</text>
<text x="466.3" y="317.7" font-size="8" textLength="7.5" lengthAdjust="spacingAndGlyphs">10</text>
<text x="473.9" y="314.8" font-size="4.5" textLength="2.9" lengthAdjust="spacingAndGlyphs">-1</text>
<text x="479.6" y="317.7" font-size="8" textLength="7.5" lengthAdjust="spacingAndGlyphs">10</text>
<text x="487.2" y="314.8" font-size="4.5" textLength="2.0" lengthAdjust="spacingAndGlyphs">0</text>
<text x="493.0" y="317.7" font-size="8" textLength="7.5" lengthAdjust="spacingAndGlyphs">10</text>
<text x="500.6" y="314.8" font-size="4.5" textLength="2.0" lengthAdjust="spacingAndGlyphs">1</text>
<text x="506.3" y="317.7" font-size="8" textLength="7.5" lengthAdjust="spacingAndGlyphs">10</text>
<text x="514.0" y="314.8" font-size="4.5" textLength="2.0" lengthAdjust="spacingAndGlyphs">2</text>
<text x="519.7" y="317.7" font-size="8" textLength="7.5" lengthAdjust="spacingAndGlyphs">10</text>
<text x="527.3" y="314.8" font-size="4.5" textLength="2.0" lengthAdjust="spacingAndGlyphs">3</text>
<text x="484.70" y="325.61" font-size="7.0" textLength="74.50" lengthAdjust="spacingAndGlyphs" text-anchor="middle">Ab concentration (ng/mL)</text>
<text text-rendering="geometricPrecision" transform="translate(424.00,267.00) rotate(-90)" x="0" y="3.58" font-size="10.0" textLength="75.60" lengthAdjust="spacingAndGlyphs" text-anchor="middle">Neutralization (%)</text>
<line x1="546.50" y1="267.00" x2="626.70" y2="267.00" stroke="#222" stroke-width="0.6" stroke-dasharray="1.5 0.8"/>
<line x1="546.50" y1="226.00" x2="546.50" y2="308.00" stroke="#000" stroke-width="1.2"/>
<line x1="546.00" y1="307.70" x2="627.10" y2="307.70" stroke="#000" stroke-width="1.3"/>
<path d="M543.3,307.5L546.5,307.5M543.3,287.2L546.5,287.2M543.3,267.0L546.5,267.0M543.3,246.8L546.5,246.8M543.3,226.5L546.5,226.5M546.5,307.5L546.5,310.5M559.9,307.5L559.9,310.5M573.2,307.5L573.2,310.5M586.5,307.5L586.5,310.5M599.9,307.5L599.9,310.5M613.2,307.5L613.2,310.5M626.6,307.5L626.6,310.5" stroke="#000" stroke-width="1.0" fill="none"/>
<path d="M550.5,307.5L550.5,309.5M552.9,307.5L552.9,309.5M554.5,307.5L554.5,309.5M555.8,307.5L555.8,309.5M556.9,307.5L556.9,309.5M557.8,307.5L557.8,309.5M558.6,307.5L558.6,309.5M559.2,307.5L559.2,309.5M563.9,307.5L563.9,309.5M566.2,307.5L566.2,309.5M567.9,307.5L567.9,309.5M569.2,307.5L569.2,309.5M570.2,307.5L570.2,309.5M571.1,307.5L571.1,309.5M571.9,307.5L571.9,309.5M572.6,307.5L572.6,309.5M577.2,307.5L577.2,309.5M579.6,307.5L579.6,309.5M581.2,307.5L581.2,309.5M582.5,307.5L582.5,309.5M583.6,307.5L583.6,309.5M584.5,307.5L584.5,309.5M585.3,307.5L585.3,309.5M585.9,307.5L585.9,309.5M590.6,307.5L590.6,309.5M592.9,307.5L592.9,309.5M594.6,307.5L594.6,309.5M595.9,307.5L595.9,309.5M596.9,307.5L596.9,309.5M597.8,307.5L597.8,309.5M598.6,307.5L598.6,309.5M599.3,307.5L599.3,309.5M603.9,307.5L603.9,309.5M606.3,307.5L606.3,309.5M607.9,307.5L607.9,309.5M609.2,307.5L609.2,309.5M610.3,307.5L610.3,309.5M611.2,307.5L611.2,309.5M612.0,307.5L612.0,309.5M612.6,307.5L612.6,309.5M617.3,307.5L617.3,309.5M619.6,307.5L619.6,309.5M621.3,307.5L621.3,309.5M622.6,307.5L622.6,309.5M623.6,307.5L623.6,309.5M624.5,307.5L624.5,309.5M625.3,307.5L625.3,309.5M626.0,307.5L626.0,309.5" stroke="#000" stroke-width="0.75" fill="none"/>
<polyline points="546.5,307.5 561.3,307.5 570.6,305.1 579.9,273.5 589.3,243.5 598.6,235.4 607.9,229.3 617.3,226.9 626.6,226.5" fill="none" stroke="#000000" stroke-width="1.15" stroke-linejoin="round"/>
<path d="M546.5,306.3 L547.6,308.3 L545.4,308.3 Z" fill="#000000" stroke="#000000" stroke-width="0.64"/>
<path d="M561.3,306.3 L562.4,308.3 L560.2,308.3 Z" fill="#000000" stroke="#000000" stroke-width="0.64"/>
<path d="M570.6,303.9 L571.7,305.9 L569.5,305.9 Z" fill="#000000" stroke="#000000" stroke-width="0.64"/>
<path d="M579.9,272.3 L581.0,274.3 L578.8,274.3 Z" fill="#000000" stroke="#000000" stroke-width="0.64"/>
<path d="M589.3,242.4 L590.4,244.3 L588.2,244.3 Z" fill="#000000" stroke="#000000" stroke-width="0.64"/>
<path d="M598.6,234.3 L599.7,236.2 L597.5,236.2 Z" fill="#000000" stroke="#000000" stroke-width="0.64"/>
<path d="M607.9,228.2 L609.0,230.1 L606.8,230.1 Z" fill="#000000" stroke="#000000" stroke-width="0.64"/>
<path d="M617.3,225.8 L618.4,227.7 L616.2,227.7 Z" fill="#000000" stroke="#000000" stroke-width="0.64"/>
<path d="M626.6,225.3 L627.7,227.3 L625.5,227.3 Z" fill="#000000" stroke="#000000" stroke-width="0.64"/>
<polyline points="546.5,307.5 561.3,307.5 570.6,306.7 579.9,297.4 589.3,262.9 598.6,237.8 607.9,229.7 617.3,226.5 626.6,226.5" fill="none" stroke="#000000" stroke-width="1.15" stroke-linejoin="round"/>
<path d="M546.5,306.3 L547.6,308.3 L545.4,308.3 Z" fill="#fff" stroke="#000000" stroke-width="0.64"/>
<path d="M561.3,306.3 L562.4,308.3 L560.2,308.3 Z" fill="#fff" stroke="#000000" stroke-width="0.64"/>
<path d="M570.6,305.5 L571.7,307.5 L569.5,307.5 Z" fill="#fff" stroke="#000000" stroke-width="0.64"/>
<path d="M579.9,296.2 L581.0,298.2 L578.8,298.2 Z" fill="#fff" stroke="#000000" stroke-width="0.64"/>
<path d="M589.3,261.8 L590.4,263.7 L588.2,263.7 Z" fill="#fff" stroke="#000000" stroke-width="0.64"/>
<path d="M598.6,236.7 L599.7,238.6 L597.5,238.6 Z" fill="#fff" stroke="#000000" stroke-width="0.64"/>
<path d="M607.9,228.6 L609.0,230.5 L606.8,230.5 Z" fill="#fff" stroke="#000000" stroke-width="0.64"/>
<path d="M617.3,225.3 L618.4,227.3 L616.2,227.3 Z" fill="#fff" stroke="#000000" stroke-width="0.64"/>
<path d="M626.6,225.3 L627.7,227.3 L625.5,227.3 Z" fill="#fff" stroke="#000000" stroke-width="0.64"/>
<polyline points="546.5,307.5 561.3,307.5 570.6,307.5 579.9,307.5 589.3,305.1 598.6,253.2 607.9,233.8 617.3,227.3 626.6,226.5" fill="none" stroke="#0000ff" stroke-width="1.15" stroke-linejoin="round"/>
<rect x="545.4" y="306.4" width="2.30" height="2.30" fill="#0000ff" stroke="#0000ff" stroke-width="0.75"/>
<rect x="560.1" y="306.4" width="2.30" height="2.30" fill="#0000ff" stroke="#0000ff" stroke-width="0.75"/>
<rect x="569.5" y="306.4" width="2.30" height="2.30" fill="#0000ff" stroke="#0000ff" stroke-width="0.75"/>
<rect x="578.8" y="306.4" width="2.30" height="2.30" fill="#0000ff" stroke="#0000ff" stroke-width="0.75"/>
<rect x="588.1" y="303.9" width="2.30" height="2.30" fill="#0000ff" stroke="#0000ff" stroke-width="0.75"/>
<rect x="597.5" y="252.1" width="2.30" height="2.30" fill="#0000ff" stroke="#0000ff" stroke-width="0.75"/>
<rect x="606.8" y="232.6" width="2.30" height="2.30" fill="#0000ff" stroke="#0000ff" stroke-width="0.75"/>
<rect x="616.1" y="226.2" width="2.30" height="2.30" fill="#0000ff" stroke="#0000ff" stroke-width="0.75"/>
<rect x="625.5" y="225.3" width="2.30" height="2.30" fill="#0000ff" stroke="#0000ff" stroke-width="0.75"/>
<polyline points="546.5,307.5 561.3,307.5 570.6,307.5 579.9,305.9 589.3,297.0 598.6,275.5 607.9,238.2 617.3,226.9 626.6,226.5" fill="none" stroke="#0000ff" stroke-width="1.15" stroke-linejoin="round"/>
<rect x="545.4" y="306.4" width="2.30" height="2.30" fill="#fff" stroke="#0000ff" stroke-width="0.75"/>
<rect x="560.1" y="306.4" width="2.30" height="2.30" fill="#fff" stroke="#0000ff" stroke-width="0.75"/>
<rect x="569.5" y="306.4" width="2.30" height="2.30" fill="#fff" stroke="#0000ff" stroke-width="0.75"/>
<rect x="578.8" y="304.7" width="2.30" height="2.30" fill="#fff" stroke="#0000ff" stroke-width="0.75"/>
<rect x="588.1" y="295.8" width="2.30" height="2.30" fill="#fff" stroke="#0000ff" stroke-width="0.75"/>
<rect x="597.5" y="274.4" width="2.30" height="2.30" fill="#fff" stroke="#0000ff" stroke-width="0.75"/>
<rect x="606.8" y="237.1" width="2.30" height="2.30" fill="#fff" stroke="#0000ff" stroke-width="0.75"/>
<rect x="616.1" y="225.8" width="2.30" height="2.30" fill="#fff" stroke="#0000ff" stroke-width="0.75"/>
<rect x="625.5" y="225.3" width="2.30" height="2.30" fill="#fff" stroke="#0000ff" stroke-width="0.75"/>
<polyline points="546.5,307.5 561.3,307.5 570.6,307.5 579.9,307.5 589.3,307.1 598.6,304.7 607.9,249.6 617.3,239.5 626.6,226.5" fill="none" stroke="#ff0000" stroke-width="1.15" stroke-linejoin="round"/>
<circle cx="546.5" cy="307.5" r="1.25" fill="#ff0000" stroke="#ff0000" stroke-width="0.75"/>
<circle cx="561.3" cy="307.5" r="1.25" fill="#ff0000" stroke="#ff0000" stroke-width="0.75"/>
<circle cx="570.6" cy="307.5" r="1.25" fill="#ff0000" stroke="#ff0000" stroke-width="0.75"/>
<circle cx="579.9" cy="307.5" r="1.25" fill="#ff0000" stroke="#ff0000" stroke-width="0.75"/>
<circle cx="589.3" cy="307.1" r="1.25" fill="#ff0000" stroke="#ff0000" stroke-width="0.75"/>
<circle cx="598.6" cy="304.7" r="1.25" fill="#ff0000" stroke="#ff0000" stroke-width="0.75"/>
<circle cx="607.9" cy="249.6" r="1.25" fill="#ff0000" stroke="#ff0000" stroke-width="0.75"/>
<circle cx="617.3" cy="239.5" r="1.25" fill="#ff0000" stroke="#ff0000" stroke-width="0.75"/>
<circle cx="626.6" cy="226.5" r="1.25" fill="#ff0000" stroke="#ff0000" stroke-width="0.75"/>
<polyline points="546.5,307.5 561.3,307.5 570.6,307.5 579.9,304.7 589.3,297.0 598.6,269.4 607.9,238.7 617.3,226.9 626.6,226.5" fill="none" stroke="#ff0000" stroke-width="1.15" stroke-linejoin="round"/>
<circle cx="546.5" cy="307.5" r="1.25" fill="#fff" stroke="#ff0000" stroke-width="0.75"/>
<circle cx="561.3" cy="307.5" r="1.25" fill="#fff" stroke="#ff0000" stroke-width="0.75"/>
<circle cx="570.6" cy="307.5" r="1.25" fill="#fff" stroke="#ff0000" stroke-width="0.75"/>
<circle cx="579.9" cy="304.7" r="1.25" fill="#fff" stroke="#ff0000" stroke-width="0.75"/>
<circle cx="589.3" cy="297.0" r="1.25" fill="#fff" stroke="#ff0000" stroke-width="0.75"/>
<circle cx="598.6" cy="269.4" r="1.25" fill="#fff" stroke="#ff0000" stroke-width="0.75"/>
<circle cx="607.9" cy="238.7" r="1.25" fill="#fff" stroke="#ff0000" stroke-width="0.75"/>
<circle cx="617.3" cy="226.9" r="1.25" fill="#fff" stroke="#ff0000" stroke-width="0.75"/>
<circle cx="626.6" cy="226.5" r="1.25" fill="#fff" stroke="#ff0000" stroke-width="0.75"/>
<text x="551.00" y="219.51" font-size="8.4" textLength="74.70" lengthAdjust="spacingAndGlyphs">SHIV-162p3 (clade B)</text>
<text x="543.10" y="310.26" font-size="8.0" textLength="3.47" lengthAdjust="spacingAndGlyphs" text-anchor="end">0</text>
<text x="543.10" y="290.01" font-size="8.0" textLength="6.94" lengthAdjust="spacingAndGlyphs" text-anchor="end">25</text>
<text x="543.10" y="269.76" font-size="8.0" textLength="6.94" lengthAdjust="spacingAndGlyphs" text-anchor="end">50</text>
<text x="543.10" y="249.51" font-size="8.0" textLength="6.94" lengthAdjust="spacingAndGlyphs" text-anchor="end">75</text>
<text x="543.10" y="229.26" font-size="8.0" textLength="10.41" lengthAdjust="spacingAndGlyphs" text-anchor="end">100</text>
<text x="540.9" y="317.7" font-size="8" textLength="7.5" lengthAdjust="spacingAndGlyphs">10</text>
<text x="548.5" y="314.8" font-size="4.5" textLength="2.9" lengthAdjust="spacingAndGlyphs">-3</text>
<text x="554.2" y="317.7" font-size="8" textLength="7.5" lengthAdjust="spacingAndGlyphs">10</text>
<text x="561.9" y="314.8" font-size="4.5" textLength="2.9" lengthAdjust="spacingAndGlyphs">-2</text>
<text x="567.6" y="317.7" font-size="8" textLength="7.5" lengthAdjust="spacingAndGlyphs">10</text>
<text x="575.2" y="314.8" font-size="4.5" textLength="2.9" lengthAdjust="spacingAndGlyphs">-1</text>
<text x="580.9" y="317.7" font-size="8" textLength="7.5" lengthAdjust="spacingAndGlyphs">10</text>
<text x="588.5" y="314.8" font-size="4.5" textLength="2.0" lengthAdjust="spacingAndGlyphs">0</text>
<text x="594.3" y="317.7" font-size="8" textLength="7.5" lengthAdjust="spacingAndGlyphs">10</text>
<text x="601.9" y="314.8" font-size="4.5" textLength="2.0" lengthAdjust="spacingAndGlyphs">1</text>
<text x="607.6" y="317.7" font-size="8" textLength="7.5" lengthAdjust="spacingAndGlyphs">10</text>
<text x="615.2" y="314.8" font-size="4.5" textLength="2.0" lengthAdjust="spacingAndGlyphs">2</text>
<text x="621.0" y="317.7" font-size="8" textLength="7.5" lengthAdjust="spacingAndGlyphs">10</text>
<text x="628.6" y="314.8" font-size="4.5" textLength="2.0" lengthAdjust="spacingAndGlyphs">3</text>
<text x="586.00" y="325.61" font-size="7.0" textLength="74.50" lengthAdjust="spacingAndGlyphs" text-anchor="middle">Ab concentration (ng/mL)</text>
<line x1="445.40" y1="388.85" x2="525.40" y2="388.85" stroke="#222" stroke-width="0.6" stroke-dasharray="1.5 0.8"/>
<line x1="445.40" y1="348.40" x2="445.40" y2="429.30" stroke="#000" stroke-width="1.2"/>
<line x1="444.90" y1="429.00" x2="525.80" y2="429.00" stroke="#000" stroke-width="1.3"/>
<path d="M442.2,428.8L445.4,428.8M442.2,408.8L445.4,408.8M442.2,388.9L445.4,388.9M442.2,368.9L445.4,368.9M442.2,348.9L445.4,348.9M445.2,428.8L445.2,431.8M458.6,428.8L458.6,431.8M471.9,428.8L471.9,431.8M485.2,428.8L485.2,431.8M498.6,428.8L498.6,431.8M511.9,428.8L511.9,431.8M525.3,428.8L525.3,431.8" stroke="#000" stroke-width="1.0" fill="none"/>
<path d="M449.2,428.8L449.2,430.8M451.6,428.8L451.6,430.8M453.2,428.8L453.2,430.8M454.5,428.8L454.5,430.8M455.6,428.8L455.6,430.8M456.5,428.8L456.5,430.8M457.3,428.8L457.3,430.8M457.9,428.8L457.9,430.8M462.6,428.8L462.6,430.8M464.9,428.8L464.9,430.8M466.6,428.8L466.6,430.8M467.9,428.8L467.9,430.8M468.9,428.8L468.9,430.8M469.8,428.8L469.8,430.8M470.6,428.8L470.6,430.8M471.3,428.8L471.3,430.8M475.9,428.8L475.9,430.8M478.3,428.8L478.3,430.8M479.9,428.8L479.9,430.8M481.2,428.8L481.2,430.8M482.3,428.8L482.3,430.8M483.2,428.8L483.2,430.8M484.0,428.8L484.0,430.8M484.6,428.8L484.6,430.8M489.3,428.8L489.3,430.8M491.6,428.8L491.6,430.8M493.3,428.8L493.3,430.8M494.6,428.8L494.6,430.8M495.6,428.8L495.6,430.8M496.5,428.8L496.5,430.8M497.3,428.8L497.3,430.8M498.0,428.8L498.0,430.8M502.6,428.8L502.6,430.8M505.0,428.8L505.0,430.8M506.6,428.8L506.6,430.8M507.9,428.8L507.9,430.8M509.0,428.8L509.0,430.8M509.9,428.8L509.9,430.8M510.7,428.8L510.7,430.8M511.3,428.8L511.3,430.8M516.0,428.8L516.0,430.8M518.3,428.8L518.3,430.8M520.0,428.8L520.0,430.8M521.3,428.8L521.3,430.8M522.3,428.8L522.3,430.8M523.2,428.8L523.2,430.8M524.0,428.8L524.0,430.8M524.7,428.8L524.7,430.8" stroke="#000" stroke-width="0.75" fill="none"/>
<polyline points="445.2,428.8 460.0,428.8 469.3,428.0 478.6,421.6 488.0,396.8 497.3,366.9 506.6,353.7 516.0,350.5 525.3,348.9" fill="none" stroke="#000000" stroke-width="1.15" stroke-linejoin="round"/>
<path d="M445.2,427.6 L446.3,429.6 L444.1,429.6 Z" fill="#000000" stroke="#000000" stroke-width="0.64"/>
<path d="M460.0,427.6 L461.1,429.6 L458.9,429.6 Z" fill="#000000" stroke="#000000" stroke-width="0.64"/>
<path d="M469.3,426.8 L470.4,428.8 L468.2,428.8 Z" fill="#000000" stroke="#000000" stroke-width="0.64"/>
<path d="M478.6,420.5 L479.7,422.4 L477.5,422.4 Z" fill="#000000" stroke="#000000" stroke-width="0.64"/>
<path d="M488.0,395.7 L489.1,397.6 L486.9,397.6 Z" fill="#000000" stroke="#000000" stroke-width="0.64"/>
<path d="M497.3,365.7 L498.4,367.7 L496.2,367.7 Z" fill="#000000" stroke="#000000" stroke-width="0.64"/>
<path d="M506.6,352.5 L507.7,354.5 L505.5,354.5 Z" fill="#000000" stroke="#000000" stroke-width="0.64"/>
<path d="M516.0,349.3 L517.1,351.3 L514.9,351.3 Z" fill="#000000" stroke="#000000" stroke-width="0.64"/>
<path d="M525.3,347.7 L526.4,349.7 L524.2,349.7 Z" fill="#000000" stroke="#000000" stroke-width="0.64"/>
<polyline points="445.2,428.8 460.0,428.8 469.3,428.8 478.6,424.8 488.0,409.6 497.3,384.5 506.6,359.3 516.0,351.3 525.3,348.9" fill="none" stroke="#000000" stroke-width="1.15" stroke-linejoin="round"/>
<path d="M445.2,427.6 L446.3,429.6 L444.1,429.6 Z" fill="#fff" stroke="#000000" stroke-width="0.64"/>
<path d="M460.0,427.6 L461.1,429.6 L458.9,429.6 Z" fill="#fff" stroke="#000000" stroke-width="0.64"/>
<path d="M469.3,427.6 L470.4,429.6 L468.2,429.6 Z" fill="#fff" stroke="#000000" stroke-width="0.64"/>
<path d="M478.6,423.7 L479.7,425.6 L477.5,425.6 Z" fill="#fff" stroke="#000000" stroke-width="0.64"/>
<path d="M488.0,408.5 L489.1,410.4 L486.9,410.4 Z" fill="#fff" stroke="#000000" stroke-width="0.64"/>
<path d="M497.3,383.3 L498.4,385.2 L496.2,385.2 Z" fill="#fff" stroke="#000000" stroke-width="0.64"/>
<path d="M506.6,358.1 L507.7,360.1 L505.5,360.1 Z" fill="#fff" stroke="#000000" stroke-width="0.64"/>
<path d="M516.0,350.1 L517.1,352.1 L514.9,352.1 Z" fill="#fff" stroke="#000000" stroke-width="0.64"/>
<path d="M525.3,347.7 L526.4,349.7 L524.2,349.7 Z" fill="#fff" stroke="#000000" stroke-width="0.64"/>
<polyline points="445.2,428.8 460.0,428.8 469.3,428.8 478.6,424.8 488.0,418.4 497.3,402.4 506.6,368.9 516.0,351.7 525.3,348.9" fill="none" stroke="#0000ff" stroke-width="1.15" stroke-linejoin="round"/>
<rect x="444.1" y="427.7" width="2.30" height="2.30" fill="#0000ff" stroke="#0000ff" stroke-width="0.75"/>
<rect x="458.8" y="427.7" width="2.30" height="2.30" fill="#0000ff" stroke="#0000ff" stroke-width="0.75"/>
<rect x="468.2" y="427.7" width="2.30" height="2.30" fill="#0000ff" stroke="#0000ff" stroke-width="0.75"/>
<rect x="477.5" y="423.7" width="2.30" height="2.30" fill="#0000ff" stroke="#0000ff" stroke-width="0.75"/>
<rect x="486.8" y="417.3" width="2.30" height="2.30" fill="#0000ff" stroke="#0000ff" stroke-width="0.75"/>
<rect x="496.2" y="401.3" width="2.30" height="2.30" fill="#0000ff" stroke="#0000ff" stroke-width="0.75"/>
<rect x="505.5" y="367.7" width="2.30" height="2.30" fill="#0000ff" stroke="#0000ff" stroke-width="0.75"/>
<rect x="514.8" y="350.5" width="2.30" height="2.30" fill="#0000ff" stroke="#0000ff" stroke-width="0.75"/>
<rect x="524.1" y="347.8" width="2.30" height="2.30" fill="#0000ff" stroke="#0000ff" stroke-width="0.75"/>
<polyline points="445.2,428.8 460.0,428.8 469.3,428.8 478.6,423.2 488.0,417.2 497.3,416.8 506.6,364.9 516.0,351.3 525.3,348.9" fill="none" stroke="#0000ff" stroke-width="1.15" stroke-linejoin="round"/>
<rect x="444.1" y="427.7" width="2.30" height="2.30" fill="#fff" stroke="#0000ff" stroke-width="0.75"/>
<rect x="458.8" y="427.7" width="2.30" height="2.30" fill="#fff" stroke="#0000ff" stroke-width="0.75"/>
<rect x="468.2" y="427.7" width="2.30" height="2.30" fill="#fff" stroke="#0000ff" stroke-width="0.75"/>
<rect x="477.5" y="422.1" width="2.30" height="2.30" fill="#fff" stroke="#0000ff" stroke-width="0.75"/>
<rect x="486.8" y="416.1" width="2.30" height="2.30" fill="#fff" stroke="#0000ff" stroke-width="0.75"/>
<rect x="496.2" y="415.7" width="2.30" height="2.30" fill="#fff" stroke="#0000ff" stroke-width="0.75"/>
<rect x="505.5" y="363.7" width="2.30" height="2.30" fill="#fff" stroke="#0000ff" stroke-width="0.75"/>
<rect x="514.8" y="350.1" width="2.30" height="2.30" fill="#fff" stroke="#0000ff" stroke-width="0.75"/>
<rect x="524.1" y="347.8" width="2.30" height="2.30" fill="#fff" stroke="#0000ff" stroke-width="0.75"/>
<polyline points="445.2,428.8 460.0,428.8 469.3,428.8 478.6,428.8 488.0,422.4 497.3,418.8 506.6,410.8 516.0,372.9 525.3,350.5" fill="none" stroke="#ff0000" stroke-width="1.15" stroke-linejoin="round"/>
<circle cx="445.2" cy="428.8" r="1.25" fill="#ff0000" stroke="#ff0000" stroke-width="0.75"/>
<circle cx="460.0" cy="428.8" r="1.25" fill="#ff0000" stroke="#ff0000" stroke-width="0.75"/>
<circle cx="469.3" cy="428.8" r="1.25" fill="#ff0000" stroke="#ff0000" stroke-width="0.75"/>
<circle cx="478.6" cy="428.8" r="1.25" fill="#ff0000" stroke="#ff0000" stroke-width="0.75"/>
<circle cx="488.0" cy="422.4" r="1.25" fill="#ff0000" stroke="#ff0000" stroke-width="0.75"/>
<circle cx="497.3" cy="418.8" r="1.25" fill="#ff0000" stroke="#ff0000" stroke-width="0.75"/>
<circle cx="506.6" cy="410.8" r="1.25" fill="#ff0000" stroke="#ff0000" stroke-width="0.75"/>
<circle cx="516.0" cy="372.9" r="1.25" fill="#ff0000" stroke="#ff0000" stroke-width="0.75"/>
<circle cx="525.3" cy="350.5" r="1.25" fill="#ff0000" stroke="#ff0000" stroke-width="0.75"/>
<polyline points="445.2,428.8 460.0,428.8 469.3,428.0 478.6,417.6 488.0,411.6 497.3,393.6 506.6,373.7 516.0,354.9 525.3,350.1" fill="none" stroke="#ff0000" stroke-width="1.15" stroke-linejoin="round"/>
<circle cx="445.2" cy="428.8" r="1.25" fill="#fff" stroke="#ff0000" stroke-width="0.75"/>
<circle cx="460.0" cy="428.8" r="1.25" fill="#fff" stroke="#ff0000" stroke-width="0.75"/>
<circle cx="469.3" cy="428.0" r="1.25" fill="#fff" stroke="#ff0000" stroke-width="0.75"/>
<circle cx="478.6" cy="417.6" r="1.25" fill="#fff" stroke="#ff0000" stroke-width="0.75"/>
<circle cx="488.0" cy="411.6" r="1.25" fill="#fff" stroke="#ff0000" stroke-width="0.75"/>
<circle cx="497.3" cy="393.6" r="1.25" fill="#fff" stroke="#ff0000" stroke-width="0.75"/>
<circle cx="506.6" cy="373.7" r="1.25" fill="#fff" stroke="#ff0000" stroke-width="0.75"/>
<circle cx="516.0" cy="354.9" r="1.25" fill="#fff" stroke="#ff0000" stroke-width="0.75"/>
<circle cx="525.3" cy="350.1" r="1.25" fill="#fff" stroke="#ff0000" stroke-width="0.75"/>
<text x="435.60" y="341.91" font-size="8.4" textLength="95.20" lengthAdjust="spacingAndGlyphs">SHIV-1157ipd3N4 (clade C)</text>
<text x="442.00" y="431.56" font-size="8.0" textLength="3.47" lengthAdjust="spacingAndGlyphs" text-anchor="end">0</text>
<text x="442.00" y="411.59" font-size="8.0" textLength="6.94" lengthAdjust="spacingAndGlyphs" text-anchor="end">25</text>
<text x="442.00" y="391.61" font-size="8.0" textLength="6.94" lengthAdjust="spacingAndGlyphs" text-anchor="end">50</text>
<text x="442.00" y="371.64" font-size="8.0" textLength="6.94" lengthAdjust="spacingAndGlyphs" text-anchor="end">75</text>
<text x="442.00" y="351.66" font-size="8.0" textLength="10.41" lengthAdjust="spacingAndGlyphs" text-anchor="end">100</text>
<text x="439.6" y="439.0" font-size="8" textLength="7.5" lengthAdjust="spacingAndGlyphs">10</text>
<text x="447.2" y="436.1" font-size="4.5" textLength="2.9" lengthAdjust="spacingAndGlyphs">-3</text>
<text x="452.9" y="439.0" font-size="8" textLength="7.5" lengthAdjust="spacingAndGlyphs">10</text>
<text x="460.6" y="436.1" font-size="4.5" textLength="2.9" lengthAdjust="spacingAndGlyphs">-2</text>
<text x="466.3" y="439.0" font-size="8" textLength="7.5" lengthAdjust="spacingAndGlyphs">10</text>
<text x="473.9" y="436.1" font-size="4.5" textLength="2.9" lengthAdjust="spacingAndGlyphs">-1</text>
<text x="479.6" y="439.0" font-size="8" textLength="7.5" lengthAdjust="spacingAndGlyphs">10</text>
<text x="487.2" y="436.1" font-size="4.5" textLength="2.0" lengthAdjust="spacingAndGlyphs">0</text>
<text x="493.0" y="439.0" font-size="8" textLength="7.5" lengthAdjust="spacingAndGlyphs">10</text>
<text x="500.6" y="436.1" font-size="4.5" textLength="2.0" lengthAdjust="spacingAndGlyphs">1</text>
<text x="506.3" y="439.0" font-size="8" textLength="7.5" lengthAdjust="spacingAndGlyphs">10</text>
<text x="514.0" y="436.1" font-size="4.5" textLength="2.0" lengthAdjust="spacingAndGlyphs">2</text>
<text x="519.7" y="439.0" font-size="8" textLength="7.5" lengthAdjust="spacingAndGlyphs">10</text>
<text x="527.3" y="436.1" font-size="4.5" textLength="2.0" lengthAdjust="spacingAndGlyphs">3</text>
<text x="484.70" y="446.91" font-size="7.0" textLength="74.50" lengthAdjust="spacingAndGlyphs" text-anchor="middle">Ab concentration (ng/mL)</text>
<text text-rendering="geometricPrecision" transform="translate(421.00,388.85) rotate(-90)" x="0" y="3.58" font-size="10.0" textLength="75.60" lengthAdjust="spacingAndGlyphs" text-anchor="middle">Neutralization (%)</text>
<line x1="546.50" y1="388.85" x2="626.70" y2="388.85" stroke="#222" stroke-width="0.6" stroke-dasharray="1.5 0.8"/>
<line x1="546.50" y1="348.40" x2="546.50" y2="429.30" stroke="#000" stroke-width="1.2"/>
<line x1="546.00" y1="429.00" x2="627.10" y2="429.00" stroke="#000" stroke-width="1.3"/>
<path d="M543.3,428.8L546.5,428.8M543.3,408.8L546.5,408.8M543.3,388.9L546.5,388.9M543.3,368.9L546.5,368.9M543.3,348.9L546.5,348.9M546.5,428.8L546.5,431.8M559.9,428.8L559.9,431.8M573.2,428.8L573.2,431.8M586.5,428.8L586.5,431.8M599.9,428.8L599.9,431.8M613.2,428.8L613.2,431.8M626.6,428.8L626.6,431.8" stroke="#000" stroke-width="1.0" fill="none"/>
<path d="M550.5,428.8L550.5,430.8M552.9,428.8L552.9,430.8M554.5,428.8L554.5,430.8M555.8,428.8L555.8,430.8M556.9,428.8L556.9,430.8M557.8,428.8L557.8,430.8M558.6,428.8L558.6,430.8M559.2,428.8L559.2,430.8M563.9,428.8L563.9,430.8M566.2,428.8L566.2,430.8M567.9,428.8L567.9,430.8M569.2,428.8L569.2,430.8M570.2,428.8L570.2,430.8M571.1,428.8L571.1,430.8M571.9,428.8L571.9,430.8M572.6,428.8L572.6,430.8M577.2,428.8L577.2,430.8M579.6,428.8L579.6,430.8M581.2,428.8L581.2,430.8M582.5,428.8L582.5,430.8M583.6,428.8L583.6,430.8M584.5,428.8L584.5,430.8M585.3,428.8L585.3,430.8M585.9,428.8L585.9,430.8M590.6,428.8L590.6,430.8M592.9,428.8L592.9,430.8M594.6,428.8L594.6,430.8M595.9,428.8L595.9,430.8M596.9,428.8L596.9,430.8M597.8,428.8L597.8,430.8M598.6,428.8L598.6,430.8M599.3,428.8L599.3,430.8M603.9,428.8L603.9,430.8M606.3,428.8L606.3,430.8M607.9,428.8L607.9,430.8M609.2,428.8L609.2,430.8M610.3,428.8L610.3,430.8M611.2,428.8L611.2,430.8M612.0,428.8L612.0,430.8M612.6,428.8L612.6,430.8M617.3,428.8L617.3,430.8M619.6,428.8L619.6,430.8M621.3,428.8L621.3,430.8M622.6,428.8L622.6,430.8M623.6,428.8L623.6,430.8M624.5,428.8L624.5,430.8M625.3,428.8L625.3,430.8M626.0,428.8L626.0,430.8" stroke="#000" stroke-width="0.75" fill="none"/>
<polyline points="546.5,428.8 561.3,428.8 570.6,417.6 579.9,393.2 589.3,366.9 598.6,353.7 607.9,349.3 617.3,348.9 626.6,348.9" fill="none" stroke="#000000" stroke-width="1.15" stroke-linejoin="round"/>
<path d="M546.5,427.6 L547.6,429.6 L545.4,429.6 Z" fill="#000000" stroke="#000000" stroke-width="0.64"/>
<path d="M561.3,427.6 L562.4,429.6 L560.2,429.6 Z" fill="#000000" stroke="#000000" stroke-width="0.64"/>
<path d="M570.6,416.5 L571.7,418.4 L569.5,418.4 Z" fill="#000000" stroke="#000000" stroke-width="0.64"/>
<path d="M579.9,392.1 L581.0,394.0 L578.8,394.0 Z" fill="#000000" stroke="#000000" stroke-width="0.64"/>
<path d="M589.3,365.7 L590.4,367.7 L588.2,367.7 Z" fill="#000000" stroke="#000000" stroke-width="0.64"/>
<path d="M598.6,352.5 L599.7,354.5 L597.5,354.5 Z" fill="#000000" stroke="#000000" stroke-width="0.64"/>
<path d="M607.9,348.1 L609.0,350.1 L606.8,350.1 Z" fill="#000000" stroke="#000000" stroke-width="0.64"/>
<path d="M617.3,347.7 L618.4,349.7 L616.2,349.7 Z" fill="#000000" stroke="#000000" stroke-width="0.64"/>
<path d="M626.6,347.7 L627.7,349.7 L625.5,349.7 Z" fill="#000000" stroke="#000000" stroke-width="0.64"/>
<polyline points="546.5,428.8 561.3,428.8 570.6,418.4 579.9,396.8 589.3,375.3 598.6,363.3 607.9,349.3 617.3,348.9 626.6,348.9" fill="none" stroke="#000000" stroke-width="1.15" stroke-linejoin="round"/>
<path d="M546.5,427.6 L547.6,429.6 L545.4,429.6 Z" fill="#fff" stroke="#000000" stroke-width="0.64"/>
<path d="M561.3,427.6 L562.4,429.6 L560.2,429.6 Z" fill="#fff" stroke="#000000" stroke-width="0.64"/>
<path d="M570.6,417.3 L571.7,419.2 L569.5,419.2 Z" fill="#fff" stroke="#000000" stroke-width="0.64"/>
<path d="M579.9,395.7 L581.0,397.6 L578.8,397.6 Z" fill="#fff" stroke="#000000" stroke-width="0.64"/>
<path d="M589.3,374.1 L590.4,376.1 L588.2,376.1 Z" fill="#fff" stroke="#000000" stroke-width="0.64"/>
<path d="M598.6,362.1 L599.7,364.1 L597.5,364.1 Z" fill="#fff" stroke="#000000" stroke-width="0.64"/>
<path d="M607.9,348.1 L609.0,350.1 L606.8,350.1 Z" fill="#fff" stroke="#000000" stroke-width="0.64"/>
<path d="M617.3,347.7 L618.4,349.7 L616.2,349.7 Z" fill="#fff" stroke="#000000" stroke-width="0.64"/>
<path d="M626.6,347.7 L627.7,349.7 L625.5,349.7 Z" fill="#fff" stroke="#000000" stroke-width="0.64"/>
<polyline points="546.5,428.8 561.3,428.8 570.6,424.8 579.9,419.6 589.3,396.8 598.6,373.7 607.9,358.5 617.3,348.9 626.6,348.9" fill="none" stroke="#0000ff" stroke-width="1.15" stroke-linejoin="round"/>
<rect x="545.4" y="427.7" width="2.30" height="2.30" fill="#0000ff" stroke="#0000ff" stroke-width="0.75"/>
<rect x="560.1" y="427.7" width="2.30" height="2.30" fill="#0000ff" stroke="#0000ff" stroke-width="0.75"/>
<rect x="569.5" y="423.7" width="2.30" height="2.30" fill="#0000ff" stroke="#0000ff" stroke-width="0.75"/>
<rect x="578.8" y="418.5" width="2.30" height="2.30" fill="#0000ff" stroke="#0000ff" stroke-width="0.75"/>
<rect x="588.1" y="395.7" width="2.30" height="2.30" fill="#0000ff" stroke="#0000ff" stroke-width="0.75"/>
<rect x="597.5" y="372.5" width="2.30" height="2.30" fill="#0000ff" stroke="#0000ff" stroke-width="0.75"/>
<rect x="606.8" y="357.3" width="2.30" height="2.30" fill="#0000ff" stroke="#0000ff" stroke-width="0.75"/>
<rect x="616.1" y="347.8" width="2.30" height="2.30" fill="#0000ff" stroke="#0000ff" stroke-width="0.75"/>
<rect x="625.5" y="347.8" width="2.30" height="2.30" fill="#0000ff" stroke="#0000ff" stroke-width="0.75"/>
<polyline points="546.5,428.8 561.3,428.8 570.6,424.0 579.9,415.2 589.3,404.8 598.6,375.3 607.9,358.5 617.3,348.9 626.6,348.9" fill="none" stroke="#0000ff" stroke-width="1.15" stroke-linejoin="round"/>
<rect x="545.4" y="427.7" width="2.30" height="2.30" fill="#fff" stroke="#0000ff" stroke-width="0.75"/>
<rect x="560.1" y="427.7" width="2.30" height="2.30" fill="#fff" stroke="#0000ff" stroke-width="0.75"/>
<rect x="569.5" y="422.9" width="2.30" height="2.30" fill="#fff" stroke="#0000ff" stroke-width="0.75"/>
<rect x="578.8" y="414.1" width="2.30" height="2.30" fill="#fff" stroke="#0000ff" stroke-width="0.75"/>
<rect x="588.1" y="403.7" width="2.30" height="2.30" fill="#fff" stroke="#0000ff" stroke-width="0.75"/>
<rect x="597.5" y="374.1" width="2.30" height="2.30" fill="#fff" stroke="#0000ff" stroke-width="0.75"/>
<rect x="606.8" y="357.3" width="2.30" height="2.30" fill="#fff" stroke="#0000ff" stroke-width="0.75"/>
<rect x="616.1" y="347.8" width="2.30" height="2.30" fill="#fff" stroke="#0000ff" stroke-width="0.75"/>
<rect x="625.5" y="347.8" width="2.30" height="2.30" fill="#fff" stroke="#0000ff" stroke-width="0.75"/>
<polyline points="546.5,428.8 561.3,428.8 570.6,428.8 579.9,428.8 589.3,427.2 598.6,409.6 607.9,386.9 617.3,353.3 626.6,349.3" fill="none" stroke="#ff0000" stroke-width="1.15" stroke-linejoin="round"/>
<circle cx="546.5" cy="428.8" r="1.25" fill="#ff0000" stroke="#ff0000" stroke-width="0.75"/>
<circle cx="561.3" cy="428.8" r="1.25" fill="#ff0000" stroke="#ff0000" stroke-width="0.75"/>
<circle cx="570.6" cy="428.8" r="1.25" fill="#ff0000" stroke="#ff0000" stroke-width="0.75"/>
<circle cx="579.9" cy="428.8" r="1.25" fill="#ff0000" stroke="#ff0000" stroke-width="0.75"/>
<circle cx="589.3" cy="427.2" r="1.25" fill="#ff0000" stroke="#ff0000" stroke-width="0.75"/>
<circle cx="598.6" cy="409.6" r="1.25" fill="#ff0000" stroke="#ff0000" stroke-width="0.75"/>
<circle cx="607.9" cy="386.9" r="1.25" fill="#ff0000" stroke="#ff0000" stroke-width="0.75"/>
<circle cx="617.3" cy="353.3" r="1.25" fill="#ff0000" stroke="#ff0000" stroke-width="0.75"/>
<circle cx="626.6" cy="349.3" r="1.25" fill="#ff0000" stroke="#ff0000" stroke-width="0.75"/>
<polyline points="546.5,428.8 561.3,428.8 570.6,417.6 579.9,409.2 589.3,382.5 598.6,364.1 607.9,348.9 617.3,348.9 626.6,348.9" fill="none" stroke="#ff0000" stroke-width="1.15" stroke-linejoin="round"/>
<circle cx="546.5" cy="428.8" r="1.25" fill="#fff" stroke="#ff0000" stroke-width="0.75"/>
<circle cx="561.3" cy="428.8" r="1.25" fill="#fff" stroke="#ff0000" stroke-width="0.75"/>
<circle cx="570.6" cy="417.6" r="1.25" fill="#fff" stroke="#ff0000" stroke-width="0.75"/>
<circle cx="579.9" cy="409.2" r="1.25" fill="#fff" stroke="#ff0000" stroke-width="0.75"/>
<circle cx="589.3" cy="382.5" r="1.25" fill="#fff" stroke="#ff0000" stroke-width="0.75"/>
<circle cx="598.6" cy="364.1" r="1.25" fill="#fff" stroke="#ff0000" stroke-width="0.75"/>
<circle cx="607.9" cy="348.9" r="1.25" fill="#fff" stroke="#ff0000" stroke-width="0.75"/>
<circle cx="617.3" cy="348.9" r="1.25" fill="#fff" stroke="#ff0000" stroke-width="0.75"/>
<circle cx="626.6" cy="348.9" r="1.25" fill="#fff" stroke="#ff0000" stroke-width="0.75"/>
<text x="548.50" y="341.91" font-size="8.4" textLength="72.50" lengthAdjust="spacingAndGlyphs">SHIV-C109 (clade C)</text>
<text x="543.10" y="431.56" font-size="8.0" textLength="3.47" lengthAdjust="spacingAndGlyphs" text-anchor="end">0</text>
<text x="543.10" y="411.59" font-size="8.0" textLength="6.94" lengthAdjust="spacingAndGlyphs" text-anchor="end">25</text>
<text x="543.10" y="391.61" font-size="8.0" textLength="6.94" lengthAdjust="spacingAndGlyphs" text-anchor="end">50</text>
<text x="543.10" y="371.64" font-size="8.0" textLength="6.94" lengthAdjust="spacingAndGlyphs" text-anchor="end">75</text>
<text x="543.10" y="351.66" font-size="8.0" textLength="10.41" lengthAdjust="spacingAndGlyphs" text-anchor="end">100</text>
<text x="540.9" y="439.0" font-size="8" textLength="7.5" lengthAdjust="spacingAndGlyphs">10</text>
<text x="548.5" y="436.1" font-size="4.5" textLength="2.9" lengthAdjust="spacingAndGlyphs">-3</text>
<text x="554.2" y="439.0" font-size="8" textLength="7.5" lengthAdjust="spacingAndGlyphs">10</text>
<text x="561.9" y="436.1" font-size="4.5" textLength="2.9" lengthAdjust="spacingAndGlyphs">-2</text>
<text x="567.6" y="439.0" font-size="8" textLength="7.5" lengthAdjust="spacingAndGlyphs">10</text>
<text x="575.2" y="436.1" font-size="4.5" textLength="2.9" lengthAdjust="spacingAndGlyphs">-1</text>
<text x="580.9" y="439.0" font-size="8" textLength="7.5" lengthAdjust="spacingAndGlyphs">10</text>
<text x="588.5" y="436.1" font-size="4.5" textLength="2.0" lengthAdjust="spacingAndGlyphs">0</text>
<text x="594.3" y="439.0" font-size="8" textLength="7.5" lengthAdjust="spacingAndGlyphs">10</text>
<text x="601.9" y="436.1" font-size="4.5" textLength="2.0" lengthAdjust="spacingAndGlyphs">1</text>
<text x="607.6" y="439.0" font-size="8" textLength="7.5" lengthAdjust="spacingAndGlyphs">10</text>
<text x="615.2" y="436.1" font-size="4.5" textLength="2.0" lengthAdjust="spacingAndGlyphs">2</text>
<text x="621.0" y="439.0" font-size="8" textLength="7.5" lengthAdjust="spacingAndGlyphs">10</text>
<text x="628.6" y="436.1" font-size="4.5" textLength="2.0" lengthAdjust="spacingAndGlyphs">3</text>
<text x="586.00" y="446.91" font-size="7.0" textLength="74.50" lengthAdjust="spacingAndGlyphs" text-anchor="middle">Ab concentration (ng/mL)</text>
<line x1="445.40" y1="506.50" x2="525.40" y2="506.50" stroke="#222" stroke-width="0.6" stroke-dasharray="1.5 0.8"/>
<line x1="445.40" y1="465.60" x2="445.40" y2="547.40" stroke="#000" stroke-width="1.2"/>
<line x1="444.90" y1="547.10" x2="525.80" y2="547.10" stroke="#000" stroke-width="1.3"/>
<path d="M442.2,546.9L445.4,546.9M442.2,526.7L445.4,526.7M442.2,506.5L445.4,506.5M442.2,486.3L445.4,486.3M442.2,466.1L445.4,466.1M445.2,546.9L445.2,549.9M458.6,546.9L458.6,549.9M471.9,546.9L471.9,549.9M485.2,546.9L485.2,549.9M498.6,546.9L498.6,549.9M511.9,546.9L511.9,549.9M525.3,546.9L525.3,549.9" stroke="#000" stroke-width="1.0" fill="none"/>
<path d="M449.2,546.9L449.2,548.9M451.6,546.9L451.6,548.9M453.2,546.9L453.2,548.9M454.5,546.9L454.5,548.9M455.6,546.9L455.6,548.9M456.5,546.9L456.5,548.9M457.3,546.9L457.3,548.9M457.9,546.9L457.9,548.9M462.6,546.9L462.6,548.9M464.9,546.9L464.9,548.9M466.6,546.9L466.6,548.9M467.9,546.9L467.9,548.9M468.9,546.9L468.9,548.9M469.8,546.9L469.8,548.9M470.6,546.9L470.6,548.9M471.3,546.9L471.3,548.9M475.9,546.9L475.9,548.9M478.3,546.9L478.3,548.9M479.9,546.9L479.9,548.9M481.2,546.9L481.2,548.9M482.3,546.9L482.3,548.9M483.2,546.9L483.2,548.9M484.0,546.9L484.0,548.9M484.6,546.9L484.6,548.9M489.3,546.9L489.3,548.9M491.6,546.9L491.6,548.9M493.3,546.9L493.3,548.9M494.6,546.9L494.6,548.9M495.6,546.9L495.6,548.9M496.5,546.9L496.5,548.9M497.3,546.9L497.3,548.9M498.0,546.9L498.0,548.9M502.6,546.9L502.6,548.9M505.0,546.9L505.0,548.9M506.6,546.9L506.6,548.9M507.9,546.9L507.9,548.9M509.0,546.9L509.0,548.9M509.9,546.9L509.9,548.9M510.7,546.9L510.7,548.9M511.3,546.9L511.3,548.9M516.0,546.9L516.0,548.9M518.3,546.9L518.3,548.9M520.0,546.9L520.0,548.9M521.3,546.9L521.3,548.9M522.3,546.9L522.3,548.9M523.2,546.9L523.2,548.9M524.0,546.9L524.0,548.9M524.7,546.9L524.7,548.9" stroke="#000" stroke-width="0.75" fill="none"/>
<polyline points="445.2,546.9 460.0,546.9 469.3,543.3 478.6,538.0 488.0,539.2 497.3,541.2 506.6,534.8 516.0,534.0 525.3,524.3" fill="none" stroke="#000000" stroke-width="1.15" stroke-linejoin="round"/>
<path d="M445.2,545.7 L446.3,547.7 L444.1,547.7 Z" fill="#000000" stroke="#000000" stroke-width="0.64"/>
<path d="M460.0,545.7 L461.1,547.7 L458.9,547.7 Z" fill="#000000" stroke="#000000" stroke-width="0.64"/>
<path d="M469.3,542.1 L470.4,544.1 L468.2,544.1 Z" fill="#000000" stroke="#000000" stroke-width="0.64"/>
<path d="M478.6,536.9 L479.7,538.8 L477.5,538.8 Z" fill="#000000" stroke="#000000" stroke-width="0.64"/>
<path d="M488.0,538.1 L489.1,540.0 L486.9,540.0 Z" fill="#000000" stroke="#000000" stroke-width="0.64"/>
<path d="M497.3,540.1 L498.4,542.0 L496.2,542.0 Z" fill="#000000" stroke="#000000" stroke-width="0.64"/>
<path d="M506.6,533.6 L507.7,535.6 L505.5,535.6 Z" fill="#000000" stroke="#000000" stroke-width="0.64"/>
<path d="M516.0,532.8 L517.1,534.8 L514.9,534.8 Z" fill="#000000" stroke="#000000" stroke-width="0.64"/>
<path d="M525.3,523.1 L526.4,525.1 L524.2,525.1 Z" fill="#000000" stroke="#000000" stroke-width="0.64"/>
<polyline points="445.2,546.9 460.0,546.9 469.3,544.5 478.6,540.0 488.0,538.0 497.3,537.2 506.6,536.0 516.0,531.5 525.3,526.3" fill="none" stroke="#000000" stroke-width="1.15" stroke-linejoin="round"/>
<path d="M445.2,545.7 L446.3,547.7 L444.1,547.7 Z" fill="#fff" stroke="#000000" stroke-width="0.64"/>
<path d="M460.0,545.7 L461.1,547.7 L458.9,547.7 Z" fill="#fff" stroke="#000000" stroke-width="0.64"/>
<path d="M469.3,543.3 L470.4,545.3 L468.2,545.3 Z" fill="#fff" stroke="#000000" stroke-width="0.64"/>
<path d="M478.6,538.9 L479.7,540.8 L477.5,540.8 Z" fill="#fff" stroke="#000000" stroke-width="0.64"/>
<path d="M488.0,536.9 L489.1,538.8 L486.9,538.8 Z" fill="#fff" stroke="#000000" stroke-width="0.64"/>
<path d="M497.3,536.0 L498.4,538.0 L496.2,538.0 Z" fill="#fff" stroke="#000000" stroke-width="0.64"/>
<path d="M506.6,534.8 L507.7,536.8 L505.5,536.8 Z" fill="#fff" stroke="#000000" stroke-width="0.64"/>
<path d="M516.0,530.4 L517.1,532.3 L514.9,532.3 Z" fill="#fff" stroke="#000000" stroke-width="0.64"/>
<path d="M525.3,525.1 L526.4,527.1 L524.2,527.1 Z" fill="#fff" stroke="#000000" stroke-width="0.64"/>
<polyline points="445.2,546.9 460.0,546.9 469.3,544.5 478.6,540.4 488.0,538.0 497.3,538.0 506.6,537.2 516.0,528.3 525.3,527.5" fill="none" stroke="#0000ff" stroke-width="1.15" stroke-linejoin="round"/>
<rect x="444.1" y="545.8" width="2.30" height="2.30" fill="#0000ff" stroke="#0000ff" stroke-width="0.75"/>
<rect x="458.8" y="545.8" width="2.30" height="2.30" fill="#0000ff" stroke="#0000ff" stroke-width="0.75"/>
<rect x="468.2" y="543.3" width="2.30" height="2.30" fill="#0000ff" stroke="#0000ff" stroke-width="0.75"/>
<rect x="477.5" y="539.3" width="2.30" height="2.30" fill="#0000ff" stroke="#0000ff" stroke-width="0.75"/>
<rect x="486.8" y="536.9" width="2.30" height="2.30" fill="#0000ff" stroke="#0000ff" stroke-width="0.75"/>
<rect x="496.2" y="536.9" width="2.30" height="2.30" fill="#0000ff" stroke="#0000ff" stroke-width="0.75"/>
<rect x="505.5" y="536.1" width="2.30" height="2.30" fill="#0000ff" stroke="#0000ff" stroke-width="0.75"/>
<rect x="514.8" y="527.2" width="2.30" height="2.30" fill="#0000ff" stroke="#0000ff" stroke-width="0.75"/>
<rect x="524.1" y="526.4" width="2.30" height="2.30" fill="#0000ff" stroke="#0000ff" stroke-width="0.75"/>
<polyline points="445.2,546.9 460.0,546.9 469.3,546.9 478.6,546.9 488.0,539.2 497.3,537.2 506.6,537.2 516.0,536.4 525.3,534.8" fill="none" stroke="#0000ff" stroke-width="1.15" stroke-linejoin="round"/>
<rect x="444.1" y="545.8" width="2.30" height="2.30" fill="#fff" stroke="#0000ff" stroke-width="0.75"/>
<rect x="458.8" y="545.8" width="2.30" height="2.30" fill="#fff" stroke="#0000ff" stroke-width="0.75"/>
<rect x="468.2" y="545.8" width="2.30" height="2.30" fill="#fff" stroke="#0000ff" stroke-width="0.75"/>
<rect x="477.5" y="545.8" width="2.30" height="2.30" fill="#fff" stroke="#0000ff" stroke-width="0.75"/>
<rect x="486.8" y="538.1" width="2.30" height="2.30" fill="#fff" stroke="#0000ff" stroke-width="0.75"/>
<rect x="496.2" y="536.1" width="2.30" height="2.30" fill="#fff" stroke="#0000ff" stroke-width="0.75"/>
<rect x="505.5" y="536.1" width="2.30" height="2.30" fill="#fff" stroke="#0000ff" stroke-width="0.75"/>
<rect x="514.8" y="535.2" width="2.30" height="2.30" fill="#fff" stroke="#0000ff" stroke-width="0.75"/>
<rect x="524.1" y="533.6" width="2.30" height="2.30" fill="#fff" stroke="#0000ff" stroke-width="0.75"/>
<polyline points="445.2,546.9 460.0,546.9 469.3,539.2 478.6,546.9 488.0,537.2 497.3,536.0 506.6,538.8 516.0,530.7 525.3,529.5" fill="none" stroke="#ff0000" stroke-width="1.15" stroke-linejoin="round"/>
<circle cx="445.2" cy="546.9" r="1.25" fill="#ff0000" stroke="#ff0000" stroke-width="0.75"/>
<circle cx="460.0" cy="546.9" r="1.25" fill="#ff0000" stroke="#ff0000" stroke-width="0.75"/>
<circle cx="469.3" cy="539.2" r="1.25" fill="#ff0000" stroke="#ff0000" stroke-width="0.75"/>
<circle cx="478.6" cy="546.9" r="1.25" fill="#ff0000" stroke="#ff0000" stroke-width="0.75"/>
<circle cx="488.0" cy="537.2" r="1.25" fill="#ff0000" stroke="#ff0000" stroke-width="0.75"/>
<circle cx="497.3" cy="536.0" r="1.25" fill="#ff0000" stroke="#ff0000" stroke-width="0.75"/>
<circle cx="506.6" cy="538.8" r="1.25" fill="#ff0000" stroke="#ff0000" stroke-width="0.75"/>
<circle cx="516.0" cy="530.7" r="1.25" fill="#ff0000" stroke="#ff0000" stroke-width="0.75"/>
<circle cx="525.3" cy="529.5" r="1.25" fill="#ff0000" stroke="#ff0000" stroke-width="0.75"/>
<polyline points="445.2,546.9 460.0,546.9 469.3,546.9 478.6,546.9 488.0,536.4 497.3,533.2 506.6,536.0 516.0,530.7 525.3,529.5" fill="none" stroke="#ff0000" stroke-width="1.15" stroke-linejoin="round"/>
<circle cx="445.2" cy="546.9" r="1.25" fill="#fff" stroke="#ff0000" stroke-width="0.75"/>
<circle cx="460.0" cy="546.9" r="1.25" fill="#fff" stroke="#ff0000" stroke-width="0.75"/>
<circle cx="469.3" cy="546.9" r="1.25" fill="#fff" stroke="#ff0000" stroke-width="0.75"/>
<circle cx="478.6" cy="546.9" r="1.25" fill="#fff" stroke="#ff0000" stroke-width="0.75"/>
<circle cx="488.0" cy="536.4" r="1.25" fill="#fff" stroke="#ff0000" stroke-width="0.75"/>
<circle cx="497.3" cy="533.2" r="1.25" fill="#fff" stroke="#ff0000" stroke-width="0.75"/>
<circle cx="506.6" cy="536.0" r="1.25" fill="#fff" stroke="#ff0000" stroke-width="0.75"/>
<circle cx="516.0" cy="530.7" r="1.25" fill="#fff" stroke="#ff0000" stroke-width="0.75"/>
<circle cx="525.3" cy="529.5" r="1.25" fill="#fff" stroke="#ff0000" stroke-width="0.75"/>
<text x="448.30" y="459.11" font-size="8.4" textLength="76.60" lengthAdjust="spacingAndGlyphs">SHIV-AE16 (clade AE)</text>
<text x="442.00" y="549.66" font-size="8.0" textLength="3.47" lengthAdjust="spacingAndGlyphs" text-anchor="end">0</text>
<text x="442.00" y="529.46" font-size="8.0" textLength="6.94" lengthAdjust="spacingAndGlyphs" text-anchor="end">25</text>
<text x="442.00" y="509.26" font-size="8.0" textLength="6.94" lengthAdjust="spacingAndGlyphs" text-anchor="end">50</text>
<text x="442.00" y="489.06" font-size="8.0" textLength="6.94" lengthAdjust="spacingAndGlyphs" text-anchor="end">75</text>
<text x="442.00" y="468.86" font-size="8.0" textLength="10.41" lengthAdjust="spacingAndGlyphs" text-anchor="end">100</text>
<text x="439.6" y="557.1" font-size="8" textLength="7.5" lengthAdjust="spacingAndGlyphs">10</text>
<text x="447.2" y="554.2" font-size="4.5" textLength="2.9" lengthAdjust="spacingAndGlyphs">-3</text>
<text x="452.9" y="557.1" font-size="8" textLength="7.5" lengthAdjust="spacingAndGlyphs">10</text>
<text x="460.6" y="554.2" font-size="4.5" textLength="2.9" lengthAdjust="spacingAndGlyphs">-2</text>
<text x="466.3" y="557.1" font-size="8" textLength="7.5" lengthAdjust="spacingAndGlyphs">10</text>
<text x="473.9" y="554.2" font-size="4.5" textLength="2.9" lengthAdjust="spacingAndGlyphs">-1</text>
<text x="479.6" y="557.1" font-size="8" textLength="7.5" lengthAdjust="spacingAndGlyphs">10</text>
<text x="487.2" y="554.2" font-size="4.5" textLength="2.0" lengthAdjust="spacingAndGlyphs">0</text>
<text x="493.0" y="557.1" font-size="8" textLength="7.5" lengthAdjust="spacingAndGlyphs">10</text>
<text x="500.6" y="554.2" font-size="4.5" textLength="2.0" lengthAdjust="spacingAndGlyphs">1</text>
<text x="506.3" y="557.1" font-size="8" textLength="7.5" lengthAdjust="spacingAndGlyphs">10</text>
<text x="514.0" y="554.2" font-size="4.5" textLength="2.0" lengthAdjust="spacingAndGlyphs">2</text>
<text x="519.7" y="557.1" font-size="8" textLength="7.5" lengthAdjust="spacingAndGlyphs">10</text>
<text x="527.3" y="554.2" font-size="4.5" textLength="2.0" lengthAdjust="spacingAndGlyphs">3</text>
<text x="484.70" y="565.01" font-size="7.0" textLength="74.50" lengthAdjust="spacingAndGlyphs" text-anchor="middle">Ab concentration (ng/mL)</text>
<text text-rendering="geometricPrecision" transform="translate(424.00,506.50) rotate(-90)" x="0" y="3.58" font-size="10.0" textLength="75.60" lengthAdjust="spacingAndGlyphs" text-anchor="middle">Neutralization (%)</text>
<line x1="546.50" y1="506.50" x2="626.70" y2="506.50" stroke="#222" stroke-width="0.6" stroke-dasharray="1.5 0.8"/>
<line x1="546.50" y1="465.60" x2="546.50" y2="547.40" stroke="#000" stroke-width="1.2"/>
<line x1="546.00" y1="547.10" x2="627.10" y2="547.10" stroke="#000" stroke-width="1.3"/>
<path d="M543.3,546.9L546.5,546.9M543.3,526.7L546.5,526.7M543.3,506.5L546.5,506.5M543.3,486.3L546.5,486.3M543.3,466.1L546.5,466.1M546.5,546.9L546.5,549.9M559.9,546.9L559.9,549.9M573.2,546.9L573.2,549.9M586.5,546.9L586.5,549.9M599.9,546.9L599.9,549.9M613.2,546.9L613.2,549.9M626.6,546.9L626.6,549.9" stroke="#000" stroke-width="1.0" fill="none"/>
<path d="M550.5,546.9L550.5,548.9M552.9,546.9L552.9,548.9M554.5,546.9L554.5,548.9M555.8,546.9L555.8,548.9M556.9,546.9L556.9,548.9M557.8,546.9L557.8,548.9M558.6,546.9L558.6,548.9M559.2,546.9L559.2,548.9M563.9,546.9L563.9,548.9M566.2,546.9L566.2,548.9M567.9,546.9L567.9,548.9M569.2,546.9L569.2,548.9M570.2,546.9L570.2,548.9M571.1,546.9L571.1,548.9M571.9,546.9L571.9,548.9M572.6,546.9L572.6,548.9M577.2,546.9L577.2,548.9M579.6,546.9L579.6,548.9M581.2,546.9L581.2,548.9M582.5,546.9L582.5,548.9M583.6,546.9L583.6,548.9M584.5,546.9L584.5,548.9M585.3,546.9L585.3,548.9M585.9,546.9L585.9,548.9M590.6,546.9L590.6,548.9M592.9,546.9L592.9,548.9M594.6,546.9L594.6,548.9M595.9,546.9L595.9,548.9M596.9,546.9L596.9,548.9M597.8,546.9L597.8,548.9M598.6,546.9L598.6,548.9M599.3,546.9L599.3,548.9M603.9,546.9L603.9,548.9M606.3,546.9L606.3,548.9M607.9,546.9L607.9,548.9M609.2,546.9L609.2,548.9M610.3,546.9L610.3,548.9M611.2,546.9L611.2,548.9M612.0,546.9L612.0,548.9M612.6,546.9L612.6,548.9M617.3,546.9L617.3,548.9M619.6,546.9L619.6,548.9M621.3,546.9L621.3,548.9M622.6,546.9L622.6,548.9M623.6,546.9L623.6,548.9M624.5,546.9L624.5,548.9M625.3,546.9L625.3,548.9M626.0,546.9L626.0,548.9" stroke="#000" stroke-width="0.75" fill="none"/>
<polyline points="546.5,546.9 561.3,546.9 570.6,546.9 579.9,544.8 589.3,534.8 598.6,534.0 607.9,528.3 617.3,526.3 626.6,525.1" fill="none" stroke="#000000" stroke-width="1.15" stroke-linejoin="round"/>
<path d="M546.5,545.7 L547.6,547.7 L545.4,547.7 Z" fill="#000000" stroke="#000000" stroke-width="0.64"/>
<path d="M561.3,545.7 L562.4,547.7 L560.2,547.7 Z" fill="#000000" stroke="#000000" stroke-width="0.64"/>
<path d="M570.6,545.7 L571.7,547.7 L569.5,547.7 Z" fill="#000000" stroke="#000000" stroke-width="0.64"/>
<path d="M579.9,543.6 L581.0,545.6 L578.8,545.6 Z" fill="#000000" stroke="#000000" stroke-width="0.64"/>
<path d="M589.3,533.6 L590.4,535.6 L588.2,535.6 Z" fill="#000000" stroke="#000000" stroke-width="0.64"/>
<path d="M598.6,532.8 L599.7,534.8 L597.5,534.8 Z" fill="#000000" stroke="#000000" stroke-width="0.64"/>
<path d="M607.9,527.2 L609.0,529.1 L606.8,529.1 Z" fill="#000000" stroke="#000000" stroke-width="0.64"/>
<path d="M617.3,525.1 L618.4,527.1 L616.2,527.1 Z" fill="#000000" stroke="#000000" stroke-width="0.64"/>
<path d="M626.6,523.9 L627.7,525.9 L625.5,525.9 Z" fill="#000000" stroke="#000000" stroke-width="0.64"/>
<polyline points="546.5,546.9 561.3,546.9 570.6,546.9 579.9,545.3 589.3,538.4 598.6,534.4 607.9,529.5 617.3,527.5 626.6,525.1" fill="none" stroke="#000000" stroke-width="1.15" stroke-linejoin="round"/>
<path d="M546.5,545.7 L547.6,547.7 L545.4,547.7 Z" fill="#fff" stroke="#000000" stroke-width="0.64"/>
<path d="M561.3,545.7 L562.4,547.7 L560.2,547.7 Z" fill="#fff" stroke="#000000" stroke-width="0.64"/>
<path d="M570.6,545.7 L571.7,547.7 L569.5,547.7 Z" fill="#fff" stroke="#000000" stroke-width="0.64"/>
<path d="M579.9,544.1 L581.0,546.1 L578.8,546.1 Z" fill="#fff" stroke="#000000" stroke-width="0.64"/>
<path d="M589.3,537.3 L590.4,539.2 L588.2,539.2 Z" fill="#fff" stroke="#000000" stroke-width="0.64"/>
<path d="M598.6,533.2 L599.7,535.2 L597.5,535.2 Z" fill="#fff" stroke="#000000" stroke-width="0.64"/>
<path d="M607.9,528.4 L609.0,530.3 L606.8,530.3 Z" fill="#fff" stroke="#000000" stroke-width="0.64"/>
<path d="M617.3,526.4 L618.4,528.3 L616.2,528.3 Z" fill="#fff" stroke="#000000" stroke-width="0.64"/>
<path d="M626.6,523.9 L627.7,525.9 L625.5,525.9 Z" fill="#fff" stroke="#000000" stroke-width="0.64"/>
<polyline points="546.5,546.9 561.3,546.9 570.6,546.9 579.9,546.9 589.3,543.3 598.6,540.0 607.9,534.8 617.3,534.0 626.6,524.7" fill="none" stroke="#0000ff" stroke-width="1.15" stroke-linejoin="round"/>
<rect x="545.4" y="545.8" width="2.30" height="2.30" fill="#0000ff" stroke="#0000ff" stroke-width="0.75"/>
<rect x="560.1" y="545.8" width="2.30" height="2.30" fill="#0000ff" stroke="#0000ff" stroke-width="0.75"/>
<rect x="569.5" y="545.8" width="2.30" height="2.30" fill="#0000ff" stroke="#0000ff" stroke-width="0.75"/>
<rect x="578.8" y="545.8" width="2.30" height="2.30" fill="#0000ff" stroke="#0000ff" stroke-width="0.75"/>
<rect x="588.1" y="542.1" width="2.30" height="2.30" fill="#0000ff" stroke="#0000ff" stroke-width="0.75"/>
<rect x="597.5" y="538.9" width="2.30" height="2.30" fill="#0000ff" stroke="#0000ff" stroke-width="0.75"/>
<rect x="606.8" y="533.6" width="2.30" height="2.30" fill="#0000ff" stroke="#0000ff" stroke-width="0.75"/>
<rect x="616.1" y="532.8" width="2.30" height="2.30" fill="#0000ff" stroke="#0000ff" stroke-width="0.75"/>
<rect x="625.5" y="523.5" width="2.30" height="2.30" fill="#0000ff" stroke="#0000ff" stroke-width="0.75"/>
<polyline points="546.5,546.9 561.3,546.9 570.6,546.9 579.9,546.5 589.3,544.5 598.6,539.2 607.9,538.4 617.3,534.8 626.6,526.3" fill="none" stroke="#0000ff" stroke-width="1.15" stroke-linejoin="round"/>
<rect x="545.4" y="545.8" width="2.30" height="2.30" fill="#fff" stroke="#0000ff" stroke-width="0.75"/>
<rect x="560.1" y="545.8" width="2.30" height="2.30" fill="#fff" stroke="#0000ff" stroke-width="0.75"/>
<rect x="569.5" y="545.8" width="2.30" height="2.30" fill="#fff" stroke="#0000ff" stroke-width="0.75"/>
<rect x="578.8" y="545.3" width="2.30" height="2.30" fill="#fff" stroke="#0000ff" stroke-width="0.75"/>
<rect x="588.1" y="543.3" width="2.30" height="2.30" fill="#fff" stroke="#0000ff" stroke-width="0.75"/>
<rect x="597.5" y="538.1" width="2.30" height="2.30" fill="#fff" stroke="#0000ff" stroke-width="0.75"/>
<rect x="606.8" y="537.3" width="2.30" height="2.30" fill="#fff" stroke="#0000ff" stroke-width="0.75"/>
<rect x="616.1" y="533.6" width="2.30" height="2.30" fill="#fff" stroke="#0000ff" stroke-width="0.75"/>
<rect x="625.5" y="525.1" width="2.30" height="2.30" fill="#fff" stroke="#0000ff" stroke-width="0.75"/>
<polyline points="546.5,546.9 561.3,546.9 570.6,546.9 579.9,546.9 589.3,545.3 598.6,542.1 607.9,537.2 617.3,537.2 626.6,529.5" fill="none" stroke="#ff0000" stroke-width="1.15" stroke-linejoin="round"/>
<circle cx="546.5" cy="546.9" r="1.25" fill="#ff0000" stroke="#ff0000" stroke-width="0.75"/>
<circle cx="561.3" cy="546.9" r="1.25" fill="#ff0000" stroke="#ff0000" stroke-width="0.75"/>
<circle cx="570.6" cy="546.9" r="1.25" fill="#ff0000" stroke="#ff0000" stroke-width="0.75"/>
<circle cx="579.9" cy="546.9" r="1.25" fill="#ff0000" stroke="#ff0000" stroke-width="0.75"/>
<circle cx="589.3" cy="545.3" r="1.25" fill="#ff0000" stroke="#ff0000" stroke-width="0.75"/>
<circle cx="598.6" cy="542.1" r="1.25" fill="#ff0000" stroke="#ff0000" stroke-width="0.75"/>
<circle cx="607.9" cy="537.2" r="1.25" fill="#ff0000" stroke="#ff0000" stroke-width="0.75"/>
<circle cx="617.3" cy="537.2" r="1.25" fill="#ff0000" stroke="#ff0000" stroke-width="0.75"/>
<circle cx="626.6" cy="529.5" r="1.25" fill="#ff0000" stroke="#ff0000" stroke-width="0.75"/>
<polyline points="546.5,546.9 561.3,546.9 570.6,546.9 579.9,546.9 589.3,541.2 598.6,537.2 607.9,536.4 617.3,532.4 626.6,528.3" fill="none" stroke="#ff0000" stroke-width="1.15" stroke-linejoin="round"/>
<circle cx="546.5" cy="546.9" r="1.25" fill="#fff" stroke="#ff0000" stroke-width="0.75"/>
<circle cx="561.3" cy="546.9" r="1.25" fill="#fff" stroke="#ff0000" stroke-width="0.75"/>
<circle cx="570.6" cy="546.9" r="1.25" fill="#fff" stroke="#ff0000" stroke-width="0.75"/>
<circle cx="579.9" cy="546.9" r="1.25" fill="#fff" stroke="#ff0000" stroke-width="0.75"/>
<circle cx="589.3" cy="541.2" r="1.25" fill="#fff" stroke="#ff0000" stroke-width="0.75"/>
<circle cx="598.6" cy="537.2" r="1.25" fill="#fff" stroke="#ff0000" stroke-width="0.75"/>
<circle cx="607.9" cy="536.4" r="1.25" fill="#fff" stroke="#ff0000" stroke-width="0.75"/>
<circle cx="617.3" cy="532.4" r="1.25" fill="#fff" stroke="#ff0000" stroke-width="0.75"/>
<circle cx="626.6" cy="528.3" r="1.25" fill="#fff" stroke="#ff0000" stroke-width="0.75"/>
<text x="545.30" y="459.11" font-size="8.4" textLength="83.60" lengthAdjust="spacingAndGlyphs">HIV-1-RV217 (clade AE)</text>
<text x="543.10" y="549.66" font-size="8.0" textLength="3.47" lengthAdjust="spacingAndGlyphs" text-anchor="end">0</text>
<text x="543.10" y="529.46" font-size="8.0" textLength="6.94" lengthAdjust="spacingAndGlyphs" text-anchor="end">25</text>
<text x="543.10" y="509.26" font-size="8.0" textLength="6.94" lengthAdjust="spacingAndGlyphs" text-anchor="end">50</text>
<text x="543.10" y="489.06" font-size="8.0" textLength="6.94" lengthAdjust="spacingAndGlyphs" text-anchor="end">75</text>
<text x="543.10" y="468.86" font-size="8.0" textLength="10.41" lengthAdjust="spacingAndGlyphs" text-anchor="end">100</text>
<text x="540.9" y="557.1" font-size="8" textLength="7.5" lengthAdjust="spacingAndGlyphs">10</text>
<text x="548.5" y="554.2" font-size="4.5" textLength="2.9" lengthAdjust="spacingAndGlyphs">-3</text>
<text x="554.2" y="557.1" font-size="8" textLength="7.5" lengthAdjust="spacingAndGlyphs">10</text>
<text x="561.9" y="554.2" font-size="4.5" textLength="2.9" lengthAdjust="spacingAndGlyphs">-2</text>
<text x="567.6" y="557.1" font-size="8" textLength="7.5" lengthAdjust="spacingAndGlyphs">10</text>
<text x="575.2" y="554.2" font-size="4.5" textLength="2.9" lengthAdjust="spacingAndGlyphs">-1</text>
<text x="580.9" y="557.1" font-size="8" textLength="7.5" lengthAdjust="spacingAndGlyphs">10</text>
<text x="588.5" y="554.2" font-size="4.5" textLength="2.0" lengthAdjust="spacingAndGlyphs">0</text>
<text x="594.3" y="557.1" font-size="8" textLength="7.5" lengthAdjust="spacingAndGlyphs">10</text>
<text x="601.9" y="554.2" font-size="4.5" textLength="2.0" lengthAdjust="spacingAndGlyphs">1</text>
<text x="607.6" y="557.1" font-size="8" textLength="7.5" lengthAdjust="spacingAndGlyphs">10</text>
<text x="615.2" y="554.2" font-size="4.5" textLength="2.0" lengthAdjust="spacingAndGlyphs">2</text>
<text x="621.0" y="557.1" font-size="8" textLength="7.5" lengthAdjust="spacingAndGlyphs">10</text>
<text x="628.6" y="554.2" font-size="4.5" textLength="2.0" lengthAdjust="spacingAndGlyphs">3</text>
<text x="586.00" y="565.01" font-size="7.0" textLength="74.50" lengthAdjust="spacingAndGlyphs" text-anchor="middle">Ab concentration (ng/mL)</text>
<text x="39.00" y="581.02" font-size="9.0" font-weight="bold" textLength="32.70" lengthAdjust="spacingAndGlyphs">K<tspan font-size="5.22" dy="1.98">D</tspan><tspan dy="-1.98"> (nM)</tspan></text>
<rect x="38.00" y="586.90" width="279.40" height="57.00" fill="none" stroke="#000" stroke-width="1.0"/>
<line x1="38.00" y1="599.40" x2="317.40" y2="599.40" stroke="#000" stroke-width="0.9"/>
<line x1="90.40" y1="586.90" x2="90.40" y2="643.90" stroke="#000" stroke-width="0.9"/>
<line x1="203.90" y1="586.90" x2="203.90" y2="643.90" stroke="#000" stroke-width="0.9"/>
<text x="52.10" y="595.69" font-size="7.8" textLength="22.24" lengthAdjust="spacingAndGlyphs" font-weight="bold" text-anchor="middle">Ligand</text>
<text x="79.00" y="595.69" font-size="7.8" textLength="18.48" lengthAdjust="spacingAndGlyphs" font-weight="bold" text-anchor="middle">Clade</text>
<text x="109.60" y="595.69" font-size="7.8" textLength="11.32" lengthAdjust="spacingAndGlyphs" font-weight="bold" text-anchor="middle">aJ3</text>
<text x="147.10" y="595.69" font-size="7.8" textLength="21.88" lengthAdjust="spacingAndGlyphs" font-weight="bold" text-anchor="middle">aJ3-2X</text>
<text x="185.00" y="595.69" font-size="7.8" textLength="21.88" lengthAdjust="spacingAndGlyphs" font-weight="bold" text-anchor="middle">aJ3-4X</text>
<text x="222.70" y="595.69" font-size="7.8" textLength="21.50" lengthAdjust="spacingAndGlyphs" font-weight="bold" text-anchor="middle">aJ3-Fc</text>
<text x="260.40" y="595.69" font-size="7.8" textLength="32.06" lengthAdjust="spacingAndGlyphs" font-weight="bold" text-anchor="middle">aJ3-2X-Fc</text>
<text x="298.60" y="595.69" font-size="7.8" textLength="32.06" lengthAdjust="spacingAndGlyphs" font-weight="bold" text-anchor="middle">aJ3-4X-Fc</text>
<text x="52.10" y="607.49" font-size="7.8" textLength="18.34" lengthAdjust="spacingAndGlyphs" text-anchor="middle">UG37</text>
<text x="79.00" y="607.49" font-size="7.8" textLength="4.68" lengthAdjust="spacingAndGlyphs" text-anchor="middle">A</text>
<text x="109.60" y="607.49" font-size="7.8" textLength="13.66" lengthAdjust="spacingAndGlyphs" text-anchor="middle">12.8</text>
<text x="147.10" y="607.49" font-size="7.8" textLength="13.66" lengthAdjust="spacingAndGlyphs" text-anchor="middle">33.6</text>
<text x="185.00" y="607.49" font-size="7.8" textLength="13.66" lengthAdjust="spacingAndGlyphs" text-anchor="middle">14.1</text>
<text x="222.70" y="607.49" font-size="7.8" textLength="13.66" lengthAdjust="spacingAndGlyphs" text-anchor="middle">47.7</text>
<text x="260.40" y="607.49" font-size="7.8" textLength="9.76" lengthAdjust="spacingAndGlyphs" text-anchor="middle">8.7</text>
<text x="298.60" y="607.49" font-size="7.8" textLength="9.76" lengthAdjust="spacingAndGlyphs" text-anchor="middle">3.3</text>
<text x="52.10" y="618.69" font-size="7.8" textLength="20.68" lengthAdjust="spacingAndGlyphs" text-anchor="middle">SF162</text>
<text x="79.00" y="618.69" font-size="7.8" textLength="4.68" lengthAdjust="spacingAndGlyphs" text-anchor="middle">B</text>
<text x="109.60" y="618.69" font-size="7.8" textLength="13.66" lengthAdjust="spacingAndGlyphs" text-anchor="middle">17.7</text>
<text x="147.10" y="618.69" font-size="7.8" textLength="13.66" lengthAdjust="spacingAndGlyphs" text-anchor="middle">42.9</text>
<text x="185.00" y="618.69" font-size="7.8" textLength="13.66" lengthAdjust="spacingAndGlyphs" text-anchor="middle">21.4</text>
<text x="222.70" y="618.69" font-size="7.8" textLength="13.66" lengthAdjust="spacingAndGlyphs" text-anchor="middle">40.1</text>
<text x="260.40" y="618.69" font-size="7.8" textLength="9.76" lengthAdjust="spacingAndGlyphs" text-anchor="middle">6.6</text>
<text x="298.60" y="618.69" font-size="7.8" textLength="9.76" lengthAdjust="spacingAndGlyphs" text-anchor="middle">1.5</text>
<text x="52.10" y="629.89" font-size="7.8" textLength="16.77" lengthAdjust="spacingAndGlyphs" text-anchor="middle">JRFL</text>
<text x="79.00" y="629.89" font-size="7.8" textLength="4.68" lengthAdjust="spacingAndGlyphs" text-anchor="middle">B</text>
<text x="109.60" y="629.89" font-size="7.8" textLength="13.66" lengthAdjust="spacingAndGlyphs" text-anchor="middle">62.7</text>
<text x="147.10" y="629.89" font-size="7.8" textLength="13.66" lengthAdjust="spacingAndGlyphs" text-anchor="middle">91.3</text>
<text x="185.00" y="629.89" font-size="7.8" textLength="13.66" lengthAdjust="spacingAndGlyphs" text-anchor="middle">17.1</text>
<text x="222.70" y="629.89" font-size="7.8" textLength="17.57" lengthAdjust="spacingAndGlyphs" text-anchor="middle">164.0</text>
<text x="260.40" y="629.89" font-size="7.8" textLength="13.66" lengthAdjust="spacingAndGlyphs" text-anchor="middle">61.9</text>
<text x="298.60" y="629.89" font-size="7.8" textLength="13.66" lengthAdjust="spacingAndGlyphs" text-anchor="middle">13.3</text>
<text x="52.10" y="640.69" font-size="7.8" textLength="20.68" lengthAdjust="spacingAndGlyphs" text-anchor="middle">C1086</text>
<text x="79.00" y="640.69" font-size="7.8" textLength="5.07" lengthAdjust="spacingAndGlyphs" text-anchor="middle">C</text>
<text x="109.60" y="640.69" font-size="7.8" textLength="13.66" lengthAdjust="spacingAndGlyphs" text-anchor="middle">13.2</text>
<text x="147.10" y="640.69" font-size="7.8" textLength="13.66" lengthAdjust="spacingAndGlyphs" text-anchor="middle">36.5</text>
<text x="185.00" y="640.69" font-size="7.8" textLength="9.76" lengthAdjust="spacingAndGlyphs" text-anchor="middle">4.2</text>
<text x="222.70" y="640.69" font-size="7.8" textLength="13.66" lengthAdjust="spacingAndGlyphs" text-anchor="middle">48.8</text>
<text x="260.40" y="640.69" font-size="7.8" textLength="9.76" lengthAdjust="spacingAndGlyphs" text-anchor="middle">7.3</text>
<text x="298.60" y="640.69" font-size="7.8" textLength="9.76" lengthAdjust="spacingAndGlyphs" text-anchor="middle">1.8</text>
<text x="329.70" y="582.22" font-size="9.0" font-weight="bold" textLength="52.60" lengthAdjust="spacingAndGlyphs">IC<tspan font-size="5.22" dy="1.98">50</tspan><tspan dy="-1.98"> (ng/mL)</tspan></text>
<rect x="400.70" y="574.60" width="14.80" height="9.80" fill="#040466"/>
<rect x="457.70" y="574.60" width="14.80" height="9.80" fill="#0808f2"/>
<rect x="541.00" y="574.60" width="14.80" height="9.80" fill="#2f92f0"/>
<rect x="625.30" y="574.60" width="14.80" height="9.80" fill="#cfe9fb"/>
<text x="419.60" y="582.28" font-size="8.6" textLength="28.90" lengthAdjust="spacingAndGlyphs">IC<tspan font-size="4.99" dy="1.89">50</tspan><tspan dy="-1.89"> &lt; 10</tspan></text>
<text x="478.70" y="582.28" font-size="8.6" textLength="51.30" lengthAdjust="spacingAndGlyphs">10 &lt; IC<tspan font-size="4.99" dy="1.89">50</tspan><tspan dy="-1.89"> &lt; 100</tspan></text>
<text x="559.40" y="582.28" font-size="8.6" textLength="59.90" lengthAdjust="spacingAndGlyphs">100 &lt; IC<tspan font-size="4.99" dy="1.89">50</tspan><tspan dy="-1.89"> &lt; 1000</tspan></text>
<text x="645.00" y="582.28" font-size="8.6" textLength="38.00" lengthAdjust="spacingAndGlyphs">IC<tspan font-size="4.99" dy="1.89">50</tspan><tspan dy="-1.89"> &gt; 1000</tspan></text>
<rect x="386.70" y="608.40" width="58.30" height="12.40" fill="#0808f2" shape-rendering="crispEdges"/>
<rect x="444.50" y="608.40" width="47.80" height="12.40" fill="#0808f2" shape-rendering="crispEdges"/>
<rect x="491.80" y="608.40" width="61.00" height="12.40" fill="#0808f2" shape-rendering="crispEdges"/>
<rect x="552.30" y="608.40" width="45.20" height="12.40" fill="#040466" shape-rendering="crispEdges"/>
<rect x="597.00" y="608.40" width="44.00" height="12.40" fill="#cfe9fb" shape-rendering="crispEdges"/>
<rect x="640.50" y="608.40" width="44.40" height="12.40" fill="#cfe9fb" shape-rendering="crispEdges"/>
<rect x="386.70" y="620.30" width="58.30" height="12.40" fill="#0808f2" shape-rendering="crispEdges"/>
<rect x="444.50" y="620.30" width="47.80" height="12.40" fill="#0808f2" shape-rendering="crispEdges"/>
<rect x="491.80" y="620.30" width="61.00" height="12.40" fill="#0808f2" shape-rendering="crispEdges"/>
<rect x="552.30" y="620.30" width="45.20" height="12.40" fill="#040466" shape-rendering="crispEdges"/>
<rect x="597.00" y="620.30" width="44.00" height="12.40" fill="#cfe9fb" shape-rendering="crispEdges"/>
<rect x="640.50" y="620.30" width="44.40" height="12.40" fill="#cfe9fb" shape-rendering="crispEdges"/>
<rect x="386.70" y="632.20" width="58.30" height="11.70" fill="#040466" shape-rendering="crispEdges"/>
<rect x="444.50" y="632.20" width="47.80" height="11.70" fill="#040466" shape-rendering="crispEdges"/>
<rect x="491.80" y="632.20" width="61.00" height="11.70" fill="#040466" shape-rendering="crispEdges"/>
<rect x="552.30" y="632.20" width="45.20" height="11.70" fill="#040466" shape-rendering="crispEdges"/>
<rect x="597.00" y="632.20" width="44.00" height="11.70" fill="#cfe9fb" shape-rendering="crispEdges"/>
<rect x="640.50" y="632.20" width="44.40" height="11.70" fill="#cfe9fb" shape-rendering="crispEdges"/>
<rect x="386.70" y="645.20" width="58.30" height="12.90" fill="#2f92f0" shape-rendering="crispEdges"/>
<rect x="444.50" y="645.20" width="47.80" height="12.90" fill="#0808f2" shape-rendering="crispEdges"/>
<rect x="491.80" y="645.20" width="61.00" height="12.90" fill="#0808f2" shape-rendering="crispEdges"/>
<rect x="552.30" y="645.20" width="45.20" height="12.90" fill="#0808f2" shape-rendering="crispEdges"/>
<rect x="597.00" y="645.20" width="44.00" height="12.90" fill="#cfe9fb" shape-rendering="crispEdges"/>
<rect x="640.50" y="645.20" width="44.40" height="12.90" fill="#cfe9fb" shape-rendering="crispEdges"/>
<rect x="386.70" y="657.60" width="58.30" height="12.90" fill="#0808f2" shape-rendering="crispEdges"/>
<rect x="444.50" y="657.60" width="47.80" height="12.90" fill="#040466" shape-rendering="crispEdges"/>
<rect x="491.80" y="657.60" width="61.00" height="12.90" fill="#0808f2" shape-rendering="crispEdges"/>
<rect x="552.30" y="657.60" width="45.20" height="12.90" fill="#040466" shape-rendering="crispEdges"/>
<rect x="597.00" y="657.60" width="44.00" height="12.90" fill="#cfe9fb" shape-rendering="crispEdges"/>
<rect x="640.50" y="657.60" width="44.40" height="12.90" fill="#cfe9fb" shape-rendering="crispEdges"/>
<rect x="386.70" y="670.00" width="58.30" height="12.40" fill="#040466" shape-rendering="crispEdges"/>
<rect x="444.50" y="670.00" width="47.80" height="12.40" fill="#040466" shape-rendering="crispEdges"/>
<rect x="491.80" y="670.00" width="61.00" height="12.40" fill="#040466" shape-rendering="crispEdges"/>
<rect x="552.30" y="670.00" width="45.20" height="12.40" fill="#040466" shape-rendering="crispEdges"/>
<rect x="597.00" y="670.00" width="44.00" height="12.40" fill="#cfe9fb" shape-rendering="crispEdges"/>
<rect x="640.50" y="670.00" width="44.40" height="12.40" fill="#cfe9fb" shape-rendering="crispEdges"/>
<rect x="328.20" y="586.20" width="356.20" height="96.40" fill="none" stroke="#000" stroke-width="0.9"/>
<line x1="328.20" y1="608.20" x2="684.40" y2="608.20" stroke="#000" stroke-width="0.9"/>
<line x1="328.20" y1="644.50" x2="386.70" y2="644.50" stroke="#000" stroke-width="0.8"/>
<line x1="386.70" y1="644.30" x2="684.40" y2="644.30" stroke="#000" stroke-width="0.8"/>
<line x1="386.70" y1="586.20" x2="386.70" y2="682.60" stroke="#000" stroke-width="0.9"/>
<text x="415.60" y="594.85" font-size="7.4" textLength="25.37" lengthAdjust="spacingAndGlyphs" font-weight="bold" text-anchor="middle">Clade A</text>
<text x="415.60" y="605.35" font-size="7.4" textLength="54.37" lengthAdjust="spacingAndGlyphs" text-anchor="middle">SHIV-KNH1144p2</text>
<text x="468.60" y="594.85" font-size="7.4" textLength="25.62" lengthAdjust="spacingAndGlyphs" font-weight="bold" text-anchor="middle">Clade B</text>
<text x="468.60" y="605.35" font-size="7.4" textLength="36.71" lengthAdjust="spacingAndGlyphs" text-anchor="middle">SHIV-162p3</text>
<text x="522.00" y="594.85" font-size="7.4" textLength="25.62" lengthAdjust="spacingAndGlyphs" font-weight="bold" text-anchor="middle">Clade C</text>
<text x="522.00" y="605.35" font-size="7.4" textLength="53.99" lengthAdjust="spacingAndGlyphs" text-anchor="middle">SHIV-1157ipd3N4</text>
<text x="574.60" y="594.85" font-size="7.4" textLength="25.62" lengthAdjust="spacingAndGlyphs" font-weight="bold" text-anchor="middle">Clade C</text>
<text x="574.60" y="605.35" font-size="7.4" textLength="34.06" lengthAdjust="spacingAndGlyphs" text-anchor="middle">SHIV-C109</text>
<text x="618.50" y="594.85" font-size="7.4" textLength="29.96" lengthAdjust="spacingAndGlyphs" font-weight="bold" text-anchor="middle">Clade AE</text>
<text x="618.50" y="605.35" font-size="7.4" textLength="34.44" lengthAdjust="spacingAndGlyphs" text-anchor="middle">SHIV-AE16</text>
<text x="662.60" y="594.85" font-size="7.4" textLength="29.96" lengthAdjust="spacingAndGlyphs" font-weight="bold" text-anchor="middle">Clade AE</text>
<text x="662.60" y="605.35" font-size="7.4" textLength="39.61" lengthAdjust="spacingAndGlyphs" text-anchor="middle">HIV-1 RV217</text>
<text x="357.20" y="605.35" font-size="7.4" textLength="33.28" lengthAdjust="spacingAndGlyphs" font-weight="bold" text-anchor="middle">Nanobody</text>
<line x1="329.90" y1="614.50" x2="344.70" y2="614.50" stroke="#ff0000" stroke-width="0.85"/>
<circle cx="337.4" cy="614.5" r="2.62" fill="#fff" stroke="#ff0000" stroke-width="1.0"/>
<text x="347.80" y="617.02" font-size="7.6" textLength="10.54" lengthAdjust="spacingAndGlyphs">aJ3</text>
<text x="415.60" y="617.15" font-size="7.4" textLength="12.96" lengthAdjust="spacingAndGlyphs" font-weight="bold" text-anchor="middle" style="fill:#fff;stroke:#fff">12.7</text>
<text x="468.60" y="617.15" font-size="7.4" textLength="12.96" lengthAdjust="spacingAndGlyphs" font-weight="bold" text-anchor="middle" style="fill:#fff;stroke:#fff">10.4</text>
<text x="522.00" y="617.15" font-size="7.4" textLength="12.59" lengthAdjust="spacingAndGlyphs" font-weight="bold" text-anchor="middle" style="fill:#fff;stroke:#fff">11.6</text>
<text x="574.60" y="617.15" font-size="7.4" textLength="9.26" lengthAdjust="spacingAndGlyphs" font-weight="bold" text-anchor="middle" style="fill:#fff;stroke:#fff">1.1</text>
<text x="618.50" y="617.15" font-size="7.4" textLength="22.90" lengthAdjust="spacingAndGlyphs" font-weight="bold" text-anchor="middle">&gt; 5,000</text>
<text x="662.60" y="617.15" font-size="7.4" textLength="22.90" lengthAdjust="spacingAndGlyphs" font-weight="bold" text-anchor="middle">&gt; 5,000</text>
<line x1="329.90" y1="626.10" x2="344.70" y2="626.10" stroke="#0000ff" stroke-width="0.85"/>
<rect x="334.8" y="623.5" width="5.29" height="5.29" fill="#fff" stroke="#0000ff" stroke-width="1.0"/>
<text x="347.80" y="628.62" font-size="7.6" textLength="20.71" lengthAdjust="spacingAndGlyphs">aJ3-2X</text>
<text x="415.60" y="628.75" font-size="7.4" textLength="12.96" lengthAdjust="spacingAndGlyphs" font-weight="bold" text-anchor="middle" style="fill:#fff;stroke:#fff">27.7</text>
<text x="468.60" y="628.75" font-size="7.4" textLength="12.96" lengthAdjust="spacingAndGlyphs" font-weight="bold" text-anchor="middle" style="fill:#fff;stroke:#fff">13.5</text>
<text x="522.00" y="628.75" font-size="7.4" textLength="12.96" lengthAdjust="spacingAndGlyphs" font-weight="bold" text-anchor="middle" style="fill:#fff;stroke:#fff">21.6</text>
<text x="574.60" y="628.75" font-size="7.4" textLength="9.26" lengthAdjust="spacingAndGlyphs" font-weight="bold" text-anchor="middle" style="fill:#fff;stroke:#fff">4.7</text>
<text x="618.50" y="628.75" font-size="7.4" textLength="22.90" lengthAdjust="spacingAndGlyphs" font-weight="bold" text-anchor="middle">&gt; 5,000</text>
<text x="662.60" y="628.75" font-size="7.4" textLength="22.90" lengthAdjust="spacingAndGlyphs" font-weight="bold" text-anchor="middle">&gt; 5,000</text>
<line x1="329.90" y1="638.50" x2="344.70" y2="638.50" stroke="#000000" stroke-width="0.85"/>
<path d="M337.4,634.8 L341.0,641.1 L333.8,641.1 Z" fill="#fff" stroke="#000000" stroke-width="0.85"/>
<text x="347.80" y="641.02" font-size="7.6" textLength="20.71" lengthAdjust="spacingAndGlyphs">aJ3-4X</text>
<text x="415.60" y="641.15" font-size="7.4" textLength="9.26" lengthAdjust="spacingAndGlyphs" font-weight="bold" text-anchor="middle" style="fill:#fff;stroke:#fff">9.1</text>
<text x="468.60" y="641.15" font-size="7.4" textLength="9.26" lengthAdjust="spacingAndGlyphs" font-weight="bold" text-anchor="middle" style="fill:#fff;stroke:#fff">1.8</text>
<text x="522.00" y="641.15" font-size="7.4" textLength="9.26" lengthAdjust="spacingAndGlyphs" font-weight="bold" text-anchor="middle" style="fill:#fff;stroke:#fff">9.1</text>
<text x="574.60" y="641.15" font-size="7.4" textLength="9.26" lengthAdjust="spacingAndGlyphs" font-weight="bold" text-anchor="middle" style="fill:#fff;stroke:#fff">1.0</text>
<text x="618.50" y="641.15" font-size="7.4" textLength="22.90" lengthAdjust="spacingAndGlyphs" font-weight="bold" text-anchor="middle">&gt; 5,000</text>
<text x="662.60" y="641.15" font-size="7.4" textLength="22.90" lengthAdjust="spacingAndGlyphs" font-weight="bold" text-anchor="middle">&gt; 5,000</text>
<line x1="329.90" y1="651.60" x2="344.70" y2="651.60" stroke="#ff0000" stroke-width="0.85"/>
<circle cx="337.4" cy="651.6" r="2.62" fill="#ff0000" stroke="#ff0000" stroke-width="1.0"/>
<text x="347.80" y="654.12" font-size="7.6" textLength="19.97" lengthAdjust="spacingAndGlyphs">aJ3-Fc</text>
<text x="415.60" y="654.25" font-size="7.4" textLength="16.66" lengthAdjust="spacingAndGlyphs" font-weight="bold" text-anchor="middle" style="fill:#fff;stroke:#fff">125.3</text>
<text x="468.60" y="654.25" font-size="7.4" textLength="12.96" lengthAdjust="spacingAndGlyphs" font-weight="bold" text-anchor="middle" style="fill:#fff;stroke:#fff">28.9</text>
<text x="522.00" y="654.25" font-size="7.4" textLength="12.96" lengthAdjust="spacingAndGlyphs" font-weight="bold" text-anchor="middle" style="fill:#fff;stroke:#fff">98.7</text>
<text x="574.60" y="654.25" font-size="7.4" textLength="12.96" lengthAdjust="spacingAndGlyphs" font-weight="bold" text-anchor="middle" style="fill:#fff;stroke:#fff">34.1</text>
<text x="618.50" y="654.25" font-size="7.4" textLength="22.90" lengthAdjust="spacingAndGlyphs" font-weight="bold" text-anchor="middle">&gt; 5,000</text>
<text x="662.60" y="654.25" font-size="7.4" textLength="22.90" lengthAdjust="spacingAndGlyphs" font-weight="bold" text-anchor="middle">&gt; 5,000</text>
<line x1="329.90" y1="663.90" x2="344.70" y2="663.90" stroke="#0000ff" stroke-width="0.85"/>
<rect x="334.8" y="661.3" width="5.29" height="5.29" fill="#0000ff" stroke="#0000ff" stroke-width="1.0"/>
<text x="347.80" y="666.42" font-size="7.6" textLength="30.14" lengthAdjust="spacingAndGlyphs">aJ3-2X-Fc</text>
<text x="415.60" y="666.55" font-size="7.4" textLength="12.96" lengthAdjust="spacingAndGlyphs" font-weight="bold" text-anchor="middle" style="fill:#fff;stroke:#fff">25.4</text>
<text x="468.60" y="666.55" font-size="7.4" textLength="9.26" lengthAdjust="spacingAndGlyphs" font-weight="bold" text-anchor="middle" style="fill:#fff;stroke:#fff">5.8</text>
<text x="522.00" y="666.55" font-size="7.4" textLength="12.96" lengthAdjust="spacingAndGlyphs" font-weight="bold" text-anchor="middle" style="fill:#fff;stroke:#fff">17.6</text>
<text x="574.60" y="666.55" font-size="7.4" textLength="9.26" lengthAdjust="spacingAndGlyphs" font-weight="bold" text-anchor="middle" style="fill:#fff;stroke:#fff">3.1</text>
<text x="618.50" y="666.55" font-size="7.4" textLength="22.90" lengthAdjust="spacingAndGlyphs" font-weight="bold" text-anchor="middle">&gt; 5,000</text>
<text x="662.60" y="666.55" font-size="7.4" textLength="22.90" lengthAdjust="spacingAndGlyphs" font-weight="bold" text-anchor="middle">&gt; 5,000</text>
<line x1="329.90" y1="676.50" x2="344.70" y2="676.50" stroke="#000000" stroke-width="0.85"/>
<path d="M337.4,672.8 L341.0,679.1 L333.8,679.1 Z" fill="#000000" stroke="#000000" stroke-width="0.85"/>
<text x="347.80" y="679.02" font-size="7.6" textLength="30.14" lengthAdjust="spacingAndGlyphs">aJ3-4X-Fc</text>
<text x="415.60" y="679.15" font-size="7.4" textLength="9.26" lengthAdjust="spacingAndGlyphs" font-weight="bold" text-anchor="middle" style="fill:#fff;stroke:#fff">3.7</text>
<text x="468.60" y="679.15" font-size="7.4" textLength="9.26" lengthAdjust="spacingAndGlyphs" font-weight="bold" text-anchor="middle" style="fill:#fff;stroke:#fff">0.8</text>
<text x="522.00" y="679.15" font-size="7.4" textLength="9.26" lengthAdjust="spacingAndGlyphs" font-weight="bold" text-anchor="middle" style="fill:#fff;stroke:#fff">2.8</text>
<text x="574.60" y="679.15" font-size="7.4" textLength="9.26" lengthAdjust="spacingAndGlyphs" font-weight="bold" text-anchor="middle" style="fill:#fff;stroke:#fff">0.6</text>
<text x="618.50" y="679.15" font-size="7.4" textLength="22.90" lengthAdjust="spacingAndGlyphs" font-weight="bold" text-anchor="middle">&gt; 5,000</text>
<text x="662.60" y="679.15" font-size="7.4" textLength="22.90" lengthAdjust="spacingAndGlyphs" font-weight="bold" text-anchor="middle">&gt; 5,000</text>
</svg>
</body></html>
